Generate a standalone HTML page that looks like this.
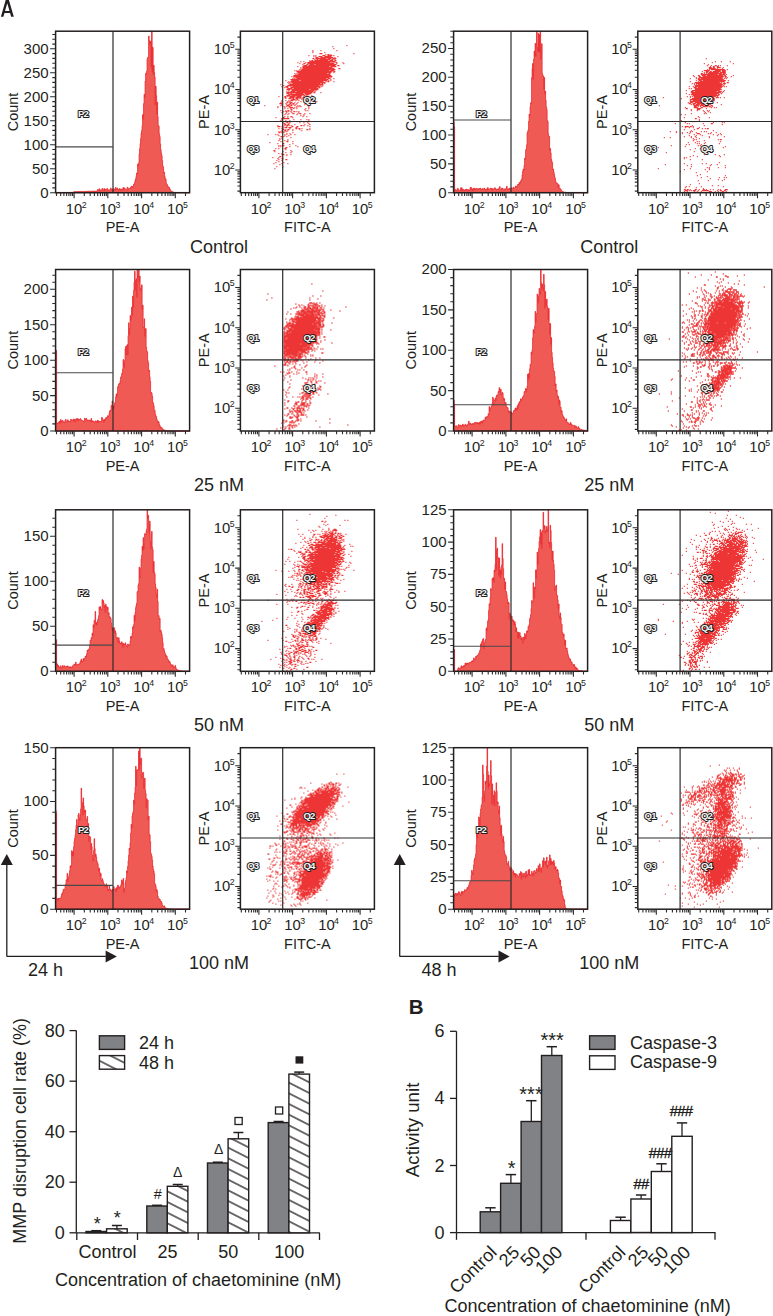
<!DOCTYPE html>
<html><head><meta charset="utf-8"><style>
html,body{margin:0;padding:0;background:#fff;}
body{width:773px;height:1316px;overflow:hidden;}
svg{display:block;font-family:"Liberation Sans", sans-serif;}
</style></head><body>
<svg width="773" height="1316" viewBox="0 0 773 1316">
<rect width="773" height="1316" fill="#fff"/>
<path d="M55.6 192.7L55.6 192.7L56.1 192.7L56.1 192.7L56.6 192.7L56.6 192.7L57.1 192.7L57.1 192.7L57.6 192.7L57.6 192.7L58.1 192.7L58.1 192.7L58.6 192.7L58.6 192.7L59.1 192.7L59.1 192.7L59.6 192.7L59.6 192.7L60.1 192.7L60.1 192.7L60.6 192.7L60.6 192.7L61.1 192.7L61.1 192.7L61.6 192.7L61.6 192.7L62.1 192.7L62.1 192.7L62.6 192.7L62.6 192.7L63.1 192.7L63.1 192.7L63.6 192.7L63.6 192.7L64.1 192.7L64.1 192.7L64.6 192.7L64.6 192.7L65.1 192.7L65.1 192.7L65.6 192.7L65.6 192.7L66.1 192.7L66.1 192.7L66.6 192.7L66.6 192.7L67.1 192.7L67.1 192.7L67.6 192.7L67.6 192.7L68.1 192.7L68.1 192.7L68.6 192.7L68.6 192.7L69.1 192.7L69.1 192.7L69.6 192.7L69.6 192.7L70.1 192.7L70.1 192.7L70.6 192.7L70.6 192.7L71.1 192.7L71.1 192.7L71.6 192.7L71.6 192.7L72.1 192.7L72.1 192.7L72.6 192.7L72.6 192.7L73.1 192.7L73.1 192.7L73.6 192.7L73.6 191.8L74.1 191.8L74.1 191.7L74.6 191.7L74.6 191.7L75.1 191.7L75.1 191.8L75.6 191.8L75.6 191.6L76.1 191.6L76.1 191.7L76.6 191.7L76.6 191.6L77.1 191.6L77.1 191.5L77.6 191.5L77.6 191.6L78.1 191.6L78.1 191.6L78.6 191.6L78.6 191.5L79.1 191.5L79.1 191.5L79.6 191.5L79.6 191.4L80.1 191.4L80.1 191.6L80.6 191.6L80.6 191.4L81.1 191.4L81.1 191.5L81.6 191.5L81.6 191.6L82.1 191.6L82.1 191.6L82.6 191.6L82.6 191.4L83.1 191.4L83.1 191.4L83.6 191.4L83.6 191.4L84.1 191.4L84.1 191.5L84.6 191.5L84.6 191.4L85.1 191.4L85.1 191.5L85.6 191.5L85.6 191.6L86.1 191.6L86.1 191.4L86.6 191.4L86.6 191.2L87.1 191.2L87.1 191.3L87.6 191.3L87.6 191.4L88.1 191.4L88.1 191.2L88.6 191.2L88.6 191.4L89.1 191.4L89.1 191.3L89.6 191.3L89.6 191.2L90.1 191.2L90.1 191.3L90.6 191.3L90.6 191.3L91.1 191.3L91.1 191.2L91.6 191.2L91.6 191.2L92.1 191.2L92.1 191.3L92.6 191.3L92.6 191.1L93.1 191.1L93.1 191.2L93.6 191.2L93.6 191.1L94.1 191.1L94.1 191.3L94.6 191.3L94.6 191.1L95.1 191.1L95.1 191.2L95.6 191.2L95.6 191.2L96.1 191.2L96.1 191.3L96.6 191.3L96.6 191L97.1 191L97.1 190.7L97.6 190.7L97.6 189.5L98.1 189.5L98.1 189.8L98.6 189.8L98.6 190.7L99.1 190.7L99.1 188.8L99.6 188.8L99.6 189.9L100.1 189.9L100.1 191L100.6 191L100.6 189.9L101.1 189.9L101.1 189.8L101.6 189.8L101.6 189.8L102.1 189.8L102.1 188.4L102.6 188.4L102.6 188.8L103.1 188.8L103.1 190L103.6 190L103.6 190.4L104.1 190.4L104.1 188.6L104.6 188.6L104.6 190.5L105.1 190.5L105.1 189.3L105.6 189.3L105.6 189.9L106.1 189.9L106.1 189.4L106.6 189.4L106.6 189.1L107.1 189.1L107.1 188.4L107.6 188.4L107.6 190.5L108.1 190.5L108.1 190.5L108.6 190.5L108.6 189.8L109.1 189.8L109.1 189.9L109.6 189.9L109.6 189.9L110.1 189.9L110.1 189.4L110.6 189.4L110.6 188L111.1 188L111.1 189.6L111.6 189.6L111.6 190.3L112.1 190.3L112.1 189.6L112.6 189.6L112.6 190.6L113.1 190.6L113.1 188.7L113.6 188.7L113.6 189.5L114.1 189.5L114.1 188.9L114.6 188.9L114.6 189.5L115.1 189.5L115.1 189.9L115.6 189.9L115.6 187.3L116.1 187.3L116.1 189.4L116.6 189.4L116.6 189.5L117.1 189.5L117.1 188L117.6 188L117.6 189.3L118.1 189.3L118.1 190L118.6 190L118.6 189.7L119.1 189.7L119.1 188.6L119.6 188.6L119.6 189.8L120.1 189.8L120.1 189L120.6 189L120.6 190.1L121.1 190.1L121.1 189.8L121.6 189.8L121.6 189L122.1 189L122.1 188.9L122.6 188.9L122.6 190L123.1 190L123.1 187.5L123.6 187.5L123.6 187.6L124.1 187.6L124.1 189.4L124.6 189.4L124.6 188.3L125.1 188.3L125.1 189.2L125.6 189.2L125.6 189.8L126.1 189.8L126.1 189.8L126.6 189.8L126.6 190.1L127.1 190.1L127.1 187.2L127.6 187.2L127.6 187.6L128.1 187.6L128.1 188.8L128.6 188.8L128.6 189L129.1 189L129.1 188.6L129.6 188.6L129.6 188.6L130.1 188.6L130.1 188.4L130.6 188.4L130.6 187L131.1 187L131.1 187.3L131.6 187.3L131.6 186.1L132.1 186.1L132.1 186.5L132.6 186.5L132.6 187.5L133.1 187.5L133.1 186.2L133.6 186.2L133.6 184.1L134.1 184.1L134.1 184.4L134.6 184.4L134.6 182.3L135.1 182.3L135.1 180.1L135.6 180.1L135.6 178.8L136.1 178.8L136.1 175.7L136.6 175.7L136.6 173L137.1 173L137.1 174L137.6 174L137.6 164.2L138.1 164.2L138.1 166.4L138.6 166.4L138.6 162.9L139.1 162.9L139.1 154.1L139.6 154.1L139.6 148.7L140.1 148.7L140.1 143.6L140.6 143.6L140.6 138.4L141.1 138.4L141.1 133L141.6 133L141.6 130.6L142.1 130.6L142.1 125.7L142.6 125.7L142.6 114.6L143.1 114.6L143.1 119.3L143.6 119.3L143.6 103.6L144.1 103.6L144.1 94.3L144.6 94.3L144.6 97.7L145.1 97.7L145.1 81.1L145.6 81.1L145.6 73.3L146.1 73.3L146.1 73.8L146.6 73.8L146.6 71.2L147.1 71.2L147.1 58.7L147.6 58.7L147.6 57.3L148.1 57.3L148.1 57.4L148.6 57.4L148.6 36L149.1 36L149.1 40.4L149.6 40.4L149.6 44.1L150.1 44.1L150.1 41.1L150.6 41.1L150.6 42.6L151.1 42.6L151.1 66.9L151.6 66.9L151.6 31.2L152.1 31.2L152.1 71.6L152.6 71.6L152.6 47.3L153.1 47.3L153.1 74.7L153.6 74.7L153.6 65.3L154.1 65.3L154.1 72.2L154.6 72.2L154.6 76.9L155.1 76.9L155.1 104.9L155.6 104.9L155.6 86.2L156.1 86.2L156.1 95.5L156.6 95.5L156.6 114.5L157.1 114.5L157.1 102.1L157.6 102.1L157.6 116.5L158.1 116.5L158.1 125.4L158.6 125.4L158.6 126L159.1 126L159.1 133.9L159.6 133.9L159.6 136.6L160.1 136.6L160.1 144.1L160.6 144.1L160.6 149.7L161.1 149.7L161.1 153.1L161.6 153.1L161.6 155.6L162.1 155.6L162.1 160.6L162.6 160.6L162.6 165.7L163.1 165.7L163.1 167.2L163.6 167.2L163.6 172.8L164.1 172.8L164.1 172.2L164.6 172.2L164.6 176.5L165.1 176.5L165.1 178.7L165.6 178.7L165.6 179.2L166.1 179.2L166.1 183.2L166.6 183.2L166.6 184.3L167.1 184.3L167.1 184.8L167.6 184.8L167.6 186.7L168.1 186.7L168.1 186.8L168.6 186.8L168.6 187.9L169.1 187.9L169.1 187.5L169.6 187.5L169.6 189.1L170.1 189.1L170.1 189.8L170.6 189.8L170.6 190.8L171.1 190.8L171.1 191.3L171.6 191.3L171.6 191.6L172.1 191.6L172.1 191.7L172.6 191.7L172.6 191.9L173.1 191.9L173.1 192.2L173.6 192.2L173.6 192.3L174.1 192.3L174.1 192.4L174.6 192.4L174.6 192.4L175.1 192.4L175.1 192.5L175.6 192.5L175.6 192.5L176.1 192.5L176.1 192.6L176.6 192.6L176.6 192.6L177.1 192.6L177.1 192.6L177.6 192.6L177.6 192.6L178.1 192.6L178.1 192.7L178.6 192.7L178.6 192.7L179.1 192.7L179.1 192.7L179.6 192.7L179.6 192.7L180.1 192.7L180.1 192.7L180.6 192.7L180.6 192.7L181.1 192.7L181.1 192.7L181.6 192.7L181.6 192.7L182.1 192.7L182.1 192.7L182.6 192.7L182.6 192.7L183.1 192.7L183.1 192.7L183.6 192.7L183.6 192.7L184.1 192.7L184.1 192.7L184.6 192.7L184.6 192.7L185.1 192.7L185.1 192.7L185.6 192.7L185.6 192.7L186.1 192.7L186.1 192.7L186.6 192.7L186.6 192.7L187.1 192.7L187.1 192.7L187.6 192.7L187.6 192.7L188.1 192.7L188.1 192.7L188.6 192.7L188.6 192.7L189.1 192.7L189.1 192.7L189.6 192.7L189.6 192.7Z" fill="#f05a55" stroke="#e8262b" stroke-width="0.8"/>
<line x1="113" y1="31.2" x2="113" y2="192.7" stroke="#2b2b2b" stroke-width="1.2"/>
<line x1="55.6" y1="146.9" x2="113" y2="146.9" stroke="#4a4a4a" stroke-width="1.1"/>
<rect x="55.6" y="31.2" width="134" height="161.5" fill="none" stroke="#231f20" stroke-width="1.5"/>
<text x="48.6" y="197.6" font-size="15" text-anchor="end" font-weight="normal" fill="#231f20">0</text>
<text x="48.6" y="173.6" font-size="15" text-anchor="end" font-weight="normal" fill="#231f20">50</text>
<text x="48.6" y="149.6" font-size="15" text-anchor="end" font-weight="normal" fill="#231f20">100</text>
<text x="48.6" y="125.7" font-size="15" text-anchor="end" font-weight="normal" fill="#231f20">150</text>
<text x="48.6" y="101.7" font-size="15" text-anchor="end" font-weight="normal" fill="#231f20">200</text>
<text x="48.6" y="77.7" font-size="15" text-anchor="end" font-weight="normal" fill="#231f20">250</text>
<text x="48.6" y="53.7" font-size="15" text-anchor="end" font-weight="normal" fill="#231f20">300</text>
<path d="M50.1 192.7h5.5M52.3 187.9h3.3M52.3 183.1h3.3M52.3 178.3h3.3M52.3 173.5h3.3M50.1 168.7h5.5M52.3 163.9h3.3M52.3 159.1h3.3M52.3 154.3h3.3M52.3 149.5h3.3M50.1 144.7h5.5M52.3 140h3.3M52.3 135.2h3.3M52.3 130.4h3.3M52.3 125.6h3.3M50.1 120.8h5.5M52.3 116h3.3M52.3 111.2h3.3M52.3 106.4h3.3M52.3 101.6h3.3M50.1 96.8h5.5M52.3 92h3.3M52.3 87.2h3.3M52.3 82.4h3.3M52.3 77.6h3.3M50.1 72.8h5.5M52.3 68h3.3M52.3 63.2h3.3M52.3 58.4h3.3M52.3 53.6h3.3M50.1 48.8h5.5M52.3 44.1h3.3M52.3 39.3h3.3M52.3 34.5h3.3" stroke="#2b2b2b" stroke-width="1.1" fill="none"/>
<path d="M56.5 192.7v3.2M60.7 192.7v3.2M63.9 192.7v3.2M66.6 192.7v3.2M68.9 192.7v3.2M70.8 192.7v3.2M72.6 192.7v3.2M74.1 192.7v5.5M84.3 192.7v3.2M90.2 192.7v3.2M94.4 192.7v3.2M97.7 192.7v3.2M100.4 192.7v3.2M102.6 192.7v3.2M104.6 192.7v3.2M106.3 192.7v3.2M107.8 192.7v5.5M118 192.7v3.2M124 192.7v3.2M128.2 192.7v3.2M131.4 192.7v3.2M134.1 192.7v3.2M136.4 192.7v3.2M138.3 192.7v3.2M140.1 192.7v3.2M141.6 192.7v5.5M151.8 192.7v3.2M157.7 192.7v3.2M161.9 192.7v3.2M165.2 192.7v3.2M167.9 192.7v3.2M170.1 192.7v3.2M172.1 192.7v3.2M173.8 192.7v3.2M175.3 192.7v5.5M185.5 192.7v3.2" stroke="#2b2b2b" stroke-width="1.1" fill="none"/>
<text x="74.1" y="213.5" font-size="14.8" text-anchor="middle" fill="#231f20">10</text>
<text x="81.7" y="207.5" font-size="8.8" fill="#231f20">2</text>
<text x="107.8" y="213.5" font-size="14.8" text-anchor="middle" fill="#231f20">10</text>
<text x="115.5" y="207.5" font-size="8.8" fill="#231f20">3</text>
<text x="141.6" y="213.5" font-size="14.8" text-anchor="middle" fill="#231f20">10</text>
<text x="149.2" y="207.5" font-size="8.8" fill="#231f20">4</text>
<text x="175.3" y="213.5" font-size="14.8" text-anchor="middle" fill="#231f20">10</text>
<text x="183" y="207.5" font-size="8.8" fill="#231f20">5</text>
<text x="18.4" y="112" font-size="14.5" text-anchor="middle" font-weight="normal" fill="#231f20" transform="rotate(-90 18.4 112)">Count</text>
<text x="122.6" y="232.2" font-size="14.5" text-anchor="middle" font-weight="normal" fill="#231f20">PE-A</text>
<text x="82.9" y="116.9" font-size="9.6" font-weight="bold" text-anchor="middle" fill="#f4f4f4" stroke="#231f20" stroke-width="2.0" stroke-linejoin="round" paint-order="stroke" letter-spacing="-0.9">P2</text>
<path transform="translate(240.4 31.2)" d="M106 14.5h1M92 15.5h1M93 17.5h1M72 19.5h1M80 19.5h1M96 19.5h1M72 20.5h1M72 21.5h1M84 21.5h1M79 22.5h3M113 22.5h1M85 23.5h1M87 23.5h2M90 23.5h1M68 24.5h1M73 24.5h1M75 24.5h1M82 24.5h3M87 24.5h5M93 24.5h1M73 25.5h1M75 25.5h1M78 25.5h4M84 25.5h7M97 25.5h1M75 26.5h3M80 26.5h13M94 26.5h1M72 27.5h2M75 27.5h11M87 27.5h4M92 27.5h4M74 28.5h1M76 28.5h2M79 28.5h11M91 28.5h2M94 28.5h1M69 29.5h1M71 29.5h2M74 29.5h14M89 29.5h4M94 29.5h2M60 30.5h1M63 30.5h1M69 30.5h26M57 31.5h1M65 31.5h1M67 31.5h23M91 31.5h1M93 31.5h1M95 31.5h2M102 31.5h1M59 32.5h1M63 32.5h2M67 32.5h27M96 32.5h1M103 32.5h1M62 33.5h1M66 33.5h2M69 33.5h5M75 33.5h21M63 34.5h4M68 34.5h27M97 34.5h2M57 35.5h1M62 35.5h27M90 35.5h6M60 36.5h1M62 36.5h30M60 37.5h1M62 37.5h32M98 37.5h2M59 38.5h1M61 38.5h34M54 39.5h1M56 39.5h1M58 39.5h1M60 39.5h29M90 39.5h4M56 40.5h36M93 40.5h2M57 41.5h34M93 41.5h1M54 42.5h1M56 42.5h1M58 42.5h29M88 42.5h2M55 43.5h1M57 43.5h33M53 44.5h38M51 45.5h1M53 45.5h39M53 46.5h1M55 46.5h34M90 46.5h1M52 47.5h1M54 47.5h1M56 47.5h30M87 47.5h3M93 47.5h1M50 48.5h38M90 48.5h1M45 49.5h1M51 49.5h8M60 49.5h27M88 49.5h1M90 49.5h1M48 50.5h1M50 50.5h33M85 50.5h1M87 50.5h2M93 50.5h1M47 51.5h1M49 51.5h1M51 51.5h34M48 52.5h1M50 52.5h1M52 52.5h28M81 52.5h2M84 52.5h1M40 53.5h1M49 53.5h34M43 54.5h1M47 54.5h32M80 54.5h1M82 54.5h1M41 55.5h1M45 55.5h3M50 55.5h1M52 55.5h28M81 55.5h1M44 56.5h1M46 56.5h2M50 56.5h27M78 56.5h2M47 57.5h5M53 57.5h25M46 58.5h4M51 58.5h18M70 58.5h8M48 59.5h1M51 59.5h23M75 59.5h1M46 60.5h1M48 60.5h1M50 60.5h5M56 60.5h17M74 60.5h1M46 61.5h26M73 61.5h2M80 61.5h1M46 62.5h3M50 62.5h2M53 62.5h1M55 62.5h8M64 62.5h7M48 63.5h16M65 63.5h4M46 64.5h4M51 64.5h11M63 64.5h2M66 64.5h1M71 64.5h1M38 65.5h1M44 65.5h2M47 65.5h1M49 65.5h6M56 65.5h5M63 65.5h1M67 65.5h1M44 66.5h2M49 66.5h5M55 66.5h6M62 66.5h2M65 66.5h1M45 67.5h1M48 67.5h3M52 67.5h2M55 67.5h3M59 67.5h1M61 67.5h1M65 67.5h1M51 68.5h4M56 68.5h2M61 68.5h1M67 68.5h1M41 69.5h1M45 69.5h1M48 69.5h1M50 69.5h3M55 69.5h1M58 69.5h1M64 69.5h1M66 69.5h1M68 69.5h1M74 69.5h1M41 70.5h1M47 70.5h1M49 70.5h1M60 70.5h1M65 70.5h1M69 70.5h1M76 70.5h1M40 71.5h1M46 71.5h2M49 71.5h3M54 71.5h1M57 71.5h1M39 72.5h3M45 72.5h1M49 72.5h2M52 72.5h2M56 72.5h1M41 73.5h1M46 73.5h1M48 73.5h2M51 73.5h1M53 73.5h1M55 73.5h1M64 73.5h1M68 73.5h1M24 74.5h1M40 74.5h1M46 74.5h3M50 74.5h2M54 74.5h1M57 74.5h1M59 74.5h1M67 74.5h1M37 75.5h1M42 75.5h1M44 75.5h1M46 75.5h1M48 75.5h2M56 75.5h1M58 75.5h1M60 75.5h1M68 75.5h1M37 76.5h1M44 76.5h1M49 76.5h4M54 76.5h1M56 76.5h1M68 76.5h1M44 77.5h1M47 77.5h1M50 77.5h1M53 77.5h1M56 77.5h1M65 77.5h1M68 77.5h1M50 78.5h2M64 78.5h1M40 79.5h1M45 79.5h1M47 79.5h2M51 79.5h1M65 79.5h1M67 79.5h1M43 80.5h1M45 80.5h2M48 80.5h1M50 80.5h1M53 80.5h2M56 80.5h1M58 80.5h1M41 81.5h1M46 81.5h1M51 81.5h1M58 81.5h1M45 82.5h1M48 82.5h1M52 82.5h2M57 82.5h1M59 82.5h2M64 82.5h1M69 82.5h1M44 83.5h1M47 83.5h1M56 83.5h1M63 83.5h1M60 84.5h1M63 84.5h1M44 85.5h1M47 85.5h1M50 85.5h2M62 85.5h1M66 85.5h1M35 86.5h1M42 86.5h2M47 86.5h1M52 86.5h1M41 87.5h8M41 88.5h1M53 88.5h1M60 88.5h1M66 88.5h1M68 88.5h1M40 89.5h1M45 89.5h1M49 89.5h1M68 89.5h1M42 90.5h1M44 90.5h2M50 90.5h1M56 90.5h1M64 90.5h1M66 90.5h2M42 91.5h1M46 91.5h2M49 91.5h1M59 91.5h1M63 91.5h1M67 91.5h1M43 92.5h2M48 92.5h1M68 92.5h1M44 93.5h2M47 93.5h2M54 93.5h1M64 93.5h1M69 93.5h1M37 94.5h1M42 94.5h1M44 94.5h1M46 94.5h2M49 94.5h1M51 94.5h1M60 94.5h2M63 94.5h1M67 94.5h1M37 95.5h3M41 95.5h2M46 95.5h1M51 95.5h2M56 95.5h2M69 95.5h1M42 96.5h1M44 96.5h3M48 96.5h3M55 96.5h2M38 97.5h1M41 97.5h2M49 97.5h1M55 97.5h2M58 97.5h2M61 97.5h1M69 97.5h1M42 98.5h2M45 98.5h1M47 98.5h2M52 98.5h1M59 98.5h1M66 98.5h2M69 98.5h1M41 99.5h1M44 99.5h2M47 99.5h1M52 99.5h1M61 99.5h1M38 100.5h1M40 100.5h1M42 100.5h1M44 100.5h1M46 100.5h1M38 101.5h2M41 101.5h1M43 101.5h1M52 101.5h1M46 102.5h1M49 102.5h1M27 103.5h1M35 103.5h1M37 103.5h1M44 103.5h1M46 103.5h1M50 103.5h1M54 103.5h1M38 104.5h1M44 104.5h1M48 104.5h1M40 105.5h2M43 105.5h1M46 105.5h1M50 106.5h1M39 107.5h1M41 107.5h1M39 108.5h1M47 108.5h1M38 109.5h1M44 109.5h1M47 109.5h1M40 110.5h1M46 110.5h2M52 110.5h1M29 111.5h1M37 112.5h1M42 112.5h2M52 112.5h1M49 113.5h1M38 114.5h1M40 114.5h1M42 114.5h2M55 114.5h1M38 115.5h1M40 115.5h1M49 115.5h1M57 115.5h1M45 116.5h2M35 117.5h1M38 117.5h1M44 117.5h2M45 118.5h1M33 119.5h2M50 119.5h1M34 120.5h1M42 120.5h1M51 120.5h1M45 121.5h1M50 121.5h1M38 122.5h1M41 122.5h1M41 123.5h3M46 123.5h1M50 123.5h1M46 124.5h1M39 125.5h2M32 126.5h1M38 126.5h1M37 127.5h1M41 127.5h2M38 128.5h1M45 128.5h2M36 129.5h1M41 129.5h1M38 130.5h1M35 131.5h1M43 131.5h1M33 132.5h1M41 132.5h1M47 132.5h1M39 133.5h1M36 135.5h1M42 135.5h1M34 137.5h1" stroke="#ee3535" stroke-width="1.3" fill="none"/>
<line x1="282.7" y1="31.2" x2="282.7" y2="192.7" stroke="#2b2b2b" stroke-width="1.2"/>
<line x1="240.4" y1="121.5" x2="374.4" y2="121.5" stroke="#2b2b2b" stroke-width="1.2"/>
<rect x="240.4" y="31.2" width="134" height="161.5" fill="none" stroke="#231f20" stroke-width="1.5"/>
<path d="M237.4 191.1h3M237.4 186h3M237.4 182.1h3M237.4 178.9h3M237.4 176.2h3M237.4 173.9h3M237.4 171.9h3M235.2 170h5.2M237.4 157.9h3M237.4 150.8h3M237.4 145.8h3M237.4 141.9h3M237.4 138.7h3M237.4 136h3M237.4 133.6h3M237.4 131.6h3M235.2 129.7h5.2M237.4 117.6h3M237.4 110.5h3M237.4 105.5h3M237.4 101.6h3M237.4 98.4h3M237.4 95.7h3M237.4 93.4h3M237.4 91.3h3M235.2 89.5h5.2M237.4 77.3h3M237.4 70.3h3M237.4 65.2h3M237.4 61.3h3M237.4 58.1h3M237.4 55.4h3M237.4 53.1h3M237.4 51h3M235.2 49.2h5.2M237.4 37.1h3" stroke="#2b2b2b" stroke-width="1.1" fill="none"/>
<text x="230.3" y="174.8" font-size="14.8" text-anchor="end" fill="#231f20">10</text>
<text x="229.7" y="168.8" font-size="8.8" fill="#231f20">2</text>
<text x="230.3" y="134.5" font-size="14.8" text-anchor="end" fill="#231f20">10</text>
<text x="229.7" y="128.5" font-size="8.8" fill="#231f20">3</text>
<text x="230.3" y="94.3" font-size="14.8" text-anchor="end" fill="#231f20">10</text>
<text x="229.7" y="88.3" font-size="8.8" fill="#231f20">4</text>
<text x="230.3" y="54" font-size="14.8" text-anchor="end" fill="#231f20">10</text>
<text x="229.7" y="48" font-size="8.8" fill="#231f20">5</text>
<path d="M241.3 192.7v3.2M245.5 192.7v3.2M248.7 192.7v3.2M251.4 192.7v3.2M253.7 192.7v3.2M255.6 192.7v3.2M257.4 192.7v3.2M258.9 192.7v5.5M269.1 192.7v3.2M275 192.7v3.2M279.2 192.7v3.2M282.5 192.7v3.2M285.2 192.7v3.2M287.4 192.7v3.2M289.4 192.7v3.2M291.1 192.7v3.2M292.6 192.7v5.5M302.8 192.7v3.2M308.8 192.7v3.2M313 192.7v3.2M316.2 192.7v3.2M318.9 192.7v3.2M321.2 192.7v3.2M323.1 192.7v3.2M324.9 192.7v3.2M326.4 192.7v5.5M336.6 192.7v3.2M342.5 192.7v3.2M346.7 192.7v3.2M350 192.7v3.2M352.7 192.7v3.2M354.9 192.7v3.2M356.9 192.7v3.2M358.6 192.7v3.2M360.1 192.7v5.5M370.3 192.7v3.2" stroke="#2b2b2b" stroke-width="1.1" fill="none"/>
<text x="258.9" y="213.5" font-size="14.8" text-anchor="middle" fill="#231f20">10</text>
<text x="266.5" y="207.5" font-size="8.8" fill="#231f20">2</text>
<text x="292.6" y="213.5" font-size="14.8" text-anchor="middle" fill="#231f20">10</text>
<text x="300.3" y="207.5" font-size="8.8" fill="#231f20">3</text>
<text x="326.4" y="213.5" font-size="14.8" text-anchor="middle" fill="#231f20">10</text>
<text x="334" y="207.5" font-size="8.8" fill="#231f20">4</text>
<text x="360.1" y="213.5" font-size="14.8" text-anchor="middle" fill="#231f20">10</text>
<text x="367.8" y="207.5" font-size="8.8" fill="#231f20">5</text>
<text x="209.2" y="112" font-size="14.5" text-anchor="middle" font-weight="normal" fill="#231f20" transform="rotate(-90 209.2 112)">PE-A</text>
<text x="307.4" y="232.2" font-size="14.5" text-anchor="middle" font-weight="normal" fill="#231f20">FITC-A</text>
<text x="252.7" y="102.6" font-size="9.6" font-weight="bold" text-anchor="middle" fill="#f4f4f4" stroke="#231f20" stroke-width="2.0" stroke-linejoin="round" paint-order="stroke" letter-spacing="-0.9">Q1</text>
<text x="309" y="102.6" font-size="9.6" font-weight="bold" text-anchor="middle" fill="#f4f4f4" stroke="#231f20" stroke-width="2.0" stroke-linejoin="round" paint-order="stroke" letter-spacing="-0.9">Q2</text>
<text x="252.7" y="152.3" font-size="9.6" font-weight="bold" text-anchor="middle" fill="#f4f4f4" stroke="#231f20" stroke-width="2.0" stroke-linejoin="round" paint-order="stroke" letter-spacing="-0.9">Q3</text>
<text x="309" y="152.3" font-size="9.6" font-weight="bold" text-anchor="middle" fill="#f4f4f4" stroke="#231f20" stroke-width="2.0" stroke-linejoin="round" paint-order="stroke" letter-spacing="-0.9">Q4</text>
<path d="M453.6 192.7L453.6 122.1L454.1 122.1L454.1 127L454.6 127L454.6 190L455.1 190L455.1 190.6L455.6 190.6L455.6 189.4L456.1 189.4L456.1 190.5L456.6 190.5L456.6 190.2L457.1 190.2L457.1 190.2L457.6 190.2L457.6 188.3L458.1 188.3L458.1 189.4L458.6 189.4L458.6 190.5L459.1 190.5L459.1 190.4L459.6 190.4L459.6 190.4L460.1 190.4L460.1 189.9L460.6 189.9L460.6 187.8L461.1 187.8L461.1 190.6L461.6 190.6L461.6 187.8L462.1 187.8L462.1 189.1L462.6 189.1L462.6 190.3L463.1 190.3L463.1 189.5L463.6 189.5L463.6 190.6L464.1 190.6L464.1 190L464.6 190L464.6 190.4L465.1 190.4L465.1 189.5L465.6 189.5L465.6 189.5L466.1 189.5L466.1 189.1L466.6 189.1L466.6 190.3L467.1 190.3L467.1 189.6L467.6 189.6L467.6 189.9L468.1 189.9L468.1 189.9L468.6 189.9L468.6 189.7L469.1 189.7L469.1 190.6L469.6 190.6L469.6 189.9L470.1 189.9L470.1 187.3L470.6 187.3L470.6 188.4L471.1 188.4L471.1 187.7L471.6 187.7L471.6 190.3L472.1 190.3L472.1 189.1L472.6 189.1L472.6 190.1L473.1 190.1L473.1 188.3L473.6 188.3L473.6 190.4L474.1 190.4L474.1 188.3L474.6 188.3L474.6 188.7L475.1 188.7L475.1 188.7L475.6 188.7L475.6 190L476.1 190L476.1 189.4L476.6 189.4L476.6 188.2L477.1 188.2L477.1 189.2L477.6 189.2L477.6 189.1L478.1 189.1L478.1 188.7L478.6 188.7L478.6 189.6L479.1 189.6L479.1 188.6L479.6 188.6L479.6 188.8L480.1 188.8L480.1 188L480.6 188L480.6 189.4L481.1 189.4L481.1 189L481.6 189L481.6 189.6L482.1 189.6L482.1 189.1L482.6 189.1L482.6 188.6L483.1 188.6L483.1 189.2L483.6 189.2L483.6 189.7L484.1 189.7L484.1 188L484.6 188L484.6 189.6L485.1 189.6L485.1 189.7L485.6 189.7L485.6 190L486.1 190L486.1 188.9L486.6 188.9L486.6 189.2L487.1 189.2L487.1 190L487.6 190L487.6 187.6L488.1 187.6L488.1 189.2L488.6 189.2L488.6 189.1L489.1 189.1L489.1 189.2L489.6 189.2L489.6 189.1L490.1 189.1L490.1 188.3L490.6 188.3L490.6 188.2L491.1 188.2L491.1 188.9L491.6 188.9L491.6 188.5L492.1 188.5L492.1 190.2L492.6 190.2L492.6 188.7L493.1 188.7L493.1 189.7L493.6 189.7L493.6 189.3L494.1 189.3L494.1 188.4L494.6 188.4L494.6 187.8L495.1 187.8L495.1 188L495.6 188L495.6 188.8L496.1 188.8L496.1 189.6L496.6 189.6L496.6 189.7L497.1 189.7L497.1 189.1L497.6 189.1L497.6 189.2L498.1 189.2L498.1 189.7L498.6 189.7L498.6 188.6L499.1 188.6L499.1 187.8L499.6 187.8L499.6 186.6L500.1 186.6L500.1 189.9L500.6 189.9L500.6 189.8L501.1 189.8L501.1 189.2L501.6 189.2L501.6 188.1L502.1 188.1L502.1 188.7L502.6 188.7L502.6 188.3L503.1 188.3L503.1 189.9L503.6 189.9L503.6 189.9L504.1 189.9L504.1 188.9L504.6 188.9L504.6 189L505.1 189L505.1 189.3L505.6 189.3L505.6 189.1L506.1 189.1L506.1 188L506.6 188L506.6 186.2L507.1 186.2L507.1 189.7L507.6 189.7L507.6 189.2L508.1 189.2L508.1 188.9L508.6 188.9L508.6 189.7L509.1 189.7L509.1 188.2L509.6 188.2L509.6 188.8L510.1 188.8L510.1 188.7L510.6 188.7L510.6 188.5L511.1 188.5L511.1 187.8L511.6 187.8L511.6 188.4L512.1 188.4L512.1 188.7L512.6 188.7L512.6 188.7L513.1 188.7L513.1 187.1L513.6 187.1L513.6 188.5L514.1 188.5L514.1 188.3L514.6 188.3L514.6 188.4L515.1 188.4L515.1 186.8L515.6 186.8L515.6 185.9L516.1 185.9L516.1 187.3L516.6 187.3L516.6 186.5L517.1 186.5L517.1 186.5L517.6 186.5L517.6 184.5L518.1 184.5L518.1 184.1L518.6 184.1L518.6 184.8L519.1 184.8L519.1 182.5L519.6 182.5L519.6 183.6L520.1 183.6L520.1 182.6L520.6 182.6L520.6 180.8L521.1 180.8L521.1 180.1L521.6 180.1L521.6 179.1L522.1 179.1L522.1 174.8L522.6 174.8L522.6 171.2L523.1 171.2L523.1 169L523.6 169L523.6 170.2L524.1 170.2L524.1 165.2L524.6 165.2L524.6 158.2L525.1 158.2L525.1 159.4L525.6 159.4L525.6 150.1L526.1 150.1L526.1 148.6L526.6 148.6L526.6 144.8L527.1 144.8L527.1 132.8L527.6 132.8L527.6 131.4L528.1 131.4L528.1 129.7L528.6 129.7L528.6 121.3L529.1 121.3L529.1 114.1L529.6 114.1L529.6 116.1L530.1 116.1L530.1 106.8L530.6 106.8L530.6 102.8L531.1 102.8L531.1 103.6L531.6 103.6L531.6 77.7L532.1 77.7L532.1 68.6L532.6 68.6L532.6 63.5L533.1 63.5L533.1 79.5L533.6 79.5L533.6 59.1L534.1 59.1L534.1 51.1L534.6 51.1L534.6 56L535.1 56L535.1 43.3L535.6 43.3L535.6 56.5L536.1 56.5L536.1 54.2L536.6 54.2L536.6 31.2L537.1 31.2L537.1 47.5L537.6 47.5L537.6 50.6L538.1 50.6L538.1 33.4L538.6 33.4L538.6 52L539.1 52L539.1 34.4L539.6 34.4L539.6 51.9L540.1 51.9L540.1 31.2L540.6 31.2L540.6 59.2L541.1 59.2L541.1 51.9L541.6 51.9L541.6 43.7L542.1 43.7L542.1 73.3L542.6 73.3L542.6 75.9L543.1 75.9L543.1 75.8L543.6 75.8L543.6 89.4L544.1 89.4L544.1 77.5L544.6 77.5L544.6 93.7L545.1 93.7L545.1 91.1L545.6 91.1L545.6 100.3L546.1 100.3L546.1 107L546.6 107L546.6 109.4L547.1 109.4L547.1 120.3L547.6 120.3L547.6 121.6L548.1 121.6L548.1 133.8L548.6 133.8L548.6 136.3L549.1 136.3L549.1 136.5L549.6 136.5L549.6 150.3L550.1 150.3L550.1 148.6L550.6 148.6L550.6 152.9L551.1 152.9L551.1 159.1L551.6 159.1L551.6 161.3L552.1 161.3L552.1 162.7L552.6 162.7L552.6 169.3L553.1 169.3L553.1 169L553.6 169L553.6 172.1L554.1 172.1L554.1 174.6L554.6 174.6L554.6 177.2L555.1 177.2L555.1 178.9L555.6 178.9L555.6 181.7L556.1 181.7L556.1 182.9L556.6 182.9L556.6 183.6L557.1 183.6L557.1 183.3L557.6 183.3L557.6 184.3L558.1 184.3L558.1 187.4L558.6 187.4L558.6 184.8L559.1 184.8L559.1 188.3L559.6 188.3L559.6 188L560.1 188L560.1 189.2L560.6 189.2L560.6 189.2L561.1 189.2L561.1 190.3L561.6 190.3L561.6 191.4L562.1 191.4L562.1 191.5L562.6 191.5L562.6 191.8L563.1 191.8L563.1 191.9L563.6 191.9L563.6 192L564.1 192L564.1 192.2L564.6 192.2L564.6 192.3L565.1 192.3L565.1 192.3L565.6 192.3L565.6 192.4L566.1 192.4L566.1 192.5L566.6 192.5L566.6 192.5L567.1 192.5L567.1 192.6L567.6 192.6L567.6 192.6L568.1 192.6L568.1 192.6L568.6 192.6L568.6 192.6L569.1 192.6L569.1 192.6L569.6 192.6L569.6 192.7L570.1 192.7L570.1 192.7L570.6 192.7L570.6 192.7L571.1 192.7L571.1 192.7L571.6 192.7L571.6 192.7L572.1 192.7L572.1 192.7L572.6 192.7L572.6 192.7L573.1 192.7L573.1 192.7L573.6 192.7L573.6 192.7L574.1 192.7L574.1 192.7L574.6 192.7L574.6 192.7L575.1 192.7L575.1 192.7L575.6 192.7L575.6 192.7L576.1 192.7L576.1 192.7L576.6 192.7L576.6 192.7L577.1 192.7L577.1 192.7L577.6 192.7L577.6 192.7L578.1 192.7L578.1 192.7L578.6 192.7L578.6 192.7L579.1 192.7L579.1 192.7L579.6 192.7L579.6 192.7L580.1 192.7L580.1 192.7L580.6 192.7L580.6 192.7L581.1 192.7L581.1 192.7L581.6 192.7L581.6 192.7L582.1 192.7L582.1 192.7L582.6 192.7L582.6 192.7L583.1 192.7L583.1 192.7L583.6 192.7L583.6 192.7L584.1 192.7L584.1 192.7L584.6 192.7L584.6 192.7L585.1 192.7L585.1 192.7L585.6 192.7L585.6 192.7L586.1 192.7L586.1 192.7L586.6 192.7L586.6 192.7L587.1 192.7L587.1 192.7L587.6 192.7L587.6 192.7Z" fill="#f05a55" stroke="#e8262b" stroke-width="0.8"/>
<line x1="511" y1="31.2" x2="511" y2="192.7" stroke="#2b2b2b" stroke-width="1.2"/>
<line x1="453.6" y1="120" x2="511" y2="120" stroke="#4a4a4a" stroke-width="1.1"/>
<rect x="453.6" y="31.2" width="134" height="161.5" fill="none" stroke="#231f20" stroke-width="1.5"/>
<text x="446.6" y="197.6" font-size="15" text-anchor="end" font-weight="normal" fill="#231f20">0</text>
<text x="446.6" y="168.8" font-size="15" text-anchor="end" font-weight="normal" fill="#231f20">50</text>
<text x="446.6" y="139.9" font-size="15" text-anchor="end" font-weight="normal" fill="#231f20">100</text>
<text x="446.6" y="111.1" font-size="15" text-anchor="end" font-weight="normal" fill="#231f20">150</text>
<text x="446.6" y="82.2" font-size="15" text-anchor="end" font-weight="normal" fill="#231f20">200</text>
<text x="446.6" y="53.4" font-size="15" text-anchor="end" font-weight="normal" fill="#231f20">250</text>
<path d="M448.1 192.7h5.5M450.3 186.9h3.3M450.3 181.2h3.3M450.3 175.4h3.3M450.3 169.6h3.3M448.1 163.9h5.5M450.3 158.1h3.3M450.3 152.3h3.3M450.3 146.6h3.3M450.3 140.8h3.3M448.1 135h5.5M450.3 129.3h3.3M450.3 123.5h3.3M450.3 117.7h3.3M450.3 111.9h3.3M448.1 106.2h5.5M450.3 100.4h3.3M450.3 94.6h3.3M450.3 88.9h3.3M450.3 83.1h3.3M448.1 77.3h5.5M450.3 71.6h3.3M450.3 65.8h3.3M450.3 60h3.3M450.3 54.3h3.3M448.1 48.5h5.5M450.3 42.7h3.3M450.3 37h3.3M450.3 31.2h3.3" stroke="#2b2b2b" stroke-width="1.1" fill="none"/>
<path d="M454.5 192.7v3.2M458.7 192.7v3.2M461.9 192.7v3.2M464.6 192.7v3.2M466.9 192.7v3.2M468.8 192.7v3.2M470.6 192.7v3.2M472.1 192.7v5.5M482.3 192.7v3.2M488.2 192.7v3.2M492.4 192.7v3.2M495.7 192.7v3.2M498.4 192.7v3.2M500.6 192.7v3.2M502.6 192.7v3.2M504.3 192.7v3.2M505.9 192.7v5.5M516 192.7v3.2M522 192.7v3.2M526.2 192.7v3.2M529.4 192.7v3.2M532.1 192.7v3.2M534.4 192.7v3.2M536.3 192.7v3.2M538.1 192.7v3.2M539.6 192.7v5.5M549.8 192.7v3.2M555.7 192.7v3.2M559.9 192.7v3.2M563.2 192.7v3.2M565.9 192.7v3.2M568.1 192.7v3.2M570.1 192.7v3.2M571.8 192.7v3.2M573.4 192.7v5.5M583.5 192.7v3.2" stroke="#2b2b2b" stroke-width="1.1" fill="none"/>
<text x="472.1" y="213.5" font-size="14.8" text-anchor="middle" fill="#231f20">10</text>
<text x="479.7" y="207.5" font-size="8.8" fill="#231f20">2</text>
<text x="505.9" y="213.5" font-size="14.8" text-anchor="middle" fill="#231f20">10</text>
<text x="513.5" y="207.5" font-size="8.8" fill="#231f20">3</text>
<text x="539.6" y="213.5" font-size="14.8" text-anchor="middle" fill="#231f20">10</text>
<text x="547.2" y="207.5" font-size="8.8" fill="#231f20">4</text>
<text x="573.4" y="213.5" font-size="14.8" text-anchor="middle" fill="#231f20">10</text>
<text x="581" y="207.5" font-size="8.8" fill="#231f20">5</text>
<text x="416.4" y="112" font-size="14.5" text-anchor="middle" font-weight="normal" fill="#231f20" transform="rotate(-90 416.4 112)">Count</text>
<text x="520.6" y="232.2" font-size="14.5" text-anchor="middle" font-weight="normal" fill="#231f20">PE-A</text>
<text x="480.9" y="116.9" font-size="9.6" font-weight="bold" text-anchor="middle" fill="#f4f4f4" stroke="#231f20" stroke-width="2.0" stroke-linejoin="round" paint-order="stroke" letter-spacing="-0.9">P2</text>
<path transform="translate(637.8 31.2)" d="M68 27.5h1M77 30.5h1M83 30.5h1M92 30.5h1M74 31.5h1M66 32.5h1M95 32.5h1M70 33.5h1M69 34.5h1M73 34.5h1M77 34.5h2M80 34.5h1M82 34.5h1M89 34.5h1M72 35.5h1M75 35.5h2M79 35.5h2M71 36.5h3M75 36.5h2M79 36.5h4M85 36.5h1M71 37.5h7M79 37.5h1M84 37.5h1M69 38.5h1M71 38.5h1M73 38.5h14M89 38.5h1M66 39.5h6M77 39.5h6M84 39.5h4M64 40.5h1M68 40.5h3M72 40.5h2M75 40.5h8M84 40.5h4M66 41.5h1M68 41.5h2M71 41.5h10M82 41.5h6M63 42.5h2M66 42.5h1M68 42.5h1M70 42.5h14M85 42.5h3M63 43.5h17M81 43.5h6M88 43.5h1M55 44.5h1M60 44.5h2M64 44.5h4M69 44.5h16M86 44.5h2M95 44.5h1M56 45.5h1M61 45.5h2M65 45.5h21M87 45.5h2M93 45.5h1M58 46.5h1M61 46.5h24M87 46.5h1M89 46.5h1M52 47.5h1M58 47.5h1M60 47.5h2M63 47.5h22M86 47.5h1M88 47.5h1M60 48.5h26M58 49.5h1M61 49.5h3M65 49.5h23M90 49.5h1M52 50.5h1M60 50.5h1M62 50.5h25M57 51.5h25M83 51.5h1M86 51.5h1M89 51.5h2M54 52.5h1M56 52.5h1M58 52.5h26M85 52.5h3M56 53.5h1M58 53.5h1M60 53.5h25M86 53.5h1M57 54.5h27M85 54.5h1M51 55.5h1M55 55.5h1M57 55.5h28M86 55.5h1M88 55.5h1M56 56.5h3M60 56.5h24M51 57.5h1M53 57.5h1M57 57.5h26M57 58.5h27M48 59.5h1M54 59.5h28M86 59.5h1M53 60.5h3M57 60.5h22M80 60.5h4M85 60.5h1M53 61.5h30M84 61.5h1M48 62.5h1M54 62.5h27M83 62.5h1M51 63.5h1M53 63.5h26M80 63.5h2M55 64.5h26M49 65.5h1M52 65.5h1M54 65.5h1M56 65.5h22M79 65.5h1M25 66.5h1M52 66.5h1M56 66.5h20M78 66.5h3M82 66.5h1M86 66.5h1M43 67.5h1M54 67.5h23M52 68.5h22M75 68.5h2M52 69.5h1M55 69.5h15M71 69.5h1M73 69.5h1M75 69.5h2M52 70.5h21M50 71.5h1M52 71.5h3M57 71.5h13M71 71.5h1M73 71.5h2M79 71.5h1M51 72.5h2M55 72.5h3M59 72.5h7M68 72.5h1M70 72.5h1M73 72.5h1M53 73.5h1M55 73.5h2M58 73.5h4M63 73.5h6M70 73.5h3M83 73.5h1M21 74.5h1M56 74.5h5M62 74.5h4M67 74.5h4M73 74.5h2M56 75.5h3M60 75.5h1M62 75.5h1M65 75.5h5M71 75.5h2M74 75.5h1M47 76.5h1M56 76.5h4M63 76.5h2M73 76.5h1M76 76.5h1M78 76.5h1M48 77.5h2M59 77.5h4M68 77.5h1M53 78.5h1M59 78.5h3M53 79.5h1M59 79.5h1M65 79.5h1M69 79.5h1M71 79.5h1M66 80.5h1M70 80.5h1M67 81.5h1M72 81.5h1M53 82.5h1M66 82.5h1M68 82.5h1M43 83.5h1M47 83.5h1M60 85.5h1M46 86.5h1M61 86.5h1M71 86.5h1M57 87.5h2M61 88.5h1M43 89.5h1M61 89.5h1M54 90.5h1M56 90.5h1M47 91.5h1M75 91.5h1M84 91.5h1M86 91.5h1M37 92.5h1M49 92.5h1M51 92.5h1M65 92.5h1M73 92.5h2M84 93.5h1M54 94.5h1M66 94.5h1M44 95.5h1M47 95.5h4M52 95.5h2M55 95.5h1M47 96.5h1M51 96.5h1M55 96.5h1M61 96.5h1M59 97.5h2M64 97.5h1M67 97.5h1M69 97.5h2M46 98.5h1M56 98.5h1M53 99.5h1M75 99.5h1M32 100.5h1M38 100.5h1M52 100.5h1M54 100.5h1M63 100.5h1M66 100.5h1M68 100.5h1M38 101.5h1M44 101.5h1M49 101.5h1M52 101.5h1M58 101.5h1M73 101.5h1M78 101.5h1M44 102.5h1M51 102.5h1M59 102.5h3M70 102.5h1M72 102.5h1M82 102.5h1M56 103.5h1M62 103.5h1M75 103.5h1M80 103.5h1M83 103.5h1M51 104.5h1M58 104.5h1M64 104.5h1M79 104.5h1M46 105.5h1M53 105.5h1M57 105.5h1M71 105.5h1M86 105.5h1M26 106.5h1M32 106.5h1M53 106.5h1M58 106.5h1M71 106.5h1M55 107.5h1M61 107.5h1M56 108.5h1M58 108.5h1M80 108.5h1M82 108.5h2M55 109.5h1M66 109.5h1M59 110.5h1M61 110.5h1M82 110.5h1M50 111.5h1M57 111.5h1M67 111.5h1M59 112.5h1M61 112.5h1M66 112.5h1M81 112.5h1M48 113.5h1M51 113.5h1M63 113.5h1M33 114.5h1M60 114.5h1M62 114.5h1M47 115.5h1M87 115.5h1M20 116.5h1M85 116.5h1M57 117.5h1M62 117.5h2M73 117.5h2M52 118.5h1M66 119.5h1M56 120.5h1M28 121.5h1M66 123.5h1M77 123.5h1M86 123.5h1M55 124.5h1M81 124.5h1M52 125.5h1M59 125.5h1M82 125.5h1M46 126.5h1M48 126.5h1M46 127.5h1M52 128.5h1M64 128.5h1M81 131.5h1M46 132.5h1M64 132.5h1M68 132.5h1M27 133.5h1M53 133.5h1M73 133.5h1M79 133.5h1M49 134.5h1M72 134.5h1M87 134.5h1M53 135.5h1M69 136.5h1M71 136.5h1M80 136.5h1M87 136.5h1M20 137.5h1M52 137.5h1M71 137.5h1M46 138.5h1M67 138.5h1M71 138.5h1M42 140.5h1M69 140.5h1M58 141.5h1M62 143.5h1M59 144.5h1M87 144.5h1M69 145.5h1M63 146.5h1M81 146.5h1M86 146.5h1M88 146.5h1M72 147.5h1M80 148.5h1M86 148.5h1M60 149.5h1M70 149.5h1M84 149.5h1M61 152.5h1M52 153.5h1M74 154.5h1M80 154.5h1M48 155.5h1M51 155.5h1M63 155.5h1M85 155.5h1M47 156.5h1M58 156.5h1M65 157.5h1M46 158.5h2M49 158.5h2M52 158.5h1M57 158.5h2M61 158.5h1M65 158.5h2M68 158.5h1M72 158.5h1M75 158.5h1M80 158.5h1M82 158.5h1M87 158.5h3M47 159.5h3M51 159.5h1M53 159.5h1M55 159.5h3M60 159.5h1M64 159.5h7M79 159.5h1M82 159.5h2M86 159.5h2M46 160.5h1M49 160.5h1M56 160.5h1M59 160.5h1M63 160.5h1M71 160.5h3M77 160.5h1M80 160.5h1M84 160.5h2M88 160.5h1" stroke="#ee3535" stroke-width="1.3" fill="none"/>
<line x1="680.1" y1="31.2" x2="680.1" y2="192.7" stroke="#2b2b2b" stroke-width="1.2"/>
<line x1="637.8" y1="121.5" x2="771.8" y2="121.5" stroke="#2b2b2b" stroke-width="1.2"/>
<rect x="637.8" y="31.2" width="134" height="161.5" fill="none" stroke="#231f20" stroke-width="1.5"/>
<path d="M634.8 191.1h3M634.8 186h3M634.8 182.1h3M634.8 178.9h3M634.8 176.2h3M634.8 173.9h3M634.8 171.9h3M632.6 170h5.2M634.8 157.9h3M634.8 150.8h3M634.8 145.8h3M634.8 141.9h3M634.8 138.7h3M634.8 136h3M634.8 133.6h3M634.8 131.6h3M632.6 129.7h5.2M634.8 117.6h3M634.8 110.5h3M634.8 105.5h3M634.8 101.6h3M634.8 98.4h3M634.8 95.7h3M634.8 93.4h3M634.8 91.3h3M632.6 89.5h5.2M634.8 77.3h3M634.8 70.3h3M634.8 65.2h3M634.8 61.3h3M634.8 58.1h3M634.8 55.4h3M634.8 53.1h3M634.8 51h3M632.6 49.2h5.2M634.8 37.1h3" stroke="#2b2b2b" stroke-width="1.1" fill="none"/>
<text x="627.7" y="174.8" font-size="14.8" text-anchor="end" fill="#231f20">10</text>
<text x="627.1" y="168.8" font-size="8.8" fill="#231f20">2</text>
<text x="627.7" y="134.5" font-size="14.8" text-anchor="end" fill="#231f20">10</text>
<text x="627.1" y="128.5" font-size="8.8" fill="#231f20">3</text>
<text x="627.7" y="94.3" font-size="14.8" text-anchor="end" fill="#231f20">10</text>
<text x="627.1" y="88.3" font-size="8.8" fill="#231f20">4</text>
<text x="627.7" y="54" font-size="14.8" text-anchor="end" fill="#231f20">10</text>
<text x="627.1" y="48" font-size="8.8" fill="#231f20">5</text>
<path d="M638.7 192.7v3.2M642.9 192.7v3.2M646.1 192.7v3.2M648.8 192.7v3.2M651.1 192.7v3.2M653 192.7v3.2M654.8 192.7v3.2M656.3 192.7v5.5M666.5 192.7v3.2M672.4 192.7v3.2M676.6 192.7v3.2M679.9 192.7v3.2M682.6 192.7v3.2M684.8 192.7v3.2M686.8 192.7v3.2M688.5 192.7v3.2M690 192.7v5.5M700.2 192.7v3.2M706.2 192.7v3.2M710.4 192.7v3.2M713.6 192.7v3.2M716.3 192.7v3.2M718.6 192.7v3.2M720.5 192.7v3.2M722.3 192.7v3.2M723.8 192.7v5.5M734 192.7v3.2M739.9 192.7v3.2M744.1 192.7v3.2M747.4 192.7v3.2M750.1 192.7v3.2M752.3 192.7v3.2M754.3 192.7v3.2M756 192.7v3.2M757.5 192.7v5.5M767.7 192.7v3.2" stroke="#2b2b2b" stroke-width="1.1" fill="none"/>
<text x="656.3" y="213.5" font-size="14.8" text-anchor="middle" fill="#231f20">10</text>
<text x="663.9" y="207.5" font-size="8.8" fill="#231f20">2</text>
<text x="690" y="213.5" font-size="14.8" text-anchor="middle" fill="#231f20">10</text>
<text x="697.7" y="207.5" font-size="8.8" fill="#231f20">3</text>
<text x="723.8" y="213.5" font-size="14.8" text-anchor="middle" fill="#231f20">10</text>
<text x="731.4" y="207.5" font-size="8.8" fill="#231f20">4</text>
<text x="757.5" y="213.5" font-size="14.8" text-anchor="middle" fill="#231f20">10</text>
<text x="765.2" y="207.5" font-size="8.8" fill="#231f20">5</text>
<text x="606.6" y="112" font-size="14.5" text-anchor="middle" font-weight="normal" fill="#231f20" transform="rotate(-90 606.6 112)">PE-A</text>
<text x="704.8" y="232.2" font-size="14.5" text-anchor="middle" font-weight="normal" fill="#231f20">FITC-A</text>
<text x="650.1" y="102.6" font-size="9.6" font-weight="bold" text-anchor="middle" fill="#f4f4f4" stroke="#231f20" stroke-width="2.0" stroke-linejoin="round" paint-order="stroke" letter-spacing="-0.9">Q1</text>
<text x="706.4" y="102.6" font-size="9.6" font-weight="bold" text-anchor="middle" fill="#f4f4f4" stroke="#231f20" stroke-width="2.0" stroke-linejoin="round" paint-order="stroke" letter-spacing="-0.9">Q2</text>
<text x="650.1" y="152.3" font-size="9.6" font-weight="bold" text-anchor="middle" fill="#f4f4f4" stroke="#231f20" stroke-width="2.0" stroke-linejoin="round" paint-order="stroke" letter-spacing="-0.9">Q3</text>
<text x="706.4" y="152.3" font-size="9.6" font-weight="bold" text-anchor="middle" fill="#f4f4f4" stroke="#231f20" stroke-width="2.0" stroke-linejoin="round" paint-order="stroke" letter-spacing="-0.9">Q4</text>
<path d="M55.6 431L55.6 357.7L56.1 357.7L56.1 350.4L56.6 350.4L56.6 422.6L57.1 422.6L57.1 423.9L57.6 423.9L57.6 423.2L58.1 423.2L58.1 423.1L58.6 423.1L58.6 422.4L59.1 422.4L59.1 421.2L59.6 421.2L59.6 423.5L60.1 423.5L60.1 421.3L60.6 421.3L60.6 419.6L61.1 419.6L61.1 422.4L61.6 422.4L61.6 421.2L62.1 421.2L62.1 420.5L62.6 420.5L62.6 420.8L63.1 420.8L63.1 421.4L63.6 421.4L63.6 422.4L64.1 422.4L64.1 422.9L64.6 422.9L64.6 421.8L65.1 421.8L65.1 419.7L65.6 419.7L65.6 419.6L66.1 419.6L66.1 421.8L66.6 421.8L66.6 422.4L67.1 422.4L67.1 420.9L67.6 420.9L67.6 419.8L68.1 419.8L68.1 420.7L68.6 420.7L68.6 421.5L69.1 421.5L69.1 422L69.6 422L69.6 421.4L70.1 421.4L70.1 421.9L70.6 421.9L70.6 419.3L71.1 419.3L71.1 419.6L71.6 419.6L71.6 419.8L72.1 419.8L72.1 420.2L72.6 420.2L72.6 420L73.1 420L73.1 420.9L73.6 420.9L73.6 418.9L74.1 418.9L74.1 419.8L74.6 419.8L74.6 419.8L75.1 419.8L75.1 422.1L75.6 422.1L75.6 419.2L76.1 419.2L76.1 419.4L76.6 419.4L76.6 418.6L77.1 418.6L77.1 420.2L77.6 420.2L77.6 418.6L78.1 418.6L78.1 420.6L78.6 420.6L78.6 419.3L79.1 419.3L79.1 419.5L79.6 419.5L79.6 419.6L80.1 419.6L80.1 418.6L80.6 418.6L80.6 419.3L81.1 419.3L81.1 420L81.6 420L81.6 420.5L82.1 420.5L82.1 420.5L82.6 420.5L82.6 420.9L83.1 420.9L83.1 421L83.6 421L83.6 421.6L84.1 421.6L84.1 421.8L84.6 421.8L84.6 418.1L85.1 418.1L85.1 420.1L85.6 420.1L85.6 419.7L86.1 419.7L86.1 418.4L86.6 418.4L86.6 419.3L87.1 419.3L87.1 420.9L87.6 420.9L87.6 420.5L88.1 420.5L88.1 420.2L88.6 420.2L88.6 420.5L89.1 420.5L89.1 419.9L89.6 419.9L89.6 420.8L90.1 420.8L90.1 420.6L90.6 420.6L90.6 422L91.1 422L91.1 418.4L91.6 418.4L91.6 421.7L92.1 421.7L92.1 420.8L92.6 420.8L92.6 420.9L93.1 420.9L93.1 421.8L93.6 421.8L93.6 421.4L94.1 421.4L94.1 422L94.6 422L94.6 422.4L95.1 422.4L95.1 421.4L95.6 421.4L95.6 420.8L96.1 420.8L96.1 421.6L96.6 421.6L96.6 422.6L97.1 422.6L97.1 421.2L97.6 421.2L97.6 420.1L98.1 420.1L98.1 422.5L98.6 422.5L98.6 421.2L99.1 421.2L99.1 422.2L99.6 422.2L99.6 421.3L100.1 421.3L100.1 421.4L100.6 421.4L100.6 421.7L101.1 421.7L101.1 421.6L101.6 421.6L101.6 417.5L102.1 417.5L102.1 418.1L102.6 418.1L102.6 419.9L103.1 419.9L103.1 419.9L103.6 419.9L103.6 422.4L104.1 422.4L104.1 419.4L104.6 419.4L104.6 420.9L105.1 420.9L105.1 419.5L105.6 419.5L105.6 418L106.1 418L106.1 417.3L106.6 417.3L106.6 418.5L107.1 418.5L107.1 417.7L107.6 417.7L107.6 415.7L108.1 415.7L108.1 416.6L108.6 416.6L108.6 415.8L109.1 415.8L109.1 413.2L109.6 413.2L109.6 410.8L110.1 410.8L110.1 411L110.6 411L110.6 410.1L111.1 410.1L111.1 405.6L111.6 405.6L111.6 406.7L112.1 406.7L112.1 401L112.6 401L112.6 409.1L113.1 409.1L113.1 405.9L113.6 405.9L113.6 408.7L114.1 408.7L114.1 406L114.6 406L114.6 403L115.1 403L115.1 401.7L115.6 401.7L115.6 396.9L116.1 396.9L116.1 394L116.6 394L116.6 396.6L117.1 396.6L117.1 392.9L117.6 392.9L117.6 386.6L118.1 386.6L118.1 386.7L118.6 386.7L118.6 384.1L119.1 384.1L119.1 383.3L119.6 383.3L119.6 383.8L120.1 383.8L120.1 380.7L120.6 380.7L120.6 376.9L121.1 376.9L121.1 376.9L121.6 376.9L121.6 373.8L122.1 373.8L122.1 372.7L122.6 372.7L122.6 368.9L123.1 368.9L123.1 359.5L123.6 359.5L123.6 362.8L124.1 362.8L124.1 367.4L124.6 367.4L124.6 360.4L125.1 360.4L125.1 348.8L125.6 348.8L125.6 346.5L126.1 346.5L126.1 355.2L126.6 355.2L126.6 345.8L127.1 345.8L127.1 344.6L127.6 344.6L127.6 354.8L128.1 354.8L128.1 335.7L128.6 335.7L128.6 322.8L129.1 322.8L129.1 335L129.6 335L129.6 328.5L130.1 328.5L130.1 315.4L130.6 315.4L130.6 320.2L131.1 320.2L131.1 316.9L131.6 316.9L131.6 307.1L132.1 307.1L132.1 315.5L132.6 315.5L132.6 296.2L133.1 296.2L133.1 307.3L133.6 307.3L133.6 290.4L134.1 290.4L134.1 282.1L134.6 282.1L134.6 271.2L135.1 271.2L135.1 290.4L135.6 290.4L135.6 280.5L136.1 280.5L136.1 278.7L136.6 278.7L136.6 297.2L137.1 297.2L137.1 269.5L137.6 269.5L137.6 277.6L138.1 277.6L138.1 275.2L138.6 275.2L138.6 269.5L139.1 269.5L139.1 281.8L139.6 281.8L139.6 276L140.1 276L140.1 288.4L140.6 288.4L140.6 290.8L141.1 290.8L141.1 287.5L141.6 287.5L141.6 284.8L142.1 284.8L142.1 309.5L142.6 309.5L142.6 305.2L143.1 305.2L143.1 327.6L143.6 327.6L143.6 327.2L144.1 327.2L144.1 318.8L144.6 318.8L144.6 336.4L145.1 336.4L145.1 328.8L145.6 328.8L145.6 328.6L146.1 328.6L146.1 347.2L146.6 347.2L146.6 350.9L147.1 350.9L147.1 352.1L147.6 352.1L147.6 360.5L148.1 360.5L148.1 362.8L148.6 362.8L148.6 371.4L149.1 371.4L149.1 370.3L149.6 370.3L149.6 377.2L150.1 377.2L150.1 381.4L150.6 381.4L150.6 392.9L151.1 392.9L151.1 392.4L151.6 392.4L151.6 393.3L152.1 393.3L152.1 396.3L152.6 396.3L152.6 402.3L153.1 402.3L153.1 403L153.6 403L153.6 405.8L154.1 405.8L154.1 410.2L154.6 410.2L154.6 410.4L155.1 410.4L155.1 414.2L155.6 414.2L155.6 415.7L156.1 415.7L156.1 416.7L156.6 416.7L156.6 419.1L157.1 419.1L157.1 421.1L157.6 421.1L157.6 422.3L158.1 422.3L158.1 421.6L158.6 421.6L158.6 422.1L159.1 422.1L159.1 424.5L159.6 424.5L159.6 425.5L160.1 425.5L160.1 427.6L160.6 427.6L160.6 426.9L161.1 426.9L161.1 427.6L161.6 427.6L161.6 427.8L162.1 427.8L162.1 428.8L162.6 428.8L162.6 429.1L163.1 429.1L163.1 429.8L163.6 429.8L163.6 429.9L164.1 429.9L164.1 430L164.6 430L164.6 430.2L165.1 430.2L165.1 430.3L165.6 430.3L165.6 430.5L166.1 430.5L166.1 430.6L166.6 430.6L166.6 430.7L167.1 430.7L167.1 430.7L167.6 430.7L167.6 430.8L168.1 430.8L168.1 430.8L168.6 430.8L168.6 430.8L169.1 430.8L169.1 430.9L169.6 430.9L169.6 430.9L170.1 430.9L170.1 430.9L170.6 430.9L170.6 430.9L171.1 430.9L171.1 431L171.6 431L171.6 431L172.1 431L172.1 431L172.6 431L172.6 431L173.1 431L173.1 431L173.6 431L173.6 431L174.1 431L174.1 431L174.6 431L174.6 431L175.1 431L175.1 431L175.6 431L175.6 431L176.1 431L176.1 431L176.6 431L176.6 431L177.1 431L177.1 431L177.6 431L177.6 431L178.1 431L178.1 431L178.6 431L178.6 431L179.1 431L179.1 431L179.6 431L179.6 431L180.1 431L180.1 431L180.6 431L180.6 431L181.1 431L181.1 431L181.6 431L181.6 431L182.1 431L182.1 431L182.6 431L182.6 431L183.1 431L183.1 431L183.6 431L183.6 431L184.1 431L184.1 431L184.6 431L184.6 431L185.1 431L185.1 431L185.6 431L185.6 431L186.1 431L186.1 431L186.6 431L186.6 431L187.1 431L187.1 431L187.6 431L187.6 431L188.1 431L188.1 431L188.6 431L188.6 431L189.1 431L189.1 431L189.6 431L189.6 431Z" fill="#f05a55" stroke="#e8262b" stroke-width="0.8"/>
<line x1="113" y1="269.5" x2="113" y2="431" stroke="#2b2b2b" stroke-width="1.2"/>
<line x1="55.6" y1="372.7" x2="113" y2="372.7" stroke="#4a4a4a" stroke-width="1.1"/>
<rect x="55.6" y="269.5" width="134" height="161.5" fill="none" stroke="#231f20" stroke-width="1.5"/>
<text x="48.6" y="435.9" font-size="15" text-anchor="end" font-weight="normal" fill="#231f20">0</text>
<text x="48.6" y="400.5" font-size="15" text-anchor="end" font-weight="normal" fill="#231f20">50</text>
<text x="48.6" y="365.1" font-size="15" text-anchor="end" font-weight="normal" fill="#231f20">100</text>
<text x="48.6" y="329.6" font-size="15" text-anchor="end" font-weight="normal" fill="#231f20">150</text>
<text x="48.6" y="294.2" font-size="15" text-anchor="end" font-weight="normal" fill="#231f20">200</text>
<path d="M50.1 431h5.5M52.3 423.9h3.3M52.3 416.8h3.3M52.3 409.8h3.3M52.3 402.7h3.3M50.1 395.6h5.5M52.3 388.5h3.3M52.3 381.4h3.3M52.3 374.3h3.3M52.3 367.2h3.3M50.1 360.2h5.5M52.3 353.1h3.3M52.3 346h3.3M52.3 338.9h3.3M52.3 331.8h3.3M50.1 324.8h5.5M52.3 317.7h3.3M52.3 310.6h3.3M52.3 303.5h3.3M52.3 296.4h3.3M50.1 289.3h5.5M52.3 282.2h3.3M52.3 275.2h3.3" stroke="#2b2b2b" stroke-width="1.1" fill="none"/>
<path d="M56.5 431v3.2M60.7 431v3.2M63.9 431v3.2M66.6 431v3.2M68.9 431v3.2M70.8 431v3.2M72.6 431v3.2M74.1 431v5.5M84.3 431v3.2M90.2 431v3.2M94.4 431v3.2M97.7 431v3.2M100.4 431v3.2M102.6 431v3.2M104.6 431v3.2M106.3 431v3.2M107.8 431v5.5M118 431v3.2M124 431v3.2M128.2 431v3.2M131.4 431v3.2M134.1 431v3.2M136.4 431v3.2M138.3 431v3.2M140.1 431v3.2M141.6 431v5.5M151.8 431v3.2M157.7 431v3.2M161.9 431v3.2M165.2 431v3.2M167.9 431v3.2M170.1 431v3.2M172.1 431v3.2M173.8 431v3.2M175.3 431v5.5M185.5 431v3.2" stroke="#2b2b2b" stroke-width="1.1" fill="none"/>
<text x="74.1" y="451.8" font-size="14.8" text-anchor="middle" fill="#231f20">10</text>
<text x="81.7" y="445.8" font-size="8.8" fill="#231f20">2</text>
<text x="107.8" y="451.8" font-size="14.8" text-anchor="middle" fill="#231f20">10</text>
<text x="115.5" y="445.8" font-size="8.8" fill="#231f20">3</text>
<text x="141.6" y="451.8" font-size="14.8" text-anchor="middle" fill="#231f20">10</text>
<text x="149.2" y="445.8" font-size="8.8" fill="#231f20">4</text>
<text x="175.3" y="451.8" font-size="14.8" text-anchor="middle" fill="#231f20">10</text>
<text x="183" y="445.8" font-size="8.8" fill="#231f20">5</text>
<text x="18.4" y="350.2" font-size="14.5" text-anchor="middle" font-weight="normal" fill="#231f20" transform="rotate(-90 18.4 350.2)">Count</text>
<text x="122.6" y="470.5" font-size="14.5" text-anchor="middle" font-weight="normal" fill="#231f20">PE-A</text>
<text x="82.9" y="355.2" font-size="9.6" font-weight="bold" text-anchor="middle" fill="#f4f4f4" stroke="#231f20" stroke-width="2.0" stroke-linejoin="round" paint-order="stroke" letter-spacing="-0.9">P2</text>
<path transform="translate(240.4 269.5)" d="M71 14.5h1M82 21.5h1M27 24.5h1M72 26.5h1M80 26.5h1M31 28.5h1M69 28.5h1M77 29.5h1M26 30.5h1M69 30.5h1M69 33.5h3M73 33.5h1M76 33.5h1M79 33.5h1M55 34.5h1M68 34.5h1M72 34.5h1M74 34.5h2M58 35.5h1M61 35.5h1M67 35.5h2M70 35.5h1M73 35.5h5M81 35.5h1M59 36.5h1M63 36.5h1M68 36.5h2M71 36.5h2M75 36.5h1M78 36.5h2M81 36.5h1M84 36.5h1M56 37.5h1M59 37.5h1M64 37.5h2M67 37.5h2M72 37.5h3M76 37.5h2M81 37.5h1M105 37.5h1M53 38.5h1M55 38.5h1M61 38.5h1M63 38.5h2M67 38.5h4M72 38.5h6M79 38.5h2M83 38.5h1M50 39.5h1M64 39.5h4M69 39.5h4M74 39.5h1M76 39.5h2M81 39.5h1M61 40.5h3M65 40.5h1M67 40.5h2M71 40.5h3M75 40.5h6M82 40.5h2M90 40.5h1M58 41.5h1M60 41.5h5M66 41.5h11M78 41.5h2M82 41.5h1M99 41.5h1M47 42.5h1M56 42.5h3M60 42.5h20M81 42.5h1M83 42.5h2M58 43.5h2M61 43.5h1M63 43.5h4M68 43.5h5M74 43.5h1M77 43.5h2M80 43.5h2M83 43.5h2M46 44.5h1M50 44.5h1M55 44.5h14M70 44.5h4M75 44.5h5M81 44.5h2M58 45.5h6M65 45.5h11M77 45.5h3M81 45.5h1M84 45.5h1M55 46.5h1M57 46.5h1M60 46.5h14M75 46.5h2M79 46.5h2M82 46.5h3M54 47.5h1M56 47.5h3M60 47.5h1M62 47.5h16M79 47.5h2M84 47.5h1M51 48.5h1M55 48.5h25M81 48.5h1M83 48.5h1M93 48.5h1M45 49.5h1M50 49.5h26M77 49.5h4M82 49.5h1M49 50.5h1M52 50.5h1M54 50.5h22M77 50.5h4M82 50.5h2M49 51.5h1M51 51.5h3M56 51.5h21M78 51.5h2M81 51.5h2M46 52.5h1M52 52.5h23M76 52.5h5M82 52.5h1M46 53.5h1M48 53.5h3M52 53.5h1M55 53.5h25M82 53.5h1M91 53.5h1M47 54.5h3M51 54.5h3M55 54.5h17M73 54.5h8M82 54.5h1M46 55.5h2M49 55.5h27M78 55.5h3M82 55.5h2M45 56.5h36M82 56.5h2M44 57.5h1M46 57.5h1M48 57.5h1M50 57.5h27M78 57.5h1M80 57.5h3M43 58.5h1M45 58.5h1M47 58.5h2M50 58.5h30M43 59.5h2M48 59.5h4M53 59.5h27M81 59.5h1M44 60.5h1M46 60.5h1M48 60.5h26M75 60.5h5M81 60.5h1M90 60.5h1M46 61.5h30M77 61.5h2M43 62.5h2M46 62.5h4M51 62.5h29M81 62.5h1M44 63.5h4M49 63.5h31M43 64.5h2M46 64.5h31M78 64.5h2M81 64.5h1M43 65.5h1M45 65.5h34M43 66.5h34M79 66.5h1M43 67.5h30M74 67.5h1M76 67.5h1M83 67.5h2M43 68.5h3M47 68.5h29M79 68.5h1M43 69.5h2M46 69.5h28M75 69.5h2M43 70.5h30M74 70.5h3M84 70.5h1M43 71.5h33M80 71.5h1M43 72.5h34M80 72.5h1M43 73.5h31M75 73.5h1M77 73.5h1M91 73.5h1M43 74.5h1M45 74.5h15M61 74.5h10M76 74.5h1M78 74.5h1M43 75.5h30M43 76.5h24M68 76.5h1M72 76.5h1M43 77.5h27M71 77.5h1M77 77.5h1M43 78.5h4M48 78.5h15M64 78.5h1M66 78.5h3M70 78.5h1M73 78.5h1M43 79.5h29M74 79.5h1M76 79.5h1M80 79.5h1M82 79.5h1M43 80.5h1M45 80.5h22M68 80.5h1M72 80.5h1M43 81.5h22M67 81.5h1M71 81.5h1M74 81.5h1M43 82.5h15M60 82.5h6M67 82.5h2M43 83.5h2M46 83.5h14M61 83.5h2M64 83.5h3M81 83.5h2M43 84.5h14M58 84.5h4M67 84.5h1M44 85.5h6M51 85.5h10M62 85.5h1M64 85.5h1M70 85.5h1M72 85.5h1M43 86.5h1M45 86.5h2M49 86.5h2M53 86.5h4M58 86.5h3M62 86.5h1M64 86.5h1M70 86.5h1M72 86.5h1M43 87.5h2M47 87.5h7M55 87.5h1M57 87.5h5M65 87.5h1M43 88.5h1M45 88.5h1M47 88.5h1M50 88.5h6M57 88.5h4M65 88.5h1M75 88.5h1M79 88.5h1M43 89.5h3M47 89.5h2M50 89.5h1M52 89.5h1M55 89.5h2M58 89.5h1M70 89.5h1M43 90.5h3M47 90.5h2M54 90.5h4M60 90.5h1M68 90.5h1M75 90.5h1M44 91.5h1M46 91.5h2M49 91.5h2M52 91.5h2M55 91.5h3M62 91.5h1M82 91.5h1M44 92.5h1M46 92.5h2M49 92.5h2M52 92.5h1M54 92.5h1M66 92.5h1M74 92.5h1M45 93.5h1M48 93.5h1M55 93.5h1M63 93.5h1M79 93.5h1M44 94.5h2M49 94.5h1M52 94.5h1M55 94.5h1M43 95.5h3M47 95.5h1M59 95.5h1M66 95.5h1M34 96.5h1M47 96.5h1M54 96.5h1M65 96.5h1M53 97.5h2M64 97.5h1M51 98.5h1M54 98.5h1M61 98.5h1M49 99.5h1M55 99.5h1M47 100.5h1M49 100.5h1M57 100.5h1M59 100.5h1M63 100.5h1M40 102.5h1M43 102.5h1M48 102.5h1M51 102.5h1M56 102.5h1M65 102.5h2M46 103.5h1M48 103.5h2M58 103.5h1M47 104.5h1M53 104.5h1M56 104.5h1M66 104.5h1M74 104.5h1M82 104.5h1M45 105.5h1M76 105.5h1M43 106.5h1M49 106.5h1M74 106.5h1M76 106.5h1M49 107.5h1M74 107.5h1M82 107.5h1M44 108.5h1M62 108.5h1M68 108.5h1M70 108.5h1M72 108.5h1M76 108.5h1M65 109.5h1M73 109.5h1M43 110.5h1M50 110.5h1M67 110.5h2M70 110.5h1M72 110.5h1M75 110.5h1M70 111.5h1M78 111.5h1M80 111.5h1M47 112.5h1M67 112.5h1M70 112.5h2M75 112.5h2M64 113.5h3M76 113.5h1M84 113.5h1M49 114.5h1M71 114.5h1M74 114.5h1M72 115.5h1M62 116.5h1M67 116.5h2M73 116.5h2M79 116.5h1M49 117.5h1M66 117.5h1M71 117.5h2M74 117.5h1M79 117.5h2M48 118.5h1M66 118.5h1M69 118.5h2M72 118.5h1M77 118.5h1M61 119.5h1M63 119.5h2M68 119.5h1M71 119.5h1M73 119.5h2M78 119.5h2M43 120.5h1M47 120.5h1M66 120.5h3M71 120.5h3M77 120.5h1M80 120.5h1M67 121.5h3M75 121.5h1M45 122.5h1M63 122.5h1M65 122.5h1M67 122.5h1M70 122.5h4M75 122.5h1M46 123.5h1M48 123.5h1M61 123.5h2M65 123.5h5M72 123.5h2M76 123.5h1M59 124.5h1M64 124.5h3M69 124.5h1M72 124.5h2M87 124.5h1M45 125.5h1M63 125.5h1M66 125.5h5M78 125.5h1M62 126.5h1M64 126.5h2M68 126.5h2M46 127.5h1M52 127.5h1M57 127.5h1M59 127.5h1M61 127.5h3M66 127.5h3M72 127.5h1M61 128.5h2M65 128.5h1M67 128.5h1M69 128.5h2M60 129.5h1M62 129.5h2M65 129.5h3M70 129.5h1M44 130.5h1M62 130.5h1M65 130.5h1M47 131.5h2M61 131.5h1M65 131.5h1M69 131.5h1M47 132.5h1M55 132.5h1M57 132.5h2M61 132.5h1M65 132.5h1M44 133.5h1M55 133.5h2M61 133.5h4M69 133.5h2M54 134.5h3M60 134.5h5M66 134.5h2M44 135.5h1M56 135.5h1M60 135.5h4M67 135.5h1M69 135.5h1M53 136.5h2M58 136.5h2M63 136.5h4M68 136.5h1M57 137.5h1M61 137.5h1M66 137.5h1M46 138.5h2M51 138.5h1M54 138.5h1M56 138.5h4M61 138.5h1M63 138.5h1M68 138.5h1M44 139.5h1M52 139.5h2M56 139.5h2M59 139.5h2M62 139.5h2M49 140.5h1M53 140.5h1M57 140.5h1M59 140.5h1M62 140.5h2M67 140.5h1M49 141.5h1M51 141.5h1M54 141.5h7M62 141.5h1M64 141.5h1M49 142.5h2M52 142.5h1M55 142.5h1M58 142.5h3M52 143.5h1M56 143.5h2M60 143.5h2M63 143.5h1M47 144.5h2M51 144.5h1M57 144.5h1M61 144.5h1M44 145.5h1M47 145.5h1M53 145.5h1M56 145.5h1M58 145.5h1M60 145.5h4M65 145.5h1M46 146.5h1M54 146.5h1M57 146.5h2M49 147.5h2M52 147.5h1M55 147.5h3M66 147.5h1M49 148.5h3M56 148.5h2M57 149.5h1M60 149.5h1M89 149.5h1M43 150.5h1M56 150.5h3M42 151.5h2M45 151.5h2M51 151.5h2M55 151.5h1M57 151.5h1M60 151.5h1M75 151.5h1M45 152.5h1M49 152.5h2M52 152.5h1M54 152.5h1M41 153.5h1M43 153.5h1M49 153.5h1M51 153.5h1M53 153.5h1M89 153.5h1M58 154.5h1M42 155.5h1M48 155.5h3M53 155.5h1M55 155.5h1M107 155.5h1M47 156.5h1M49 156.5h1M51 156.5h2M54 156.5h1M56 156.5h1M43 157.5h1M45 157.5h1M49 157.5h1M51 157.5h1M54 157.5h1M79 157.5h1M40 158.5h1M45 158.5h1M48 158.5h1M52 158.5h1M36 159.5h1M44 159.5h1M48 159.5h2M43 160.5h1" stroke="#ee3535" stroke-width="1.3" fill="none"/>
<line x1="282.7" y1="269.5" x2="282.7" y2="431" stroke="#2b2b2b" stroke-width="1.2"/>
<line x1="240.4" y1="359.8" x2="374.4" y2="359.8" stroke="#2b2b2b" stroke-width="1.2"/>
<rect x="240.4" y="269.5" width="134" height="161.5" fill="none" stroke="#231f20" stroke-width="1.5"/>
<path d="M237.4 429.4h3M237.4 424.3h3M237.4 420.4h3M237.4 417.2h3M237.4 414.5h3M237.4 412.2h3M237.4 410.2h3M235.2 408.3h5.2M237.4 396.2h3M237.4 389.1h3M237.4 384.1h3M237.4 380.2h3M237.4 377h3M237.4 374.3h3M237.4 371.9h3M237.4 369.9h3M235.2 368h5.2M237.4 355.9h3M237.4 348.8h3M237.4 343.8h3M237.4 339.9h3M237.4 336.7h3M237.4 334h3M237.4 331.7h3M237.4 329.6h3M235.2 327.8h5.2M237.4 315.6h3M237.4 308.6h3M237.4 303.5h3M237.4 299.6h3M237.4 296.4h3M237.4 293.7h3M237.4 291.4h3M237.4 289.3h3M235.2 287.5h5.2M237.4 275.4h3" stroke="#2b2b2b" stroke-width="1.1" fill="none"/>
<text x="230.3" y="413.1" font-size="14.8" text-anchor="end" fill="#231f20">10</text>
<text x="229.7" y="407.1" font-size="8.8" fill="#231f20">2</text>
<text x="230.3" y="372.8" font-size="14.8" text-anchor="end" fill="#231f20">10</text>
<text x="229.7" y="366.8" font-size="8.8" fill="#231f20">3</text>
<text x="230.3" y="332.6" font-size="14.8" text-anchor="end" fill="#231f20">10</text>
<text x="229.7" y="326.6" font-size="8.8" fill="#231f20">4</text>
<text x="230.3" y="292.3" font-size="14.8" text-anchor="end" fill="#231f20">10</text>
<text x="229.7" y="286.3" font-size="8.8" fill="#231f20">5</text>
<path d="M241.3 431v3.2M245.5 431v3.2M248.7 431v3.2M251.4 431v3.2M253.7 431v3.2M255.6 431v3.2M257.4 431v3.2M258.9 431v5.5M269.1 431v3.2M275 431v3.2M279.2 431v3.2M282.5 431v3.2M285.2 431v3.2M287.4 431v3.2M289.4 431v3.2M291.1 431v3.2M292.6 431v5.5M302.8 431v3.2M308.8 431v3.2M313 431v3.2M316.2 431v3.2M318.9 431v3.2M321.2 431v3.2M323.1 431v3.2M324.9 431v3.2M326.4 431v5.5M336.6 431v3.2M342.5 431v3.2M346.7 431v3.2M350 431v3.2M352.7 431v3.2M354.9 431v3.2M356.9 431v3.2M358.6 431v3.2M360.1 431v5.5M370.3 431v3.2" stroke="#2b2b2b" stroke-width="1.1" fill="none"/>
<text x="258.9" y="451.8" font-size="14.8" text-anchor="middle" fill="#231f20">10</text>
<text x="266.5" y="445.8" font-size="8.8" fill="#231f20">2</text>
<text x="292.6" y="451.8" font-size="14.8" text-anchor="middle" fill="#231f20">10</text>
<text x="300.3" y="445.8" font-size="8.8" fill="#231f20">3</text>
<text x="326.4" y="451.8" font-size="14.8" text-anchor="middle" fill="#231f20">10</text>
<text x="334" y="445.8" font-size="8.8" fill="#231f20">4</text>
<text x="360.1" y="451.8" font-size="14.8" text-anchor="middle" fill="#231f20">10</text>
<text x="367.8" y="445.8" font-size="8.8" fill="#231f20">5</text>
<text x="209.2" y="350.2" font-size="14.5" text-anchor="middle" font-weight="normal" fill="#231f20" transform="rotate(-90 209.2 350.2)">PE-A</text>
<text x="307.4" y="470.5" font-size="14.5" text-anchor="middle" font-weight="normal" fill="#231f20">FITC-A</text>
<text x="252.7" y="340.9" font-size="9.6" font-weight="bold" text-anchor="middle" fill="#f4f4f4" stroke="#231f20" stroke-width="2.0" stroke-linejoin="round" paint-order="stroke" letter-spacing="-0.9">Q1</text>
<text x="309" y="340.9" font-size="9.6" font-weight="bold" text-anchor="middle" fill="#f4f4f4" stroke="#231f20" stroke-width="2.0" stroke-linejoin="round" paint-order="stroke" letter-spacing="-0.9">Q2</text>
<text x="252.7" y="390.6" font-size="9.6" font-weight="bold" text-anchor="middle" fill="#f4f4f4" stroke="#231f20" stroke-width="2.0" stroke-linejoin="round" paint-order="stroke" letter-spacing="-0.9">Q3</text>
<text x="309" y="390.6" font-size="9.6" font-weight="bold" text-anchor="middle" fill="#f4f4f4" stroke="#231f20" stroke-width="2.0" stroke-linejoin="round" paint-order="stroke" letter-spacing="-0.9">Q4</text>
<path d="M453.6 431L453.6 400.1L454.1 400.1L454.1 404.1L454.6 404.1L454.6 426.5L455.1 426.5L455.1 426.3L455.6 426.3L455.6 425.9L456.1 425.9L456.1 425.8L456.6 425.8L456.6 426.8L457.1 426.8L457.1 427L457.6 427L457.6 427.5L458.1 427.5L458.1 425L458.6 425L458.6 424.6L459.1 424.6L459.1 426.2L459.6 426.2L459.6 425.9L460.1 425.9L460.1 425L460.6 425L460.6 425.7L461.1 425.7L461.1 426.1L461.6 426.1L461.6 425.4L462.1 425.4L462.1 425.9L462.6 425.9L462.6 424.1L463.1 424.1L463.1 425.1L463.6 425.1L463.6 426.3L464.1 426.3L464.1 426.2L464.6 426.2L464.6 425.1L465.1 425.1L465.1 424.3L465.6 424.3L465.6 425.3L466.1 425.3L466.1 425.2L466.6 425.2L466.6 426.3L467.1 426.3L467.1 425L467.6 425L467.6 424.5L468.1 424.5L468.1 423.4L468.6 423.4L468.6 421.1L469.1 421.1L469.1 423.5L469.6 423.5L469.6 424.3L470.1 424.3L470.1 423.1L470.6 423.1L470.6 424.6L471.1 424.6L471.1 424.1L471.6 424.1L471.6 424.2L472.1 424.2L472.1 423.7L472.6 423.7L472.6 423.7L473.1 423.7L473.1 424.6L473.6 424.6L473.6 423.4L474.1 423.4L474.1 423.9L474.6 423.9L474.6 422.5L475.1 422.5L475.1 422.3L475.6 422.3L475.6 422.5L476.1 422.5L476.1 423.7L476.6 423.7L476.6 422.8L477.1 422.8L477.1 422.4L477.6 422.4L477.6 423.8L478.1 423.8L478.1 422.9L478.6 422.9L478.6 423L479.1 423L479.1 424.1L479.6 424.1L479.6 422L480.1 422L480.1 423.8L480.6 423.8L480.6 421.5L481.1 421.5L481.1 422L481.6 422L481.6 421.1L482.1 421.1L482.1 423.3L482.6 423.3L482.6 420.9L483.1 420.9L483.1 420L483.6 420L483.6 420L484.1 420L484.1 420.2L484.6 420.2L484.6 420.7L485.1 420.7L485.1 417.1L485.6 417.1L485.6 418.1L486.1 418.1L486.1 418.1L486.6 418.1L486.6 416.5L487.1 416.5L487.1 416.5L487.6 416.5L487.6 416.8L488.1 416.8L488.1 413.8L488.6 413.8L488.6 415L489.1 415L489.1 406.6L489.6 406.6L489.6 410.6L490.1 410.6L490.1 408.6L490.6 408.6L490.6 407.6L491.1 407.6L491.1 406.7L491.6 406.7L491.6 405.7L492.1 405.7L492.1 403.2L492.6 403.2L492.6 397.3L493.1 397.3L493.1 398.7L493.6 398.7L493.6 404.8L494.1 404.8L494.1 403.9L494.6 403.9L494.6 400.1L495.1 400.1L495.1 398.2L495.6 398.2L495.6 400.7L496.1 400.7L496.1 396.3L496.6 396.3L496.6 395.2L497.1 395.2L497.1 396L497.6 396L497.6 394.9L498.1 394.9L498.1 391.6L498.6 391.6L498.6 391.3L499.1 391.3L499.1 387.6L499.6 387.6L499.6 389.9L500.1 389.9L500.1 392.8L500.6 392.8L500.6 389.1L501.1 389.1L501.1 394.6L501.6 394.6L501.6 393.7L502.1 393.7L502.1 392.3L502.6 392.3L502.6 393.4L503.1 393.4L503.1 397.8L503.6 397.8L503.6 400.3L504.1 400.3L504.1 398.6L504.6 398.6L504.6 403.3L505.1 403.3L505.1 402.5L505.6 402.5L505.6 402.6L506.1 402.6L506.1 406.2L506.6 406.2L506.6 407.1L507.1 407.1L507.1 407.9L507.6 407.9L507.6 407.7L508.1 407.7L508.1 410.7L508.6 410.7L508.6 412.9L509.1 412.9L509.1 411.4L509.6 411.4L509.6 411L510.1 411L510.1 412.4L510.6 412.4L510.6 412.1L511.1 412.1L511.1 412.1L511.6 412.1L511.6 414.1L512.1 414.1L512.1 413.9L512.6 413.9L512.6 412.9L513.1 412.9L513.1 412.8L513.6 412.8L513.6 410.8L514.1 410.8L514.1 410L514.6 410L514.6 410.3L515.1 410.3L515.1 407.9L515.6 407.9L515.6 409.7L516.1 409.7L516.1 408.6L516.6 408.6L516.6 410.2L517.1 410.2L517.1 405.8L517.6 405.8L517.6 408.9L518.1 408.9L518.1 403.8L518.6 403.8L518.6 405.1L519.1 405.1L519.1 401.8L519.6 401.8L519.6 402.9L520.1 402.9L520.1 400.8L520.6 400.8L520.6 398.8L521.1 398.8L521.1 400.6L521.6 400.6L521.6 399.4L522.1 399.4L522.1 398.3L522.6 398.3L522.6 397.1L523.1 397.1L523.1 396.1L523.6 396.1L523.6 395.4L524.1 395.4L524.1 391.5L524.6 391.5L524.6 391.9L525.1 391.9L525.1 391.8L525.6 391.8L525.6 388.5L526.1 388.5L526.1 391.4L526.6 391.4L526.6 389.1L527.1 389.1L527.1 385.9L527.6 385.9L527.6 374.2L528.1 374.2L528.1 379.7L528.6 379.7L528.6 373.5L529.1 373.5L529.1 377.8L529.6 377.8L529.6 368.9L530.1 368.9L530.1 364.5L530.6 364.5L530.6 364L531.1 364L531.1 352.2L531.6 352.2L531.6 354.2L532.1 354.2L532.1 349.7L532.6 349.7L532.6 338L533.1 338L533.1 329.6L533.6 329.6L533.6 331.3L534.1 331.3L534.1 333L534.6 333L534.6 326.2L535.1 326.2L535.1 311.4L535.6 311.4L535.6 321.9L536.1 321.9L536.1 318.2L536.6 318.2L536.6 313.3L537.1 313.3L537.1 294L537.6 294L537.6 294.7L538.1 294.7L538.1 302.9L538.6 302.9L538.6 296.5L539.1 296.5L539.1 288.4L539.6 288.4L539.6 290.9L540.1 290.9L540.1 294.3L540.6 294.3L540.6 269.5L541.1 269.5L541.1 282.7L541.6 282.7L541.6 288.9L542.1 288.9L542.1 284L542.6 284L542.6 286.8L543.1 286.8L543.1 290.9L543.6 290.9L543.6 274.3L544.1 274.3L544.1 284.7L544.6 284.7L544.6 308.4L545.1 308.4L545.1 291.5L545.6 291.5L545.6 301.4L546.1 301.4L546.1 306.1L546.6 306.1L546.6 299L547.1 299L547.1 306.5L547.6 306.5L547.6 308.9L548.1 308.9L548.1 319.7L548.6 319.7L548.6 308.3L549.1 308.3L549.1 323.6L549.6 323.6L549.6 334.3L550.1 334.3L550.1 323.6L550.6 323.6L550.6 344.3L551.1 344.3L551.1 337.7L551.6 337.7L551.6 352.2L552.1 352.2L552.1 357.4L552.6 357.4L552.6 363L553.1 363L553.1 368L553.6 368L553.6 371.5L554.1 371.5L554.1 371.2L554.6 371.2L554.6 376.5L555.1 376.5L555.1 385.9L555.6 385.9L555.6 383.9L556.1 383.9L556.1 391.1L556.6 391.1L556.6 390L557.1 390L557.1 395L557.6 395L557.6 397.8L558.1 397.8L558.1 396.6L558.6 396.6L558.6 404.8L559.1 404.8L559.1 399.9L559.6 399.9L559.6 401.2L560.1 401.2L560.1 407.2L560.6 407.2L560.6 407.3L561.1 407.3L561.1 412.3L561.6 412.3L561.6 410.7L562.1 410.7L562.1 414.2L562.6 414.2L562.6 415.4L563.1 415.4L563.1 417.1L563.6 417.1L563.6 416.9L564.1 416.9L564.1 418.3L564.6 418.3L564.6 419.3L565.1 419.3L565.1 420.1L565.6 420.1L565.6 420.8L566.1 420.8L566.1 418.8L566.6 418.8L566.6 422.2L567.1 422.2L567.1 422.3L567.6 422.3L567.6 422.3L568.1 422.3L568.1 423.3L568.6 423.3L568.6 424L569.1 424L569.1 424.1L569.6 424.1L569.6 424.9L570.1 424.9L570.1 422.5L570.6 422.5L570.6 422.9L571.1 422.9L571.1 424.8L571.6 424.8L571.6 424.5L572.1 424.5L572.1 425.2L572.6 425.2L572.6 425.6L573.1 425.6L573.1 425.6L573.6 425.6L573.6 425.6L574.1 425.6L574.1 425.8L574.6 425.8L574.6 425.3L575.1 425.3L575.1 427.6L575.6 427.6L575.6 426.3L576.1 426.3L576.1 426.3L576.6 426.3L576.6 427.3L577.1 427.3L577.1 428.3L577.6 428.3L577.6 428L578.1 428L578.1 426.7L578.6 426.7L578.6 427.9L579.1 427.9L579.1 428.2L579.6 428.2L579.6 428.9L580.1 428.9L580.1 429.4L580.6 429.4L580.6 429.6L581.1 429.6L581.1 429.5L581.6 429.5L581.6 429.9L582.1 429.9L582.1 429.9L582.6 429.9L582.6 430L583.1 430L583.1 430.1L583.6 430.1L583.6 430.1L584.1 430.1L584.1 430.2L584.6 430.2L584.6 430.3L585.1 430.3L585.1 430.3L585.6 430.3L585.6 430.5L586.1 430.5L586.1 430.5L586.6 430.5L586.6 430.6L587.1 430.6L587.1 430.6L587.6 430.6L587.6 431Z" fill="#f05a55" stroke="#e8262b" stroke-width="0.8"/>
<line x1="511" y1="269.5" x2="511" y2="431" stroke="#2b2b2b" stroke-width="1.2"/>
<line x1="453.6" y1="404.8" x2="511" y2="404.8" stroke="#4a4a4a" stroke-width="1.1"/>
<rect x="453.6" y="269.5" width="134" height="161.5" fill="none" stroke="#231f20" stroke-width="1.5"/>
<text x="446.6" y="435.9" font-size="15" text-anchor="end" font-weight="normal" fill="#231f20">0</text>
<text x="446.6" y="395.5" font-size="15" text-anchor="end" font-weight="normal" fill="#231f20">50</text>
<text x="446.6" y="355.1" font-size="15" text-anchor="end" font-weight="normal" fill="#231f20">100</text>
<text x="446.6" y="314.8" font-size="15" text-anchor="end" font-weight="normal" fill="#231f20">150</text>
<text x="446.6" y="274.4" font-size="15" text-anchor="end" font-weight="normal" fill="#231f20">200</text>
<path d="M448.1 431h5.5M450.3 422.9h3.3M450.3 414.9h3.3M450.3 406.8h3.3M450.3 398.7h3.3M448.1 390.6h5.5M450.3 382.6h3.3M450.3 374.5h3.3M450.3 366.4h3.3M450.3 358.3h3.3M448.1 350.2h5.5M450.3 342.2h3.3M450.3 334.1h3.3M450.3 326h3.3M450.3 317.9h3.3M448.1 309.9h5.5M450.3 301.8h3.3M450.3 293.7h3.3M450.3 285.6h3.3M450.3 277.6h3.3M448.1 269.5h5.5" stroke="#2b2b2b" stroke-width="1.1" fill="none"/>
<path d="M454.5 431v3.2M458.7 431v3.2M461.9 431v3.2M464.6 431v3.2M466.9 431v3.2M468.8 431v3.2M470.6 431v3.2M472.1 431v5.5M482.3 431v3.2M488.2 431v3.2M492.4 431v3.2M495.7 431v3.2M498.4 431v3.2M500.6 431v3.2M502.6 431v3.2M504.3 431v3.2M505.9 431v5.5M516 431v3.2M522 431v3.2M526.2 431v3.2M529.4 431v3.2M532.1 431v3.2M534.4 431v3.2M536.3 431v3.2M538.1 431v3.2M539.6 431v5.5M549.8 431v3.2M555.7 431v3.2M559.9 431v3.2M563.2 431v3.2M565.9 431v3.2M568.1 431v3.2M570.1 431v3.2M571.8 431v3.2M573.4 431v5.5M583.5 431v3.2" stroke="#2b2b2b" stroke-width="1.1" fill="none"/>
<text x="472.1" y="451.8" font-size="14.8" text-anchor="middle" fill="#231f20">10</text>
<text x="479.7" y="445.8" font-size="8.8" fill="#231f20">2</text>
<text x="505.9" y="451.8" font-size="14.8" text-anchor="middle" fill="#231f20">10</text>
<text x="513.5" y="445.8" font-size="8.8" fill="#231f20">3</text>
<text x="539.6" y="451.8" font-size="14.8" text-anchor="middle" fill="#231f20">10</text>
<text x="547.2" y="445.8" font-size="8.8" fill="#231f20">4</text>
<text x="573.4" y="451.8" font-size="14.8" text-anchor="middle" fill="#231f20">10</text>
<text x="581" y="445.8" font-size="8.8" fill="#231f20">5</text>
<text x="416.4" y="350.2" font-size="14.5" text-anchor="middle" font-weight="normal" fill="#231f20" transform="rotate(-90 416.4 350.2)">Count</text>
<text x="520.6" y="470.5" font-size="14.5" text-anchor="middle" font-weight="normal" fill="#231f20">PE-A</text>
<text x="480.9" y="355.2" font-size="9.6" font-weight="bold" text-anchor="middle" fill="#f4f4f4" stroke="#231f20" stroke-width="2.0" stroke-linejoin="round" paint-order="stroke" letter-spacing="-0.9">P2</text>
<path transform="translate(637.8 269.5)" d="M77 2.5h1M50 3.5h1M85 4.5h1M63 5.5h1M73 5.5h1M106 5.5h1M87 6.5h2M99 6.5h1M57 7.5h1M78 7.5h2M89 7.5h2M82 9.5h1M85 9.5h1M70 10.5h1M85 10.5h1M101 11.5h1M79 12.5h1M83 12.5h1M81 13.5h1M90 13.5h1M96 14.5h1M100 14.5h1M66 15.5h2M106 15.5h1M77 16.5h1M82 16.5h1M84 16.5h1M80 17.5h1M87 17.5h1M93 17.5h1M126 17.5h1M59 18.5h1M63 18.5h1M79 18.5h2M94 18.5h1M79 19.5h1M85 19.5h1M90 19.5h4M63 20.5h1M66 20.5h1M84 20.5h1M89 20.5h1M92 20.5h1M95 20.5h4M55 21.5h1M67 21.5h1M78 21.5h1M81 21.5h1M85 21.5h1M87 21.5h3M92 21.5h1M98 21.5h1M58 22.5h1M64 22.5h1M68 22.5h1M87 22.5h5M93 22.5h4M98 22.5h3M68 23.5h1M70 23.5h1M77 23.5h1M81 23.5h1M85 23.5h2M90 23.5h3M95 23.5h1M98 23.5h1M100 23.5h1M51 24.5h1M65 24.5h1M72 24.5h1M82 24.5h1M84 24.5h1M86 24.5h2M91 24.5h2M94 24.5h1M96 24.5h3M100 24.5h1M103 24.5h1M66 25.5h1M73 25.5h1M81 25.5h2M84 25.5h6M91 25.5h4M96 25.5h2M99 25.5h1M102 25.5h1M68 26.5h1M72 26.5h1M76 26.5h1M80 26.5h1M83 26.5h2M86 26.5h4M91 26.5h1M93 26.5h1M95 26.5h2M98 26.5h3M102 26.5h3M106 26.5h1M59 27.5h1M61 27.5h1M66 27.5h1M73 27.5h2M78 27.5h1M80 27.5h1M82 27.5h1M84 27.5h1M88 27.5h6M95 27.5h3M99 27.5h3M105 27.5h1M59 28.5h1M67 28.5h1M73 28.5h1M78 28.5h2M81 28.5h3M85 28.5h1M87 28.5h5M95 28.5h2M98 28.5h2M64 29.5h2M70 29.5h1M76 29.5h1M79 29.5h2M85 29.5h11M97 29.5h1M99 29.5h3M66 30.5h2M71 30.5h2M76 30.5h2M80 30.5h3M84 30.5h16M54 31.5h1M64 31.5h1M68 31.5h1M70 31.5h1M79 31.5h6M86 31.5h5M93 31.5h4M101 31.5h1M103 31.5h1M74 32.5h1M76 32.5h3M81 32.5h3M85 32.5h10M96 32.5h4M101 32.5h4M106 32.5h1M111 32.5h1M57 33.5h2M67 33.5h1M69 33.5h2M73 33.5h3M77 33.5h19M97 33.5h1M99 33.5h7M110 33.5h1M59 34.5h1M74 34.5h1M76 34.5h1M78 34.5h19M100 34.5h3M104 34.5h1M44 35.5h1M48 35.5h1M66 35.5h1M71 35.5h1M73 35.5h2M77 35.5h22M101 35.5h2M104 35.5h1M60 36.5h1M62 36.5h1M72 36.5h1M74 36.5h3M78 36.5h2M83 36.5h23M110 36.5h1M63 37.5h2M67 37.5h1M71 37.5h1M74 37.5h2M77 37.5h8M86 37.5h15M102 37.5h3M53 38.5h1M67 38.5h1M70 38.5h1M73 38.5h3M77 38.5h25M103 38.5h2M110 38.5h1M51 39.5h1M55 39.5h1M64 39.5h1M70 39.5h1M73 39.5h1M75 39.5h4M80 39.5h13M94 39.5h7M103 39.5h2M64 40.5h1M71 40.5h3M75 40.5h27M103 40.5h2M45 41.5h1M56 41.5h1M58 41.5h1M61 41.5h2M64 41.5h2M70 41.5h4M75 41.5h22M98 41.5h7M54 42.5h1M56 42.5h1M67 42.5h1M71 42.5h1M73 42.5h2M76 42.5h28M61 43.5h1M69 43.5h2M73 43.5h26M100 43.5h1M102 43.5h1M104 43.5h1M48 44.5h1M56 44.5h1M64 44.5h1M67 44.5h1M69 44.5h2M72 44.5h30M104 44.5h2M110 44.5h1M57 45.5h1M60 45.5h1M66 45.5h1M68 45.5h2M73 45.5h26M101 45.5h3M107 45.5h1M45 46.5h1M53 46.5h1M56 46.5h2M63 46.5h2M68 46.5h1M71 46.5h31M103 46.5h1M109 46.5h1M54 47.5h1M63 47.5h1M67 47.5h1M71 47.5h28M101 47.5h4M54 48.5h1M57 48.5h1M64 48.5h1M67 48.5h1M70 48.5h28M99 48.5h4M56 49.5h1M66 49.5h3M70 49.5h28M99 49.5h2M111 49.5h1M49 50.5h1M51 50.5h1M58 50.5h1M62 50.5h2M68 50.5h1M70 50.5h31M102 50.5h2M55 51.5h1M61 51.5h1M64 51.5h1M66 51.5h2M69 51.5h31M101 51.5h1M106 51.5h1M45 52.5h1M51 52.5h1M60 52.5h2M67 52.5h2M70 52.5h1M72 52.5h29M44 53.5h1M46 53.5h1M56 53.5h1M59 53.5h1M63 53.5h1M65 53.5h1M67 53.5h12M80 53.5h7M88 53.5h11M100 53.5h1M102 53.5h1M53 54.5h2M58 54.5h3M63 54.5h1M66 54.5h32M99 54.5h1M101 54.5h2M107 54.5h1M51 55.5h1M55 55.5h1M58 55.5h2M66 55.5h3M70 55.5h29M100 55.5h3M56 56.5h4M61 56.5h1M63 56.5h1M67 56.5h1M69 56.5h2M72 56.5h26M99 56.5h1M101 56.5h2M106 56.5h1M44 57.5h1M49 57.5h1M54 57.5h2M62 57.5h1M64 57.5h31M96 57.5h2M99 57.5h1M103 57.5h1M44 58.5h1M48 58.5h1M50 58.5h1M52 58.5h1M60 58.5h1M65 58.5h1M67 58.5h1M69 58.5h1M71 58.5h26M98 58.5h3M112 58.5h1M50 59.5h1M55 59.5h1M60 59.5h1M62 59.5h1M65 59.5h2M68 59.5h24M93 59.5h1M95 59.5h3M99 59.5h1M109 59.5h1M46 60.5h1M50 60.5h1M56 60.5h1M58 60.5h1M66 60.5h3M70 60.5h25M96 60.5h4M50 61.5h1M53 61.5h1M56 61.5h2M62 61.5h1M64 61.5h1M66 61.5h3M70 61.5h23M95 61.5h2M98 61.5h2M44 62.5h2M51 62.5h1M54 62.5h4M59 62.5h1M62 62.5h1M65 62.5h1M67 62.5h1M69 62.5h3M74 62.5h20M95 62.5h2M98 62.5h1M103 62.5h1M49 63.5h1M59 63.5h2M64 63.5h1M67 63.5h1M70 63.5h19M90 63.5h4M95 63.5h1M47 64.5h1M54 64.5h1M57 64.5h2M60 64.5h3M65 64.5h4M70 64.5h6M77 64.5h18M96 64.5h1M98 64.5h1M106 64.5h1M50 65.5h1M55 65.5h2M63 65.5h2M66 65.5h2M69 65.5h8M78 65.5h14M93 65.5h3M97 65.5h1M105 65.5h1M45 66.5h2M58 66.5h2M64 66.5h1M66 66.5h6M73 66.5h1M75 66.5h12M88 66.5h1M90 66.5h3M94 66.5h1M99 66.5h1M106 66.5h1M44 67.5h2M48 67.5h1M52 67.5h1M58 67.5h1M60 67.5h1M63 67.5h1M65 67.5h1M67 67.5h23M101 67.5h1M47 68.5h1M54 68.5h1M63 68.5h2M68 68.5h2M71 68.5h13M85 68.5h1M87 68.5h6M94 68.5h2M97 68.5h1M31 69.5h1M49 69.5h1M55 69.5h1M57 69.5h1M59 69.5h2M64 69.5h2M68 69.5h5M74 69.5h6M81 69.5h1M83 69.5h1M85 69.5h5M94 69.5h2M105 69.5h1M111 69.5h1M51 70.5h1M64 70.5h4M69 70.5h12M82 70.5h6M89 70.5h4M95 70.5h1M98 70.5h1M106 70.5h1M44 71.5h1M54 71.5h1M57 71.5h2M60 71.5h1M63 71.5h1M69 71.5h1M71 71.5h8M80 71.5h7M88 71.5h1M90 71.5h3M48 72.5h1M52 72.5h1M55 72.5h1M61 72.5h2M66 72.5h18M85 72.5h2M88 72.5h1M90 72.5h1M95 72.5h1M99 72.5h1M110 72.5h1M46 73.5h1M52 73.5h1M57 73.5h3M67 73.5h2M70 73.5h5M76 73.5h12M89 73.5h1M95 73.5h1M98 73.5h1M46 74.5h1M53 74.5h1M61 74.5h2M65 74.5h2M68 74.5h2M71 74.5h1M73 74.5h2M76 74.5h2M79 74.5h5M85 74.5h1M87 74.5h1M92 74.5h1M98 74.5h1M102 74.5h1M50 75.5h2M56 75.5h1M65 75.5h1M68 75.5h4M74 75.5h7M82 75.5h1M84 75.5h1M87 75.5h1M92 75.5h1M56 76.5h1M61 76.5h1M63 76.5h2M66 76.5h1M68 76.5h2M71 76.5h3M75 76.5h6M82 76.5h7M91 76.5h2M98 76.5h2M56 77.5h1M58 77.5h1M66 77.5h2M70 77.5h1M73 77.5h1M75 77.5h1M77 77.5h3M81 77.5h1M85 77.5h3M96 77.5h1M104 77.5h1M46 78.5h1M50 78.5h1M54 78.5h1M57 78.5h1M62 78.5h2M71 78.5h2M76 78.5h3M80 78.5h2M84 78.5h2M93 78.5h1M98 78.5h2M48 79.5h1M50 79.5h1M53 79.5h1M61 79.5h1M65 79.5h1M67 79.5h1M70 79.5h2M74 79.5h7M87 79.5h1M92 79.5h1M94 79.5h1M99 79.5h2M49 80.5h1M56 80.5h1M60 80.5h1M64 80.5h1M69 80.5h2M73 80.5h10M84 80.5h1M90 80.5h1M95 80.5h3M99 80.5h1M63 81.5h1M67 81.5h4M72 81.5h2M75 81.5h2M79 81.5h1M59 82.5h1M63 82.5h1M65 82.5h2M70 82.5h4M77 82.5h1M80 82.5h1M85 82.5h6M102 82.5h1M119 82.5h1M44 83.5h1M59 83.5h1M62 83.5h2M65 83.5h2M68 83.5h3M72 83.5h2M78 83.5h2M81 83.5h3M85 83.5h1M89 83.5h1M94 83.5h1M96 83.5h1M46 84.5h1M54 84.5h3M59 84.5h1M62 84.5h1M66 84.5h1M71 84.5h2M78 84.5h1M83 84.5h4M90 84.5h1M95 84.5h1M53 85.5h2M61 85.5h2M64 85.5h2M67 85.5h1M71 85.5h2M75 85.5h1M80 85.5h1M84 85.5h1M86 85.5h1M101 85.5h1M44 86.5h1M47 86.5h1M53 86.5h4M64 86.5h1M70 86.5h1M74 86.5h3M79 86.5h3M84 86.5h1M92 86.5h1M49 87.5h1M62 87.5h1M68 87.5h1M71 87.5h1M75 87.5h3M83 87.5h1M90 87.5h1M93 87.5h1M97 87.5h1M47 88.5h1M59 88.5h1M67 88.5h1M69 88.5h1M72 88.5h1M74 88.5h1M77 88.5h2M80 88.5h1M83 88.5h2M88 88.5h1M91 88.5h1M104 88.5h1M46 89.5h1M52 89.5h1M63 89.5h1M65 89.5h1M68 89.5h1M70 89.5h1M72 89.5h2M75 89.5h1M84 89.5h1M86 89.5h1M89 89.5h1M92 89.5h1M95 89.5h1M97 89.5h1M99 89.5h1M58 90.5h1M66 90.5h1M70 90.5h2M73 90.5h3M79 90.5h1M81 90.5h1M96 90.5h1M52 91.5h1M61 91.5h1M67 91.5h1M71 91.5h1M79 91.5h1M93 91.5h1M45 92.5h1M48 92.5h1M58 92.5h2M61 92.5h2M64 92.5h1M75 92.5h1M78 92.5h1M80 92.5h1M88 92.5h1M93 92.5h1M98 92.5h1M55 93.5h2M61 93.5h1M63 93.5h1M67 93.5h1M71 93.5h1M77 93.5h1M79 93.5h1M82 93.5h3M86 93.5h2M90 93.5h2M93 93.5h2M59 94.5h2M72 94.5h1M77 94.5h1M82 94.5h1M87 94.5h1M92 94.5h1M94 94.5h1M96 94.5h1M98 94.5h1M64 95.5h1M66 95.5h2M71 95.5h1M79 95.5h2M88 95.5h2M91 95.5h1M94 95.5h2M99 95.5h1M101 95.5h1M48 96.5h1M55 96.5h1M65 96.5h2M71 96.5h1M73 96.5h1M75 96.5h2M79 96.5h1M85 96.5h10M46 97.5h1M59 97.5h1M62 97.5h2M70 97.5h1M73 97.5h1M83 97.5h1M85 97.5h3M89 97.5h5M97 97.5h1M60 98.5h1M71 98.5h1M83 98.5h2M86 98.5h12M104 98.5h1M59 99.5h1M71 99.5h1M73 99.5h1M83 99.5h1M85 99.5h9M98 99.5h1M74 100.5h1M83 100.5h11M40 101.5h1M54 101.5h1M74 101.5h1M80 101.5h2M83 101.5h7M91 101.5h3M97 101.5h1M60 102.5h1M62 102.5h1M77 102.5h2M81 102.5h2M84 102.5h12M58 103.5h1M80 103.5h2M83 103.5h3M87 103.5h7M69 104.5h2M81 104.5h1M83 104.5h9M93 104.5h3M70 105.5h1M80 105.5h11M92 105.5h1M43 106.5h1M63 106.5h1M69 106.5h1M71 106.5h1M75 106.5h1M79 106.5h9M89 106.5h1M58 107.5h1M70 107.5h1M73 107.5h1M77 107.5h1M79 107.5h2M82 107.5h11M48 108.5h1M53 108.5h1M74 108.5h16M96 108.5h1M102 108.5h1M34 109.5h1M74 109.5h2M78 109.5h8M90 109.5h1M92 109.5h1M33 110.5h1M47 110.5h1M55 110.5h2M67 110.5h1M70 110.5h1M73 110.5h2M77 110.5h1M79 110.5h3M83 110.5h1M85 110.5h3M51 111.5h1M74 111.5h8M83 111.5h7M64 112.5h1M74 112.5h1M76 112.5h7M84 112.5h1M86 112.5h1M62 113.5h1M71 113.5h1M73 113.5h4M78 113.5h5M84 113.5h2M68 114.5h1M72 114.5h2M76 114.5h8M85 114.5h1M87 114.5h1M64 115.5h2M69 115.5h1M73 115.5h8M82 115.5h3M59 116.5h1M70 116.5h9M80 116.5h2M84 116.5h1M92 116.5h1M69 117.5h12M83 117.5h1M86 117.5h1M47 118.5h1M69 118.5h1M71 118.5h12M53 119.5h1M66 119.5h1M70 119.5h1M72 119.5h10M51 120.5h1M60 120.5h1M68 120.5h3M73 120.5h1M75 120.5h2M78 120.5h4M85 120.5h1M51 121.5h1M53 121.5h1M65 121.5h1M68 121.5h1M72 121.5h4M77 121.5h1M79 121.5h1M33 122.5h1M59 122.5h1M65 122.5h1M72 122.5h1M75 122.5h2M80 122.5h1M83 122.5h2M63 123.5h2M70 123.5h2M73 123.5h1M76 123.5h1M78 123.5h1M21 124.5h1M33 124.5h1M64 124.5h1M67 124.5h2M73 124.5h1M75 124.5h1M79 124.5h1M64 125.5h1M72 125.5h1M79 125.5h2M47 126.5h1M66 126.5h1M70 126.5h2M73 126.5h2M76 126.5h1M78 126.5h1M82 126.5h1M56 127.5h1M62 127.5h1M64 127.5h1M66 127.5h1M41 128.5h1M59 128.5h1M68 128.5h1M71 128.5h2M75 128.5h1M65 129.5h1M83 129.5h1M59 130.5h1M62 130.5h1M64 130.5h1M66 130.5h1M68 130.5h4M34 131.5h1M61 131.5h1M53 132.5h2M59 132.5h1M62 132.5h1M65 132.5h1M67 132.5h1M59 133.5h1M65 133.5h1M72 133.5h1M48 134.5h1M60 134.5h1M63 134.5h1M66 134.5h1M68 134.5h1M71 134.5h1M57 135.5h1M61 135.5h2M64 135.5h1M66 135.5h1M72 135.5h2M77 135.5h1M60 136.5h1M62 136.5h1M66 136.5h2M83 136.5h1M29 137.5h1M52 137.5h2M57 137.5h1M61 137.5h1M65 137.5h1M68 137.5h1M75 137.5h1M55 138.5h1M61 138.5h1M63 138.5h1M73 138.5h1M44 139.5h1M63 139.5h1M72 139.5h2M53 140.5h2M73 140.5h1M30 141.5h1M46 141.5h1M58 141.5h1M60 141.5h1M65 141.5h2M74 141.5h1M58 142.5h1M54 143.5h1M61 143.5h1M64 143.5h1M68 143.5h1M70 143.5h1M39 144.5h1M49 144.5h1M56 144.5h1M61 144.5h1M66 144.5h1M44 145.5h2M49 145.5h2M52 145.5h1M54 145.5h1M61 145.5h1M68 145.5h1M45 146.5h1M51 146.5h1M54 146.5h1M65 146.5h1M67 146.5h1M47 147.5h1M51 147.5h1M54 147.5h1M60 147.5h1M55 148.5h2M59 148.5h3M64 148.5h1M74 148.5h1M48 149.5h1M50 149.5h1M52 149.5h1M57 149.5h2M60 149.5h1M66 149.5h1M49 150.5h1M59 150.5h2M63 150.5h1M73 150.5h1M43 151.5h1M53 151.5h1M57 151.5h2M64 151.5h1M44 152.5h1M51 152.5h1M53 152.5h2M56 152.5h2M62 152.5h1M65 152.5h1M57 153.5h1M45 154.5h1M62 154.5h1M33 155.5h1M56 155.5h1M34 156.5h1M46 156.5h1M54 156.5h1M57 156.5h2M60 156.5h1M38 157.5h1M48 157.5h1M51 157.5h1M45 158.5h1M50 158.5h1M55 158.5h1M56 159.5h1M60 159.5h1M41 160.5h1M43 160.5h1M48 160.5h1" stroke="#ee3535" stroke-width="1.3" fill="none"/>
<line x1="680.1" y1="269.5" x2="680.1" y2="431" stroke="#2b2b2b" stroke-width="1.2"/>
<line x1="637.8" y1="359.8" x2="771.8" y2="359.8" stroke="#2b2b2b" stroke-width="1.2"/>
<rect x="637.8" y="269.5" width="134" height="161.5" fill="none" stroke="#231f20" stroke-width="1.5"/>
<path d="M634.8 429.4h3M634.8 424.3h3M634.8 420.4h3M634.8 417.2h3M634.8 414.5h3M634.8 412.2h3M634.8 410.2h3M632.6 408.3h5.2M634.8 396.2h3M634.8 389.1h3M634.8 384.1h3M634.8 380.2h3M634.8 377h3M634.8 374.3h3M634.8 371.9h3M634.8 369.9h3M632.6 368h5.2M634.8 355.9h3M634.8 348.8h3M634.8 343.8h3M634.8 339.9h3M634.8 336.7h3M634.8 334h3M634.8 331.7h3M634.8 329.6h3M632.6 327.8h5.2M634.8 315.6h3M634.8 308.6h3M634.8 303.5h3M634.8 299.6h3M634.8 296.4h3M634.8 293.7h3M634.8 291.4h3M634.8 289.3h3M632.6 287.5h5.2M634.8 275.4h3" stroke="#2b2b2b" stroke-width="1.1" fill="none"/>
<text x="627.7" y="413.1" font-size="14.8" text-anchor="end" fill="#231f20">10</text>
<text x="627.1" y="407.1" font-size="8.8" fill="#231f20">2</text>
<text x="627.7" y="372.8" font-size="14.8" text-anchor="end" fill="#231f20">10</text>
<text x="627.1" y="366.8" font-size="8.8" fill="#231f20">3</text>
<text x="627.7" y="332.6" font-size="14.8" text-anchor="end" fill="#231f20">10</text>
<text x="627.1" y="326.6" font-size="8.8" fill="#231f20">4</text>
<text x="627.7" y="292.3" font-size="14.8" text-anchor="end" fill="#231f20">10</text>
<text x="627.1" y="286.3" font-size="8.8" fill="#231f20">5</text>
<path d="M638.7 431v3.2M642.9 431v3.2M646.1 431v3.2M648.8 431v3.2M651.1 431v3.2M653 431v3.2M654.8 431v3.2M656.3 431v5.5M666.5 431v3.2M672.4 431v3.2M676.6 431v3.2M679.9 431v3.2M682.6 431v3.2M684.8 431v3.2M686.8 431v3.2M688.5 431v3.2M690 431v5.5M700.2 431v3.2M706.2 431v3.2M710.4 431v3.2M713.6 431v3.2M716.3 431v3.2M718.6 431v3.2M720.5 431v3.2M722.3 431v3.2M723.8 431v5.5M734 431v3.2M739.9 431v3.2M744.1 431v3.2M747.4 431v3.2M750.1 431v3.2M752.3 431v3.2M754.3 431v3.2M756 431v3.2M757.5 431v5.5M767.7 431v3.2" stroke="#2b2b2b" stroke-width="1.1" fill="none"/>
<text x="656.3" y="451.8" font-size="14.8" text-anchor="middle" fill="#231f20">10</text>
<text x="663.9" y="445.8" font-size="8.8" fill="#231f20">2</text>
<text x="690" y="451.8" font-size="14.8" text-anchor="middle" fill="#231f20">10</text>
<text x="697.7" y="445.8" font-size="8.8" fill="#231f20">3</text>
<text x="723.8" y="451.8" font-size="14.8" text-anchor="middle" fill="#231f20">10</text>
<text x="731.4" y="445.8" font-size="8.8" fill="#231f20">4</text>
<text x="757.5" y="451.8" font-size="14.8" text-anchor="middle" fill="#231f20">10</text>
<text x="765.2" y="445.8" font-size="8.8" fill="#231f20">5</text>
<text x="606.6" y="350.2" font-size="14.5" text-anchor="middle" font-weight="normal" fill="#231f20" transform="rotate(-90 606.6 350.2)">PE-A</text>
<text x="704.8" y="470.5" font-size="14.5" text-anchor="middle" font-weight="normal" fill="#231f20">FITC-A</text>
<text x="650.1" y="340.9" font-size="9.6" font-weight="bold" text-anchor="middle" fill="#f4f4f4" stroke="#231f20" stroke-width="2.0" stroke-linejoin="round" paint-order="stroke" letter-spacing="-0.9">Q1</text>
<text x="706.4" y="340.9" font-size="9.6" font-weight="bold" text-anchor="middle" fill="#f4f4f4" stroke="#231f20" stroke-width="2.0" stroke-linejoin="round" paint-order="stroke" letter-spacing="-0.9">Q2</text>
<text x="650.1" y="390.6" font-size="9.6" font-weight="bold" text-anchor="middle" fill="#f4f4f4" stroke="#231f20" stroke-width="2.0" stroke-linejoin="round" paint-order="stroke" letter-spacing="-0.9">Q3</text>
<text x="706.4" y="390.6" font-size="9.6" font-weight="bold" text-anchor="middle" fill="#f4f4f4" stroke="#231f20" stroke-width="2.0" stroke-linejoin="round" paint-order="stroke" letter-spacing="-0.9">Q4</text>
<path d="M55.6 671.3L55.6 640L56.1 640L56.1 639.8L56.6 639.8L56.6 665.3L57.1 665.3L57.1 663.9L57.6 663.9L57.6 667.2L58.1 667.2L58.1 665.6L58.6 665.6L58.6 666.2L59.1 666.2L59.1 667.6L59.6 667.6L59.6 668.1L60.1 668.1L60.1 668L60.6 668L60.6 665.8L61.1 665.8L61.1 668L61.6 668L61.6 667.8L62.1 667.8L62.1 667.4L62.6 667.4L62.6 665.4L63.1 665.4L63.1 667.5L63.6 667.5L63.6 666.9L64.1 666.9L64.1 665.7L64.6 665.7L64.6 666.9L65.1 666.9L65.1 666.8L65.6 666.8L65.6 666.7L66.1 666.7L66.1 666.6L66.6 666.6L66.6 666L67.1 666L67.1 667.2L67.6 667.2L67.6 665.9L68.1 665.9L68.1 667.4L68.6 667.4L68.6 667.1L69.1 667.1L69.1 666.9L69.6 666.9L69.6 668L70.1 668L70.1 666.8L70.6 666.8L70.6 667.6L71.1 667.6L71.1 667.4L71.6 667.4L71.6 666.9L72.1 666.9L72.1 667.3L72.6 667.3L72.6 665.9L73.1 665.9L73.1 664.9L73.6 664.9L73.6 665.2L74.1 665.2L74.1 664.5L74.6 664.5L74.6 664L75.1 664L75.1 664.8L75.6 664.8L75.6 662.1L76.1 662.1L76.1 664.9L76.6 664.9L76.6 664.4L77.1 664.4L77.1 664.5L77.6 664.5L77.6 664.5L78.1 664.5L78.1 664.7L78.6 664.7L78.6 664.1L79.1 664.1L79.1 663.8L79.6 663.8L79.6 664L80.1 664L80.1 661.6L80.6 661.6L80.6 660.8L81.1 660.8L81.1 659.2L81.6 659.2L81.6 662.1L82.1 662.1L82.1 661.3L82.6 661.3L82.6 661.2L83.1 661.2L83.1 658.6L83.6 658.6L83.6 660.6L84.1 660.6L84.1 659.3L84.6 659.3L84.6 658.4L85.1 658.4L85.1 656.3L85.6 656.3L85.6 657.1L86.1 657.1L86.1 655.8L86.6 655.8L86.6 654L87.1 654L87.1 650.1L87.6 650.1L87.6 650.9L88.1 650.9L88.1 649.8L88.6 649.8L88.6 649.3L89.1 649.3L89.1 648.4L89.6 648.4L89.6 645.2L90.1 645.2L90.1 640.3L90.6 640.3L90.6 640.6L91.1 640.6L91.1 637.7L91.6 637.7L91.6 638L92.1 638L92.1 633.1L92.6 633.1L92.6 635.6L93.1 635.6L93.1 624.8L93.6 624.8L93.6 627.6L94.1 627.6L94.1 620.4L94.6 620.4L94.6 621L95.1 621L95.1 611.4L95.6 611.4L95.6 624.4L96.1 624.4L96.1 622.4L96.6 622.4L96.6 625L97.1 625L97.1 622L97.6 622L97.6 619.9L98.1 619.9L98.1 618.3L98.6 618.3L98.6 615.8L99.1 615.8L99.1 606.9L99.6 606.9L99.6 609.3L100.1 609.3L100.1 606.6L100.6 606.6L100.6 609.7L101.1 609.7L101.1 609.1L101.6 609.1L101.6 609.7L102.1 609.7L102.1 599.5L102.6 599.5L102.6 602.7L103.1 602.7L103.1 600.6L103.6 600.6L103.6 603L104.1 603L104.1 607.5L104.6 607.5L104.6 605.7L105.1 605.7L105.1 612.4L105.6 612.4L105.6 604.2L106.1 604.2L106.1 607L106.6 607L106.6 606.7L107.1 606.7L107.1 609.1L107.6 609.1L107.6 607.3L108.1 607.3L108.1 613.9L108.6 613.9L108.6 612.7L109.1 612.7L109.1 616.6L109.6 616.6L109.6 617L110.1 617L110.1 617.2L110.6 617.2L110.6 618.4L111.1 618.4L111.1 622.9L111.6 622.9L111.6 627.7L112.1 627.7L112.1 630.2L112.6 630.2L112.6 627.7L113.1 627.7L113.1 631L113.6 631L113.6 628.5L114.1 628.5L114.1 627.8L114.6 627.8L114.6 633.2L115.1 633.2L115.1 630.8L115.6 630.8L115.6 633L116.1 633L116.1 637.8L116.6 637.8L116.6 638.7L117.1 638.7L117.1 637.5L117.6 637.5L117.6 640.8L118.1 640.8L118.1 642.7L118.6 642.7L118.6 637.7L119.1 637.7L119.1 641L119.6 641L119.6 643.3L120.1 643.3L120.1 642.9L120.6 642.9L120.6 643.9L121.1 643.9L121.1 644.1L121.6 644.1L121.6 641.8L122.1 641.8L122.1 643.2L122.6 643.2L122.6 647.5L123.1 647.5L123.1 643.5L123.6 643.5L123.6 645L124.1 645L124.1 644.1L124.6 644.1L124.6 644.8L125.1 644.8L125.1 642.8L125.6 642.8L125.6 644.4L126.1 644.4L126.1 645.9L126.6 645.9L126.6 646.1L127.1 646.1L127.1 647.4L127.6 647.4L127.6 644.1L128.1 644.1L128.1 644.4L128.6 644.4L128.6 645.1L129.1 645.1L129.1 645.6L129.6 645.6L129.6 644.6L130.1 644.6L130.1 640.9L130.6 640.9L130.6 636.4L131.1 636.4L131.1 638.1L131.6 638.1L131.6 636.6L132.1 636.6L132.1 633.2L132.6 633.2L132.6 626.8L133.1 626.8L133.1 628.3L133.6 628.3L133.6 624.7L134.1 624.7L134.1 615.3L134.6 615.3L134.6 620.9L135.1 620.9L135.1 612.2L135.6 612.2L135.6 607.6L136.1 607.6L136.1 605.1L136.6 605.1L136.6 603.1L137.1 603.1L137.1 591.6L137.6 591.6L137.6 592L138.1 592L138.1 585L138.6 585L138.6 583.6L139.1 583.6L139.1 567.1L139.6 567.1L139.6 577.9L140.1 577.9L140.1 576.1L140.6 576.1L140.6 567.9L141.1 567.9L141.1 559.1L141.6 559.1L141.6 555.3L142.1 555.3L142.1 546.3L142.6 546.3L142.6 550.1L143.1 550.1L143.1 537.6L143.6 537.6L143.6 549.1L144.1 549.1L144.1 544.4L144.6 544.4L144.6 533.7L145.1 533.7L145.1 534.1L145.6 534.1L145.6 534.6L146.1 534.6L146.1 530.7L146.6 530.7L146.6 529.1L147.1 529.1L147.1 509.8L147.6 509.8L147.6 518.4L148.1 518.4L148.1 515.3L148.6 515.3L148.6 524.8L149.1 524.8L149.1 533.3L149.6 533.3L149.6 521.1L150.1 521.1L150.1 541.5L150.6 541.5L150.6 548.8L151.1 548.8L151.1 534.5L151.6 534.5L151.6 531.4L152.1 531.4L152.1 547.2L152.6 547.2L152.6 549.7L153.1 549.7L153.1 572.5L153.6 572.5L153.6 561.5L154.1 561.5L154.1 572.1L154.6 572.1L154.6 573.8L155.1 573.8L155.1 583.9L155.6 583.9L155.6 587.6L156.1 587.6L156.1 594.2L156.6 594.2L156.6 597.6L157.1 597.6L157.1 589.3L157.6 589.3L157.6 601.4L158.1 601.4L158.1 615.4L158.6 615.4L158.6 615.6L159.1 615.6L159.1 619.4L159.6 619.4L159.6 618.4L160.1 618.4L160.1 631.7L160.6 631.7L160.6 630.3L161.1 630.3L161.1 632.1L161.6 632.1L161.6 634L162.1 634L162.1 637.8L162.6 637.8L162.6 642.7L163.1 642.7L163.1 648.7L163.6 648.7L163.6 648.6L164.1 648.6L164.1 650.6L164.6 650.6L164.6 652.7L165.1 652.7L165.1 653.9L165.6 653.9L165.6 656.6L166.1 656.6L166.1 655.7L166.6 655.7L166.6 656.1L167.1 656.1L167.1 658.3L167.6 658.3L167.6 659.4L168.1 659.4L168.1 659.9L168.6 659.9L168.6 662.2L169.1 662.2L169.1 661.4L169.6 661.4L169.6 661.6L170.1 661.6L170.1 663.6L170.6 663.6L170.6 664.1L171.1 664.1L171.1 665L171.6 665L171.6 665.5L172.1 665.5L172.1 666.7L172.6 666.7L172.6 664.8L173.1 664.8L173.1 667.4L173.6 667.4L173.6 666.9L174.1 666.9L174.1 667.5L174.6 667.5L174.6 666.5L175.1 666.5L175.1 665.4L175.6 665.4L175.6 667.7L176.1 667.7L176.1 668.9L176.6 668.9L176.6 669.4L177.1 669.4L177.1 669.9L177.6 669.9L177.6 670.1L178.1 670.1L178.1 670.2L178.6 670.2L178.6 670.5L179.1 670.5L179.1 670.6L179.6 670.6L179.6 670.7L180.1 670.7L180.1 670.8L180.6 670.8L180.6 670.8L181.1 670.8L181.1 670.9L181.6 670.9L181.6 671L182.1 671L182.1 671.1L182.6 671.1L182.6 671.1L183.1 671.1L183.1 671.1L183.6 671.1L183.6 671.2L184.1 671.2L184.1 671.2L184.6 671.2L184.6 671.2L185.1 671.2L185.1 671.2L185.6 671.2L185.6 671.3L186.1 671.3L186.1 671.3L186.6 671.3L186.6 671.3L187.1 671.3L187.1 671.3L187.6 671.3L187.6 671.3L188.1 671.3L188.1 671.3L188.6 671.3L188.6 671.3L189.1 671.3L189.1 671.3L189.6 671.3L189.6 671.3Z" fill="#f05a55" stroke="#e8262b" stroke-width="0.8"/>
<line x1="113" y1="509.8" x2="113" y2="671.3" stroke="#2b2b2b" stroke-width="1.2"/>
<line x1="55.6" y1="645.1" x2="113" y2="645.1" stroke="#4a4a4a" stroke-width="1.1"/>
<rect x="55.6" y="509.8" width="134" height="161.5" fill="none" stroke="#231f20" stroke-width="1.5"/>
<text x="48.6" y="676.2" font-size="15" text-anchor="end" font-weight="normal" fill="#231f20">0</text>
<text x="48.6" y="631.2" font-size="15" text-anchor="end" font-weight="normal" fill="#231f20">50</text>
<text x="48.6" y="586.2" font-size="15" text-anchor="end" font-weight="normal" fill="#231f20">100</text>
<text x="48.6" y="541.2" font-size="15" text-anchor="end" font-weight="normal" fill="#231f20">150</text>
<path d="M50.1 671.3h5.5M52.3 662.3h3.3M52.3 653.3h3.3M52.3 644.3h3.3M52.3 635.3h3.3M50.1 626.3h5.5M52.3 617.3h3.3M52.3 608.3h3.3M52.3 599.3h3.3M52.3 590.3h3.3M50.1 581.3h5.5M52.3 572.3h3.3M52.3 563.3h3.3M52.3 554.3h3.3M52.3 545.3h3.3M50.1 536.3h5.5M52.3 527.3h3.3M52.3 518.3h3.3" stroke="#2b2b2b" stroke-width="1.1" fill="none"/>
<path d="M56.5 671.3v3.2M60.7 671.3v3.2M63.9 671.3v3.2M66.6 671.3v3.2M68.9 671.3v3.2M70.8 671.3v3.2M72.6 671.3v3.2M74.1 671.3v5.5M84.3 671.3v3.2M90.2 671.3v3.2M94.4 671.3v3.2M97.7 671.3v3.2M100.4 671.3v3.2M102.6 671.3v3.2M104.6 671.3v3.2M106.3 671.3v3.2M107.8 671.3v5.5M118 671.3v3.2M124 671.3v3.2M128.2 671.3v3.2M131.4 671.3v3.2M134.1 671.3v3.2M136.4 671.3v3.2M138.3 671.3v3.2M140.1 671.3v3.2M141.6 671.3v5.5M151.8 671.3v3.2M157.7 671.3v3.2M161.9 671.3v3.2M165.2 671.3v3.2M167.9 671.3v3.2M170.1 671.3v3.2M172.1 671.3v3.2M173.8 671.3v3.2M175.3 671.3v5.5M185.5 671.3v3.2" stroke="#2b2b2b" stroke-width="1.1" fill="none"/>
<text x="74.1" y="692.1" font-size="14.8" text-anchor="middle" fill="#231f20">10</text>
<text x="81.7" y="686.1" font-size="8.8" fill="#231f20">2</text>
<text x="107.8" y="692.1" font-size="14.8" text-anchor="middle" fill="#231f20">10</text>
<text x="115.5" y="686.1" font-size="8.8" fill="#231f20">3</text>
<text x="141.6" y="692.1" font-size="14.8" text-anchor="middle" fill="#231f20">10</text>
<text x="149.2" y="686.1" font-size="8.8" fill="#231f20">4</text>
<text x="175.3" y="692.1" font-size="14.8" text-anchor="middle" fill="#231f20">10</text>
<text x="183" y="686.1" font-size="8.8" fill="#231f20">5</text>
<text x="18.4" y="590.5" font-size="14.5" text-anchor="middle" font-weight="normal" fill="#231f20" transform="rotate(-90 18.4 590.5)">Count</text>
<text x="122.6" y="710.8" font-size="14.5" text-anchor="middle" font-weight="normal" fill="#231f20">PE-A</text>
<text x="82.9" y="595.5" font-size="9.6" font-weight="bold" text-anchor="middle" fill="#f4f4f4" stroke="#231f20" stroke-width="2.0" stroke-linejoin="round" paint-order="stroke" letter-spacing="-0.9">P2</text>
<path transform="translate(240.4 509.8)" d="M69 4.5h1M95 5.5h1M86 6.5h1M84 8.5h1M56 10.5h1M104 10.5h1M107 10.5h1M81 11.5h2M85 11.5h1M84 12.5h1M83 14.5h1M87 14.5h1M85 15.5h1M99 15.5h1M78 16.5h1M79 17.5h1M88 18.5h1M57 19.5h1M82 19.5h1M88 19.5h1M93 19.5h3M68 20.5h1M72 20.5h1M75 20.5h1M88 20.5h1M92 20.5h5M73 21.5h1M81 21.5h1M84 21.5h1M86 21.5h1M90 21.5h1M92 21.5h1M95 21.5h1M70 22.5h1M85 22.5h1M88 22.5h2M91 22.5h2M95 22.5h1M82 23.5h1M84 23.5h1M86 23.5h1M89 23.5h4M94 23.5h2M97 23.5h2M100 23.5h1M58 24.5h1M62 24.5h1M73 24.5h2M77 24.5h1M79 24.5h1M84 24.5h2M87 24.5h2M90 24.5h4M97 24.5h1M99 24.5h1M105 24.5h1M73 25.5h1M82 25.5h6M89 25.5h4M94 25.5h1M97 25.5h1M100 25.5h2M60 26.5h1M72 26.5h1M79 26.5h3M83 26.5h10M95 26.5h2M98 26.5h2M102 26.5h2M64 27.5h1M72 27.5h1M75 27.5h1M80 27.5h5M86 27.5h3M90 27.5h3M94 27.5h3M99 27.5h3M64 28.5h1M69 28.5h1M83 28.5h1M85 28.5h10M96 28.5h1M98 28.5h3M62 29.5h1M71 29.5h1M75 29.5h2M78 29.5h1M81 29.5h1M84 29.5h4M89 29.5h8M101 29.5h1M103 29.5h1M69 30.5h2M75 30.5h1M77 30.5h1M80 30.5h2M83 30.5h2M86 30.5h11M98 30.5h1M100 30.5h1M102 30.5h1M64 31.5h1M67 31.5h1M78 31.5h2M81 31.5h1M83 31.5h3M87 31.5h9M97 31.5h1M99 31.5h1M103 31.5h1M60 32.5h1M65 32.5h1M70 32.5h1M73 32.5h3M77 32.5h8M86 32.5h6M93 32.5h5M99 32.5h3M55 33.5h1M67 33.5h2M75 33.5h1M77 33.5h1M81 33.5h15M97 33.5h3M70 34.5h3M75 34.5h21M97 34.5h3M109 34.5h1M63 35.5h1M68 35.5h2M72 35.5h11M84 35.5h17M104 35.5h1M70 36.5h2M75 36.5h26M103 36.5h1M110 36.5h1M112 36.5h1M62 37.5h1M66 37.5h1M69 37.5h4M74 37.5h6M81 37.5h4M86 37.5h15M102 37.5h1M60 38.5h1M69 38.5h1M71 38.5h2M74 38.5h2M77 38.5h12M90 38.5h12M103 38.5h1M48 39.5h1M50 39.5h2M64 39.5h2M67 39.5h1M71 39.5h3M75 39.5h24M100 39.5h5M53 40.5h1M67 40.5h2M72 40.5h1M74 40.5h1M76 40.5h20M97 40.5h5M54 41.5h1M58 41.5h1M60 41.5h1M65 41.5h2M69 41.5h1M74 41.5h26M101 41.5h1M103 41.5h1M111 41.5h1M58 42.5h3M65 42.5h2M68 42.5h3M72 42.5h23M96 42.5h4M103 42.5h1M56 43.5h1M61 43.5h2M64 43.5h1M70 43.5h3M74 43.5h2M77 43.5h21M99 43.5h4M60 44.5h1M62 44.5h3M68 44.5h26M95 44.5h6M104 44.5h1M108 44.5h1M62 45.5h1M67 45.5h6M74 45.5h26M102 45.5h2M61 46.5h1M63 46.5h3M67 46.5h1M69 46.5h31M110 46.5h1M48 47.5h1M58 47.5h1M62 47.5h3M69 47.5h26M96 47.5h7M62 48.5h3M67 48.5h32M100 48.5h2M103 48.5h1M47 49.5h1M63 49.5h2M66 49.5h1M68 49.5h1M70 49.5h3M74 49.5h29M64 50.5h4M69 50.5h29M99 50.5h1M102 50.5h1M45 51.5h1M49 51.5h1M57 51.5h1M59 51.5h2M64 51.5h1M67 51.5h3M71 51.5h24M96 51.5h5M102 51.5h2M54 52.5h1M61 52.5h1M66 52.5h1M68 52.5h1M70 52.5h1M73 52.5h24M98 52.5h2M101 52.5h1M105 52.5h1M109 52.5h1M62 53.5h2M67 53.5h1M69 53.5h29M100 53.5h1M110 53.5h1M44 54.5h1M53 54.5h1M57 54.5h1M63 54.5h4M68 54.5h27M96 54.5h5M54 55.5h1M59 55.5h1M61 55.5h1M65 55.5h1M67 55.5h2M70 55.5h27M98 55.5h1M108 55.5h1M56 56.5h3M61 56.5h4M66 56.5h30M97 56.5h1M99 56.5h1M101 56.5h1M54 57.5h1M58 57.5h1M61 57.5h9M71 57.5h25M97 57.5h1M106 57.5h1M108 57.5h1M52 58.5h1M64 58.5h1M66 58.5h2M69 58.5h23M95 58.5h4M105 58.5h1M58 59.5h2M62 59.5h1M64 59.5h5M70 59.5h26M97 59.5h1M99 59.5h1M101 59.5h1M103 59.5h1M35 60.5h1M53 60.5h1M58 60.5h1M61 60.5h2M65 60.5h31M98 60.5h1M104 60.5h1M113 60.5h1M41 61.5h1M48 61.5h1M54 61.5h1M58 61.5h1M63 61.5h1M66 61.5h1M68 61.5h14M83 61.5h12M96 61.5h2M59 62.5h1M61 62.5h1M65 62.5h6M72 62.5h13M86 62.5h4M91 62.5h3M97 62.5h2M54 63.5h1M56 63.5h2M59 63.5h1M61 63.5h1M64 63.5h1M66 63.5h2M69 63.5h23M93 63.5h2M96 63.5h2M99 63.5h1M57 64.5h1M59 64.5h1M63 64.5h1M65 64.5h7M75 64.5h18M99 64.5h1M52 65.5h1M54 65.5h1M56 65.5h1M58 65.5h1M60 65.5h1M64 65.5h4M70 65.5h23M94 65.5h2M97 65.5h2M101 65.5h2M51 66.5h1M56 66.5h1M60 66.5h1M67 66.5h19M87 66.5h5M94 66.5h1M97 66.5h1M48 67.5h1M50 67.5h1M52 67.5h1M63 67.5h1M65 67.5h4M70 67.5h6M77 67.5h10M88 67.5h2M91 67.5h3M95 67.5h1M97 67.5h1M57 68.5h1M62 68.5h1M65 68.5h1M67 68.5h5M73 68.5h20M96 68.5h1M53 69.5h1M60 69.5h1M62 69.5h2M65 69.5h1M67 69.5h1M69 69.5h3M73 69.5h14M88 69.5h6M97 69.5h1M103 69.5h1M56 70.5h1M58 70.5h1M63 70.5h1M65 70.5h1M67 70.5h2M70 70.5h10M81 70.5h5M87 70.5h1M90 70.5h2M93 70.5h1M100 70.5h1M60 71.5h1M64 71.5h1M68 71.5h6M75 71.5h15M91 71.5h1M62 72.5h1M68 72.5h14M84 72.5h1M87 72.5h1M90 72.5h3M94 72.5h1M59 73.5h2M63 73.5h1M65 73.5h2M68 73.5h4M73 73.5h2M76 73.5h3M80 73.5h2M83 73.5h1M85 73.5h2M88 73.5h2M95 73.5h3M99 73.5h1M45 74.5h1M51 74.5h1M58 74.5h1M60 74.5h1M62 74.5h1M65 74.5h2M69 74.5h6M76 74.5h5M82 74.5h5M88 74.5h2M44 75.5h1M59 75.5h1M62 75.5h1M65 75.5h1M67 75.5h1M69 75.5h1M73 75.5h3M77 75.5h2M80 75.5h2M83 75.5h1M86 75.5h1M89 75.5h1M91 75.5h1M94 75.5h1M45 76.5h1M48 76.5h2M52 76.5h1M58 76.5h1M60 76.5h2M64 76.5h1M67 76.5h1M70 76.5h1M72 76.5h2M75 76.5h5M81 76.5h6M91 76.5h1M51 77.5h2M58 77.5h1M60 77.5h1M64 77.5h1M67 77.5h1M69 77.5h2M73 77.5h1M76 77.5h3M81 77.5h3M85 77.5h2M90 77.5h1M61 78.5h1M67 78.5h4M74 78.5h6M81 78.5h2M84 78.5h1M90 78.5h1M46 79.5h1M50 79.5h1M57 79.5h2M63 79.5h3M67 79.5h2M71 79.5h4M76 79.5h1M78 79.5h1M80 79.5h1M84 79.5h1M86 79.5h1M89 79.5h4M56 80.5h2M61 80.5h1M63 80.5h2M68 80.5h1M70 80.5h1M72 80.5h1M77 80.5h4M89 80.5h1M96 80.5h1M44 81.5h1M51 81.5h1M63 81.5h2M66 81.5h1M70 81.5h1M72 81.5h1M76 81.5h3M83 81.5h2M87 81.5h1M90 81.5h1M98 81.5h1M104 81.5h1M47 82.5h1M54 82.5h1M57 82.5h1M60 82.5h1M63 82.5h2M66 82.5h4M74 82.5h1M76 82.5h1M82 82.5h1M84 82.5h3M94 82.5h1M98 82.5h1M56 83.5h1M59 83.5h2M63 83.5h2M66 83.5h1M69 83.5h4M77 83.5h3M83 83.5h4M90 83.5h1M36 84.5h1M59 84.5h1M61 84.5h1M64 84.5h1M66 84.5h2M75 84.5h1M79 84.5h1M84 84.5h2M87 84.5h1M90 84.5h1M45 85.5h1M55 85.5h1M62 85.5h1M69 85.5h5M78 85.5h3M87 85.5h1M54 86.5h1M56 86.5h1M65 86.5h5M71 86.5h5M78 86.5h1M85 86.5h1M89 86.5h1M59 87.5h2M62 87.5h2M67 87.5h4M72 87.5h1M77 87.5h1M90 87.5h1M95 87.5h1M69 88.5h2M75 88.5h2M80 88.5h1M82 88.5h1M93 88.5h1M46 89.5h1M51 89.5h1M53 89.5h1M68 89.5h2M71 89.5h1M75 89.5h1M77 89.5h1M81 89.5h1M88 89.5h1M27 90.5h1M51 90.5h1M61 90.5h1M63 90.5h1M72 90.5h1M84 90.5h1M86 90.5h1M89 90.5h2M92 90.5h2M95 90.5h1M47 91.5h1M49 91.5h1M52 91.5h1M55 91.5h2M67 91.5h2M72 91.5h1M75 91.5h1M81 91.5h2M86 91.5h2M90 91.5h2M46 92.5h1M60 92.5h2M63 92.5h2M66 92.5h1M70 92.5h1M78 92.5h1M81 92.5h1M85 92.5h1M87 92.5h6M95 92.5h2M58 93.5h1M63 93.5h1M65 93.5h1M67 93.5h3M71 93.5h3M77 93.5h1M81 93.5h1M84 93.5h1M87 93.5h9M36 94.5h1M47 94.5h1M65 94.5h1M73 94.5h1M76 94.5h1M78 94.5h1M80 94.5h1M83 94.5h8M92 94.5h1M69 95.5h1M76 95.5h1M82 95.5h2M85 95.5h7M95 95.5h1M97 95.5h1M61 96.5h2M64 96.5h1M72 96.5h1M80 96.5h8M89 96.5h3M51 97.5h1M56 97.5h2M60 97.5h1M67 97.5h2M72 97.5h1M78 97.5h1M80 97.5h10M91 97.5h1M94 97.5h1M56 98.5h1M76 98.5h1M78 98.5h1M80 98.5h3M84 98.5h9M94 98.5h1M97 98.5h1M66 99.5h2M80 99.5h2M83 99.5h11M64 100.5h1M73 100.5h2M76 100.5h1M79 100.5h8M88 100.5h4M93 100.5h1M57 101.5h2M61 101.5h1M77 101.5h3M81 101.5h10M93 101.5h1M98 101.5h1M51 102.5h1M57 102.5h1M75 102.5h12M89 102.5h3M95 102.5h1M61 103.5h1M76 103.5h5M82 103.5h10M93 103.5h1M95 103.5h1M62 104.5h1M72 104.5h2M77 104.5h15M93 104.5h1M51 105.5h1M56 105.5h1M71 105.5h2M74 105.5h2M77 105.5h1M79 105.5h10M91 105.5h1M70 106.5h1M73 106.5h13M88 106.5h1M90 106.5h1M93 106.5h1M47 107.5h1M61 107.5h1M67 107.5h2M70 107.5h1M72 107.5h17M90 107.5h1M36 108.5h1M54 108.5h1M69 108.5h1M71 108.5h2M74 108.5h2M77 108.5h12M46 109.5h1M62 109.5h1M67 109.5h1M71 109.5h1M73 109.5h9M83 109.5h3M88 109.5h1M32 110.5h1M70 110.5h15M86 110.5h1M21 111.5h1M57 111.5h1M61 111.5h1M70 111.5h2M73 111.5h12M64 112.5h1M67 112.5h3M71 112.5h8M80 112.5h2M86 112.5h1M56 113.5h1M66 113.5h17M84 113.5h1M58 114.5h1M64 114.5h1M66 114.5h1M68 114.5h12M81 114.5h1M45 115.5h2M56 115.5h1M63 115.5h1M66 115.5h2M69 115.5h6M76 115.5h6M83 115.5h1M57 116.5h1M64 116.5h1M66 116.5h1M68 116.5h11M80 116.5h1M83 116.5h1M47 117.5h1M59 117.5h1M62 117.5h1M64 117.5h1M66 117.5h11M78 117.5h2M83 117.5h1M49 118.5h1M62 118.5h2M66 118.5h1M69 118.5h3M73 118.5h8M82 118.5h1M85 118.5h1M47 119.5h1M54 119.5h1M56 119.5h1M61 119.5h1M66 119.5h2M69 119.5h7M77 119.5h3M81 119.5h1M87 119.5h1M56 120.5h1M61 120.5h1M64 120.5h12M77 120.5h1M79 120.5h1M43 121.5h1M54 121.5h1M56 121.5h1M61 121.5h3M65 121.5h2M68 121.5h10M79 121.5h1M54 122.5h1M58 122.5h2M65 122.5h1M67 122.5h1M70 122.5h6M59 123.5h2M62 123.5h4M68 123.5h1M70 123.5h1M72 123.5h4M79 123.5h1M51 124.5h1M58 124.5h1M60 124.5h1M64 124.5h4M70 124.5h1M72 124.5h3M78 124.5h1M52 125.5h2M55 125.5h1M59 125.5h2M62 125.5h1M64 125.5h1M68 125.5h5M74 125.5h2M52 126.5h2M55 126.5h1M57 126.5h1M61 126.5h2M64 126.5h1M66 126.5h1M68 126.5h1M70 126.5h1M73 126.5h3M45 127.5h1M53 127.5h2M58 127.5h1M63 127.5h1M65 127.5h1M68 127.5h2M72 127.5h1M76 127.5h1M41 128.5h1M56 128.5h2M61 128.5h1M69 128.5h1M72 128.5h1M75 128.5h2M80 128.5h1M51 129.5h1M57 129.5h1M61 129.5h2M65 129.5h1M68 129.5h1M70 129.5h1M72 129.5h1M75 129.5h2M85 129.5h1M27 130.5h1M42 130.5h1M54 130.5h2M57 130.5h1M61 130.5h3M65 130.5h1M67 130.5h1M69 130.5h3M73 130.5h1M75 130.5h1M45 131.5h2M52 131.5h1M55 131.5h1M57 131.5h1M60 131.5h1M65 131.5h1M71 131.5h1M78 131.5h1M48 132.5h1M50 132.5h1M59 132.5h1M61 132.5h2M66 132.5h2M72 132.5h1M76 132.5h1M56 133.5h1M58 133.5h1M66 133.5h1M78 133.5h1M90 133.5h1M56 134.5h2M61 134.5h1M66 134.5h2M50 135.5h1M52 135.5h2M57 135.5h3M62 135.5h2M67 135.5h1M44 136.5h1M46 136.5h1M51 136.5h1M53 136.5h1M55 136.5h1M57 136.5h1M60 136.5h3M64 136.5h4M69 136.5h1M71 136.5h1M44 137.5h1M54 137.5h1M58 137.5h4M63 137.5h1M72 137.5h2M47 138.5h1M49 138.5h2M55 138.5h2M58 138.5h2M64 138.5h1M39 139.5h1M55 139.5h2M58 139.5h1M61 139.5h2M68 139.5h1M71 139.5h1M46 140.5h1M53 140.5h1M58 140.5h3M63 140.5h3M68 140.5h2M75 140.5h2M45 141.5h1M48 141.5h1M53 141.5h1M55 141.5h3M61 141.5h3M65 141.5h1M68 141.5h1M70 141.5h1M73 141.5h1M40 142.5h1M50 142.5h2M54 142.5h3M58 142.5h1M60 142.5h1M64 142.5h4M70 142.5h1M41 143.5h1M46 143.5h1M48 143.5h2M53 143.5h2M56 143.5h1M58 143.5h1M60 143.5h1M64 143.5h1M68 143.5h1M70 143.5h1M41 144.5h1M44 144.5h1M48 144.5h1M53 144.5h1M58 144.5h1M62 144.5h1M64 144.5h1M70 144.5h1M74 144.5h1M44 145.5h3M49 145.5h1M54 145.5h1M56 145.5h1M65 145.5h1M70 145.5h1M46 146.5h1M49 146.5h1M53 146.5h2M59 146.5h1M66 146.5h1M69 146.5h1M35 147.5h1M47 147.5h1M50 147.5h1M53 147.5h2M58 147.5h1M61 147.5h1M74 147.5h1M40 148.5h1M48 148.5h1M50 148.5h1M54 148.5h1M58 148.5h1M62 148.5h1M67 148.5h2M30 149.5h1M42 149.5h2M46 149.5h1M49 149.5h2M54 149.5h1M57 149.5h1M63 149.5h1M68 149.5h1M71 149.5h1M73 149.5h1M81 149.5h1M44 150.5h1M46 150.5h1M50 150.5h2M53 150.5h1M56 150.5h3M41 151.5h1M48 151.5h3M53 151.5h2M57 151.5h1M59 151.5h1M61 151.5h1M65 151.5h1M75 151.5h1M44 152.5h1M46 152.5h1M49 152.5h3M57 152.5h1M61 152.5h1M69 152.5h2M42 153.5h1M49 153.5h2M60 153.5h1M65 153.5h1M67 153.5h1M38 154.5h1M44 154.5h1M48 154.5h1M50 154.5h1M52 154.5h1M54 154.5h2M61 154.5h1M63 154.5h1M40 155.5h1M43 155.5h1M46 155.5h1M51 155.5h1M57 155.5h1M44 156.5h1M54 156.5h2M39 157.5h1M46 157.5h1M49 157.5h1M66 157.5h2M43 158.5h1M48 158.5h1M53 158.5h2M50 159.5h2M56 159.5h1M63 159.5h1M46 160.5h1M50 160.5h1" stroke="#ee3535" stroke-width="1.3" fill="none"/>
<line x1="282.7" y1="509.8" x2="282.7" y2="671.3" stroke="#2b2b2b" stroke-width="1.2"/>
<line x1="240.4" y1="600.1" x2="374.4" y2="600.1" stroke="#2b2b2b" stroke-width="1.2"/>
<rect x="240.4" y="509.8" width="134" height="161.5" fill="none" stroke="#231f20" stroke-width="1.5"/>
<path d="M237.4 669.7h3M237.4 664.6h3M237.4 660.7h3M237.4 657.5h3M237.4 654.8h3M237.4 652.5h3M237.4 650.5h3M235.2 648.6h5.2M237.4 636.5h3M237.4 629.4h3M237.4 624.4h3M237.4 620.5h3M237.4 617.3h3M237.4 614.6h3M237.4 612.2h3M237.4 610.2h3M235.2 608.3h5.2M237.4 596.2h3M237.4 589.1h3M237.4 584.1h3M237.4 580.2h3M237.4 577h3M237.4 574.3h3M237.4 572h3M237.4 569.9h3M235.2 568.1h5.2M237.4 555.9h3M237.4 548.9h3M237.4 543.8h3M237.4 539.9h3M237.4 536.7h3M237.4 534h3M237.4 531.7h3M237.4 529.6h3M235.2 527.8h5.2M237.4 515.7h3" stroke="#2b2b2b" stroke-width="1.1" fill="none"/>
<text x="230.3" y="653.4" font-size="14.8" text-anchor="end" fill="#231f20">10</text>
<text x="229.7" y="647.4" font-size="8.8" fill="#231f20">2</text>
<text x="230.3" y="613.1" font-size="14.8" text-anchor="end" fill="#231f20">10</text>
<text x="229.7" y="607.1" font-size="8.8" fill="#231f20">3</text>
<text x="230.3" y="572.9" font-size="14.8" text-anchor="end" fill="#231f20">10</text>
<text x="229.7" y="566.9" font-size="8.8" fill="#231f20">4</text>
<text x="230.3" y="532.6" font-size="14.8" text-anchor="end" fill="#231f20">10</text>
<text x="229.7" y="526.6" font-size="8.8" fill="#231f20">5</text>
<path d="M241.3 671.3v3.2M245.5 671.3v3.2M248.7 671.3v3.2M251.4 671.3v3.2M253.7 671.3v3.2M255.6 671.3v3.2M257.4 671.3v3.2M258.9 671.3v5.5M269.1 671.3v3.2M275 671.3v3.2M279.2 671.3v3.2M282.5 671.3v3.2M285.2 671.3v3.2M287.4 671.3v3.2M289.4 671.3v3.2M291.1 671.3v3.2M292.6 671.3v5.5M302.8 671.3v3.2M308.8 671.3v3.2M313 671.3v3.2M316.2 671.3v3.2M318.9 671.3v3.2M321.2 671.3v3.2M323.1 671.3v3.2M324.9 671.3v3.2M326.4 671.3v5.5M336.6 671.3v3.2M342.5 671.3v3.2M346.7 671.3v3.2M350 671.3v3.2M352.7 671.3v3.2M354.9 671.3v3.2M356.9 671.3v3.2M358.6 671.3v3.2M360.1 671.3v5.5M370.3 671.3v3.2" stroke="#2b2b2b" stroke-width="1.1" fill="none"/>
<text x="258.9" y="692.1" font-size="14.8" text-anchor="middle" fill="#231f20">10</text>
<text x="266.5" y="686.1" font-size="8.8" fill="#231f20">2</text>
<text x="292.6" y="692.1" font-size="14.8" text-anchor="middle" fill="#231f20">10</text>
<text x="300.3" y="686.1" font-size="8.8" fill="#231f20">3</text>
<text x="326.4" y="692.1" font-size="14.8" text-anchor="middle" fill="#231f20">10</text>
<text x="334" y="686.1" font-size="8.8" fill="#231f20">4</text>
<text x="360.1" y="692.1" font-size="14.8" text-anchor="middle" fill="#231f20">10</text>
<text x="367.8" y="686.1" font-size="8.8" fill="#231f20">5</text>
<text x="209.2" y="590.5" font-size="14.5" text-anchor="middle" font-weight="normal" fill="#231f20" transform="rotate(-90 209.2 590.5)">PE-A</text>
<text x="307.4" y="710.8" font-size="14.5" text-anchor="middle" font-weight="normal" fill="#231f20">FITC-A</text>
<text x="252.7" y="581.2" font-size="9.6" font-weight="bold" text-anchor="middle" fill="#f4f4f4" stroke="#231f20" stroke-width="2.0" stroke-linejoin="round" paint-order="stroke" letter-spacing="-0.9">Q1</text>
<text x="309" y="581.2" font-size="9.6" font-weight="bold" text-anchor="middle" fill="#f4f4f4" stroke="#231f20" stroke-width="2.0" stroke-linejoin="round" paint-order="stroke" letter-spacing="-0.9">Q2</text>
<text x="252.7" y="630.9" font-size="9.6" font-weight="bold" text-anchor="middle" fill="#f4f4f4" stroke="#231f20" stroke-width="2.0" stroke-linejoin="round" paint-order="stroke" letter-spacing="-0.9">Q3</text>
<text x="309" y="630.9" font-size="9.6" font-weight="bold" text-anchor="middle" fill="#f4f4f4" stroke="#231f20" stroke-width="2.0" stroke-linejoin="round" paint-order="stroke" letter-spacing="-0.9">Q4</text>
<path d="M453.6 671.3L453.6 651.9L454.1 651.9L454.1 649.6L454.6 649.6L454.6 671.3L455.1 671.3L455.1 671.3L455.6 671.3L455.6 671.3L456.1 671.3L456.1 671.3L456.6 671.3L456.6 671.3L457.1 671.3L457.1 671.3L457.6 671.3L457.6 669.2L458.1 669.2L458.1 667.7L458.6 667.7L458.6 668.1L459.1 668.1L459.1 668.3L459.6 668.3L459.6 668.2L460.1 668.2L460.1 668.3L460.6 668.3L460.6 667.8L461.1 667.8L461.1 665.8L461.6 665.8L461.6 667.5L462.1 667.5L462.1 666.5L462.6 666.5L462.6 667.3L463.1 667.3L463.1 666.8L463.6 666.8L463.6 665.6L464.1 665.6L464.1 666.5L464.6 666.5L464.6 665.1L465.1 665.1L465.1 663L465.6 663L465.6 664.9L466.1 664.9L466.1 663.2L466.6 663.2L466.6 664.3L467.1 664.3L467.1 664.2L467.6 664.2L467.6 662.9L468.1 662.9L468.1 664.2L468.6 664.2L468.6 663.6L469.1 663.6L469.1 662.6L469.6 662.6L469.6 662.6L470.1 662.6L470.1 662.5L470.6 662.5L470.6 662.3L471.1 662.3L471.1 661.8L471.6 661.8L471.6 661.1L472.1 661.1L472.1 660.7L472.6 660.7L472.6 661.8L473.1 661.8L473.1 661L473.6 661L473.6 657.9L474.1 657.9L474.1 659.1L474.6 659.1L474.6 659.5L475.1 659.5L475.1 659.6L475.6 659.6L475.6 656.6L476.1 656.6L476.1 657.6L476.6 657.6L476.6 656L477.1 656L477.1 655.3L477.6 655.3L477.6 655.2L478.1 655.2L478.1 654.7L478.6 654.7L478.6 653.6L479.1 653.6L479.1 652.5L479.6 652.5L479.6 650.7L480.1 650.7L480.1 649.6L480.6 649.6L480.6 643.9L481.1 643.9L481.1 646.7L481.6 646.7L481.6 642L482.1 642L482.1 641L482.6 641L482.6 639.6L483.1 639.6L483.1 638.5L483.6 638.5L483.6 648.8L484.1 648.8L484.1 645.7L484.6 645.7L484.6 642.2L485.1 642.2L485.1 639.9L485.6 639.9L485.6 639.4L486.1 639.4L486.1 628.2L486.6 628.2L486.6 630.7L487.1 630.7L487.1 626.5L487.6 626.5L487.6 621.3L488.1 621.3L488.1 619.8L488.6 619.8L488.6 610.4L489.1 610.4L489.1 603.8L489.6 603.8L489.6 604.8L490.1 604.8L490.1 597.6L490.6 597.6L490.6 588.6L491.1 588.6L491.1 589.6L491.6 589.6L491.6 589.9L492.1 589.9L492.1 578.4L492.6 578.4L492.6 579.9L493.1 579.9L493.1 577.6L493.6 577.6L493.6 582.2L494.1 582.2L494.1 570.1L494.6 570.1L494.6 571.9L495.1 571.9L495.1 564.4L495.6 564.4L495.6 537.3L496.1 537.3L496.1 570L496.6 570L496.6 550.1L497.1 550.1L497.1 548.1L497.6 548.1L497.6 557L498.1 557L498.1 558.2L498.6 558.2L498.6 575.3L499.1 575.3L499.1 558L499.6 558L499.6 567.1L500.1 567.1L500.1 578L500.6 578L500.6 569.9L501.1 569.9L501.1 574.4L501.6 574.4L501.6 565.1L502.1 565.1L502.1 543.7L502.6 543.7L502.6 558.6L503.1 558.6L503.1 568.8L503.6 568.8L503.6 579.5L504.1 579.5L504.1 578.3L504.6 578.3L504.6 589.3L505.1 589.3L505.1 581.9L505.6 581.9L505.6 591.6L506.1 591.6L506.1 591.5L506.6 591.5L506.6 594.7L507.1 594.7L507.1 598.9L507.6 598.9L507.6 603.8L508.1 603.8L508.1 602.1L508.6 602.1L508.6 603L509.1 603L509.1 619.1L509.6 619.1L509.6 613.2L510.1 613.2L510.1 614.4L510.6 614.4L510.6 616.2L511.1 616.2L511.1 616.9L511.6 616.9L511.6 616.3L512.1 616.3L512.1 619.6L512.6 619.6L512.6 621.7L513.1 621.7L513.1 620L513.6 620L513.6 622.6L514.1 622.6L514.1 625.1L514.6 625.1L514.6 621.6L515.1 621.6L515.1 624.6L515.6 624.6L515.6 631.8L516.1 631.8L516.1 627.8L516.6 627.8L516.6 631.6L517.1 631.6L517.1 632.2L517.6 632.2L517.6 638.4L518.1 638.4L518.1 632.2L518.6 632.2L518.6 638.1L519.1 638.1L519.1 635.1L519.6 635.1L519.6 632.6L520.1 632.6L520.1 636L520.6 636L520.6 636.2L521.1 636.2L521.1 639.9L521.6 639.9L521.6 638.3L522.1 638.3L522.1 637.6L522.6 637.6L522.6 643.4L523.1 643.4L523.1 641.2L523.6 641.2L523.6 637.1L524.1 637.1L524.1 639.8L524.6 639.8L524.6 633.5L525.1 633.5L525.1 635.2L525.6 635.2L525.6 638.5L526.1 638.5L526.1 633.9L526.6 633.9L526.6 631L527.1 631L527.1 632.2L527.6 632.2L527.6 630.5L528.1 630.5L528.1 626.3L528.6 626.3L528.6 626.9L529.1 626.9L529.1 624.3L529.6 624.3L529.6 618.7L530.1 618.7L530.1 617.6L530.6 617.6L530.6 614.6L531.1 614.6L531.1 608.7L531.6 608.7L531.6 600.5L532.1 600.5L532.1 602.6L532.6 602.6L532.6 601.9L533.1 601.9L533.1 582.7L533.6 582.7L533.6 587.9L534.1 587.9L534.1 598.2L534.6 598.2L534.6 587.1L535.1 587.1L535.1 588.6L535.6 588.6L535.6 569.9L536.1 569.9L536.1 578.4L536.6 578.4L536.6 570L537.1 570L537.1 552L537.6 552L537.6 564.4L538.1 564.4L538.1 556.3L538.6 556.3L538.6 548.5L539.1 548.5L539.1 541.4L539.6 541.4L539.6 537L540.1 537L540.1 529.6L540.6 529.6L540.6 544.2L541.1 544.2L541.1 532.6L541.6 532.6L541.6 548.3L542.1 548.3L542.1 530.4L542.6 530.4L542.6 531.6L543.1 531.6L543.1 512.3L543.6 512.3L543.6 524.9L544.1 524.9L544.1 529.2L544.6 529.2L544.6 525.9L545.1 525.9L545.1 533.3L545.6 533.3L545.6 530.4L546.1 530.4L546.1 530.9L546.6 530.9L546.6 526.4L547.1 526.4L547.1 531.7L547.6 531.7L547.6 528.9L548.1 528.9L548.1 509.8L548.6 509.8L548.6 543.4L549.1 543.4L549.1 542.1L549.6 542.1L549.6 548L550.1 548L550.1 525.3L550.6 525.3L550.6 530.5L551.1 530.5L551.1 542.7L551.6 542.7L551.6 550.8L552.1 550.8L552.1 560.8L552.6 560.8L552.6 551.1L553.1 551.1L553.1 560.6L553.6 560.6L553.6 564.3L554.1 564.3L554.1 570.2L554.6 570.2L554.6 590.6L555.1 590.6L555.1 588.4L555.6 588.4L555.6 586.1L556.1 586.1L556.1 585.1L556.6 585.1L556.6 595.1L557.1 595.1L557.1 595.7L557.6 595.7L557.6 599.9L558.1 599.9L558.1 608.5L558.6 608.5L558.6 604L559.1 604L559.1 615.8L559.6 615.8L559.6 618.9L560.1 618.9L560.1 612.9L560.6 612.9L560.6 617.6L561.1 617.6L561.1 623.9L561.6 623.9L561.6 624.4L562.1 624.4L562.1 632.3L562.6 632.3L562.6 633.2L563.1 633.2L563.1 635.7L563.6 635.7L563.6 634.2L564.1 634.2L564.1 639.8L564.6 639.8L564.6 645.2L565.1 645.2L565.1 640.3L565.6 640.3L565.6 649L566.1 649L566.1 648.8L566.6 648.8L566.6 647.9L567.1 647.9L567.1 650.7L567.6 650.7L567.6 653.7L568.1 653.7L568.1 655.6L568.6 655.6L568.6 657.5L569.1 657.5L569.1 658.3L569.6 658.3L569.6 660L570.1 660L570.1 659.2L570.6 659.2L570.6 661.3L571.1 661.3L571.1 661.9L571.6 661.9L571.6 662.1L572.1 662.1L572.1 664.4L572.6 664.4L572.6 664.3L573.1 664.3L573.1 664.4L573.6 664.4L573.6 665.9L574.1 665.9L574.1 664.7L574.6 664.7L574.6 666.6L575.1 666.6L575.1 668.1L575.6 668.1L575.6 667L576.1 667L576.1 669L576.6 669L576.6 668L577.1 668L577.1 669.4L577.6 669.4L577.6 669.9L578.1 669.9L578.1 670.1L578.6 670.1L578.6 670.3L579.1 670.3L579.1 670.6L579.6 670.6L579.6 670.6L580.1 670.6L580.1 670.7L580.6 670.7L580.6 670.8L581.1 670.8L581.1 670.9L581.6 670.9L581.6 671L582.1 671L582.1 671L582.6 671L582.6 671.1L583.1 671.1L583.1 671.1L583.6 671.1L583.6 671.1L584.1 671.1L584.1 671.2L584.6 671.2L584.6 671.2L585.1 671.2L585.1 671.2L585.6 671.2L585.6 671.2L586.1 671.2L586.1 671.3L586.6 671.3L586.6 671.3L587.1 671.3L587.1 671.3L587.6 671.3L587.6 671.3Z" fill="#f05a55" stroke="#e8262b" stroke-width="0.8"/>
<line x1="511" y1="509.8" x2="511" y2="671.3" stroke="#2b2b2b" stroke-width="1.2"/>
<line x1="453.6" y1="646.2" x2="511" y2="646.2" stroke="#4a4a4a" stroke-width="1.1"/>
<rect x="453.6" y="509.8" width="134" height="161.5" fill="none" stroke="#231f20" stroke-width="1.5"/>
<text x="446.6" y="676.2" font-size="15" text-anchor="end" font-weight="normal" fill="#231f20">0</text>
<text x="446.6" y="643.9" font-size="15" text-anchor="end" font-weight="normal" fill="#231f20">25</text>
<text x="446.6" y="611.6" font-size="15" text-anchor="end" font-weight="normal" fill="#231f20">50</text>
<text x="446.6" y="579.3" font-size="15" text-anchor="end" font-weight="normal" fill="#231f20">75</text>
<text x="446.6" y="547" font-size="15" text-anchor="end" font-weight="normal" fill="#231f20">100</text>
<text x="446.6" y="514.7" font-size="15" text-anchor="end" font-weight="normal" fill="#231f20">125</text>
<path d="M448.1 671.3h5.5M450.3 664.8h3.3M450.3 658.4h3.3M450.3 651.9h3.3M450.3 645.5h3.3M448.1 639h5.5M450.3 632.5h3.3M450.3 626.1h3.3M450.3 619.6h3.3M450.3 613.2h3.3M448.1 606.7h5.5M450.3 600.2h3.3M450.3 593.8h3.3M450.3 587.3h3.3M450.3 580.9h3.3M448.1 574.4h5.5M450.3 567.9h3.3M450.3 561.5h3.3M450.3 555h3.3M450.3 548.6h3.3M448.1 542.1h5.5M450.3 535.6h3.3M450.3 529.2h3.3M450.3 522.7h3.3M450.3 516.3h3.3M448.1 509.8h5.5" stroke="#2b2b2b" stroke-width="1.1" fill="none"/>
<path d="M454.5 671.3v3.2M458.7 671.3v3.2M461.9 671.3v3.2M464.6 671.3v3.2M466.9 671.3v3.2M468.8 671.3v3.2M470.6 671.3v3.2M472.1 671.3v5.5M482.3 671.3v3.2M488.2 671.3v3.2M492.4 671.3v3.2M495.7 671.3v3.2M498.4 671.3v3.2M500.6 671.3v3.2M502.6 671.3v3.2M504.3 671.3v3.2M505.9 671.3v5.5M516 671.3v3.2M522 671.3v3.2M526.2 671.3v3.2M529.4 671.3v3.2M532.1 671.3v3.2M534.4 671.3v3.2M536.3 671.3v3.2M538.1 671.3v3.2M539.6 671.3v5.5M549.8 671.3v3.2M555.7 671.3v3.2M559.9 671.3v3.2M563.2 671.3v3.2M565.9 671.3v3.2M568.1 671.3v3.2M570.1 671.3v3.2M571.8 671.3v3.2M573.4 671.3v5.5M583.5 671.3v3.2" stroke="#2b2b2b" stroke-width="1.1" fill="none"/>
<text x="472.1" y="692.1" font-size="14.8" text-anchor="middle" fill="#231f20">10</text>
<text x="479.7" y="686.1" font-size="8.8" fill="#231f20">2</text>
<text x="505.9" y="692.1" font-size="14.8" text-anchor="middle" fill="#231f20">10</text>
<text x="513.5" y="686.1" font-size="8.8" fill="#231f20">3</text>
<text x="539.6" y="692.1" font-size="14.8" text-anchor="middle" fill="#231f20">10</text>
<text x="547.2" y="686.1" font-size="8.8" fill="#231f20">4</text>
<text x="573.4" y="692.1" font-size="14.8" text-anchor="middle" fill="#231f20">10</text>
<text x="581" y="686.1" font-size="8.8" fill="#231f20">5</text>
<text x="416.4" y="590.5" font-size="14.5" text-anchor="middle" font-weight="normal" fill="#231f20" transform="rotate(-90 416.4 590.5)">Count</text>
<text x="520.6" y="710.8" font-size="14.5" text-anchor="middle" font-weight="normal" fill="#231f20">PE-A</text>
<text x="480.9" y="595.5" font-size="9.6" font-weight="bold" text-anchor="middle" fill="#f4f4f4" stroke="#231f20" stroke-width="2.0" stroke-linejoin="round" paint-order="stroke" letter-spacing="-0.9">P2</text>
<path transform="translate(637.8 509.8)" d="M90 1.5h1M72 2.5h1M77 3.5h1M89 5.5h1M98 5.5h1M102 7.5h1M88 8.5h1M105 8.5h1M92 9.5h1M82 11.5h1M90 11.5h1M94 11.5h1M74 12.5h1M85 12.5h1M94 13.5h1M96 13.5h1M76 14.5h1M93 14.5h1M108 14.5h1M113 14.5h1M75 15.5h1M84 16.5h1M90 16.5h1M80 17.5h1M95 17.5h1M76 18.5h1M87 18.5h1M98 18.5h1M120 18.5h1M86 19.5h1M88 19.5h1M91 19.5h1M99 19.5h1M101 19.5h1M109 19.5h1M87 20.5h1M89 20.5h1M95 20.5h1M104 20.5h1M114 20.5h1M74 21.5h1M77 21.5h1M81 21.5h1M98 21.5h1M106 21.5h1M72 22.5h1M90 22.5h1M93 22.5h1M97 22.5h1M100 22.5h5M66 23.5h1M71 23.5h1M82 23.5h1M85 23.5h1M95 23.5h1M97 23.5h4M71 24.5h1M86 24.5h1M91 24.5h1M94 24.5h1M97 24.5h2M103 24.5h1M107 24.5h1M58 25.5h1M67 25.5h2M79 25.5h1M84 25.5h1M91 25.5h4M96 25.5h1M100 25.5h1M102 25.5h1M107 25.5h1M62 26.5h1M83 26.5h1M90 26.5h1M93 26.5h1M95 26.5h2M98 26.5h1M100 26.5h2M103 26.5h2M108 26.5h1M73 27.5h1M83 27.5h1M85 27.5h1M91 27.5h2M94 27.5h1M96 27.5h2M99 27.5h1M101 27.5h2M105 27.5h1M107 27.5h1M109 27.5h1M114 27.5h1M70 28.5h1M73 28.5h2M80 28.5h1M87 28.5h1M91 28.5h2M94 28.5h6M101 28.5h1M103 28.5h1M108 28.5h1M116 28.5h1M53 29.5h1M66 29.5h1M73 29.5h1M76 29.5h1M78 29.5h1M85 29.5h1M87 29.5h1M89 29.5h3M94 29.5h6M102 29.5h3M56 30.5h1M67 30.5h1M72 30.5h1M74 30.5h1M76 30.5h4M81 30.5h1M84 30.5h1M86 30.5h5M92 30.5h6M99 30.5h3M103 30.5h1M105 30.5h2M108 30.5h1M63 31.5h1M69 31.5h1M75 31.5h1M79 31.5h1M81 31.5h2M86 31.5h1M88 31.5h6M95 31.5h4M100 31.5h6M107 31.5h1M109 31.5h1M52 32.5h1M69 32.5h1M74 32.5h1M83 32.5h2M86 32.5h1M88 32.5h7M96 32.5h1M98 32.5h2M101 32.5h8M79 33.5h1M82 33.5h4M87 33.5h2M91 33.5h6M98 33.5h3M102 33.5h4M107 33.5h1M109 33.5h1M115 33.5h1M54 34.5h1M68 34.5h1M72 34.5h1M75 34.5h2M81 34.5h1M84 34.5h3M89 34.5h10M100 34.5h5M107 34.5h1M109 34.5h1M61 35.5h1M83 35.5h1M85 35.5h3M89 35.5h6M96 35.5h3M100 35.5h3M104 35.5h5M58 36.5h1M67 36.5h1M72 36.5h1M77 36.5h3M81 36.5h2M85 36.5h1M87 36.5h18M106 36.5h4M58 37.5h1M60 37.5h1M68 37.5h2M72 37.5h1M76 37.5h1M81 37.5h8M91 37.5h11M103 37.5h4M48 38.5h1M66 38.5h1M75 38.5h6M82 38.5h2M85 38.5h19M105 38.5h1M58 39.5h1M62 39.5h1M69 39.5h1M75 39.5h1M78 39.5h3M83 39.5h13M97 39.5h6M104 39.5h3M109 39.5h1M64 40.5h3M71 40.5h1M73 40.5h1M76 40.5h3M81 40.5h3M85 40.5h16M102 40.5h4M107 40.5h1M117 40.5h1M48 41.5h1M65 41.5h1M67 41.5h2M75 41.5h1M79 41.5h24M104 41.5h3M108 41.5h2M59 42.5h2M62 42.5h1M65 42.5h1M67 42.5h1M74 42.5h1M77 42.5h3M81 42.5h18M101 42.5h6M118 42.5h1M65 43.5h1M68 43.5h2M71 43.5h1M76 43.5h3M80 43.5h10M91 43.5h10M104 43.5h1M108 43.5h1M73 44.5h1M76 44.5h25M102 44.5h1M104 44.5h1M106 44.5h2M44 45.5h1M65 45.5h1M69 45.5h1M72 45.5h2M75 45.5h1M77 45.5h21M99 45.5h5M105 45.5h2M55 46.5h1M65 46.5h1M68 46.5h2M71 46.5h1M73 46.5h3M77 46.5h30M108 46.5h1M69 47.5h1M73 47.5h32M112 47.5h1M55 48.5h1M59 48.5h1M62 48.5h3M68 48.5h1M74 48.5h31M106 48.5h1M110 48.5h1M55 49.5h1M59 49.5h1M68 49.5h1M73 49.5h30M104 49.5h2M125 49.5h1M57 50.5h1M65 50.5h1M67 50.5h2M73 50.5h1M75 50.5h1M78 50.5h2M81 50.5h22M104 50.5h2M114 50.5h1M59 51.5h1M68 51.5h1M71 51.5h1M73 51.5h8M82 51.5h22M107 51.5h1M57 52.5h1M62 52.5h1M64 52.5h1M67 52.5h2M70 52.5h3M74 52.5h26M101 52.5h4M106 52.5h1M56 53.5h1M63 53.5h1M66 53.5h2M69 53.5h1M71 53.5h1M73 53.5h25M99 53.5h1M101 53.5h3M105 53.5h1M51 54.5h1M63 54.5h7M72 54.5h25M98 54.5h2M101 54.5h4M57 55.5h2M62 55.5h1M64 55.5h1M69 55.5h33M111 55.5h1M113 55.5h1M52 56.5h1M54 56.5h1M64 56.5h1M67 56.5h3M71 56.5h1M73 56.5h23M97 56.5h5M103 56.5h1M58 57.5h1M64 57.5h1M69 57.5h1M71 57.5h27M102 57.5h3M57 58.5h1M70 58.5h1M72 58.5h31M59 59.5h1M66 59.5h2M69 59.5h1M71 59.5h3M75 59.5h22M98 59.5h2M103 59.5h2M106 59.5h1M44 60.5h1M55 60.5h1M59 60.5h1M62 60.5h1M69 60.5h26M96 60.5h6M105 60.5h1M54 61.5h1M58 61.5h3M68 61.5h2M71 61.5h29M102 61.5h1M106 61.5h1M54 62.5h2M59 62.5h1M66 62.5h3M70 62.5h28M100 62.5h1M102 62.5h1M112 62.5h1M33 63.5h1M48 63.5h1M61 63.5h1M63 63.5h2M66 63.5h1M68 63.5h32M40 64.5h1M52 64.5h1M65 64.5h2M68 64.5h30M101 64.5h2M56 65.5h1M59 65.5h1M61 65.5h3M65 65.5h1M67 65.5h2M70 65.5h2M73 65.5h23M97 65.5h1M99 65.5h2M59 66.5h2M67 66.5h27M95 66.5h3M58 67.5h1M60 67.5h36M97 67.5h1M106 67.5h1M51 68.5h1M61 68.5h1M64 68.5h1M66 68.5h1M68 68.5h2M71 68.5h27M101 68.5h1M109 68.5h1M51 69.5h1M54 69.5h1M56 69.5h1M61 69.5h1M63 69.5h1M67 69.5h1M69 69.5h28M98 69.5h1M101 69.5h1M103 69.5h1M63 70.5h3M68 70.5h4M73 70.5h11M85 70.5h6M92 70.5h4M98 70.5h1M100 70.5h1M55 71.5h2M61 71.5h1M65 71.5h7M73 71.5h24M100 71.5h1M116 71.5h1M56 72.5h1M58 72.5h2M65 72.5h29M95 72.5h1M61 73.5h1M63 73.5h1M65 73.5h23M89 73.5h3M94 73.5h2M49 74.5h1M56 74.5h3M64 74.5h1M67 74.5h26M104 74.5h1M60 75.5h4M65 75.5h1M67 75.5h1M69 75.5h3M73 75.5h18M92 75.5h2M46 76.5h1M58 76.5h1M61 76.5h1M63 76.5h6M70 76.5h3M74 76.5h14M92 76.5h2M96 76.5h2M54 77.5h1M59 77.5h1M61 77.5h1M64 77.5h2M68 77.5h18M89 77.5h1M91 77.5h4M96 77.5h1M44 78.5h1M49 78.5h1M56 78.5h1M61 78.5h2M65 78.5h1M68 78.5h6M75 78.5h5M81 78.5h10M92 78.5h1M58 79.5h1M62 79.5h1M65 79.5h2M68 79.5h1M70 79.5h1M72 79.5h11M84 79.5h1M86 79.5h4M91 79.5h1M100 79.5h1M54 80.5h1M56 80.5h2M63 80.5h2M66 80.5h1M68 80.5h3M72 80.5h3M76 80.5h1M78 80.5h2M81 80.5h2M84 80.5h1M86 80.5h4M93 80.5h1M96 80.5h1M99 80.5h1M55 81.5h1M57 81.5h1M60 81.5h1M63 81.5h2M66 81.5h4M71 81.5h1M73 81.5h2M76 81.5h3M80 81.5h1M83 81.5h5M90 81.5h1M49 82.5h1M52 82.5h1M54 82.5h1M63 82.5h1M67 82.5h3M71 82.5h4M78 82.5h2M81 82.5h2M86 82.5h3M91 82.5h2M106 82.5h1M46 83.5h1M50 83.5h1M57 83.5h3M62 83.5h1M64 83.5h1M68 83.5h3M72 83.5h2M75 83.5h1M78 83.5h6M85 83.5h3M94 83.5h1M51 84.5h1M56 84.5h1M58 84.5h2M62 84.5h1M67 84.5h4M72 84.5h3M76 84.5h1M78 84.5h9M88 84.5h1M90 84.5h1M93 84.5h2M53 85.5h1M59 85.5h1M66 85.5h3M71 85.5h2M74 85.5h5M80 85.5h2M83 85.5h2M92 85.5h1M96 85.5h1M62 86.5h1M64 86.5h1M66 86.5h2M69 86.5h3M73 86.5h8M82 86.5h1M89 86.5h2M53 87.5h1M57 87.5h1M69 87.5h4M76 87.5h5M84 87.5h1M86 87.5h1M92 87.5h1M98 87.5h1M56 88.5h1M61 88.5h4M67 88.5h2M70 88.5h1M73 88.5h1M77 88.5h1M79 88.5h2M87 88.5h3M91 88.5h2M100 88.5h1M54 89.5h2M60 89.5h1M63 89.5h1M65 89.5h1M68 89.5h1M71 89.5h4M76 89.5h1M79 89.5h1M85 89.5h1M88 89.5h1M93 89.5h4M99 89.5h1M49 90.5h1M76 90.5h1M80 90.5h2M86 90.5h1M90 90.5h3M94 90.5h3M44 91.5h1M52 91.5h1M56 91.5h1M69 91.5h1M72 91.5h3M76 91.5h1M78 91.5h1M84 91.5h3M88 91.5h1M90 91.5h1M93 91.5h1M95 91.5h2M99 91.5h2M57 92.5h2M65 92.5h1M69 92.5h2M74 92.5h1M80 92.5h2M83 92.5h1M85 92.5h7M93 92.5h1M95 92.5h4M100 92.5h1M69 93.5h1M71 93.5h1M76 93.5h1M80 93.5h2M85 93.5h1M87 93.5h7M95 93.5h2M98 93.5h1M101 93.5h1M25 94.5h1M41 94.5h1M59 94.5h2M66 94.5h1M74 94.5h1M76 94.5h2M81 94.5h1M84 94.5h1M86 94.5h10M97 94.5h1M49 95.5h1M60 95.5h2M64 95.5h1M68 95.5h1M72 95.5h1M75 95.5h1M78 95.5h4M85 95.5h7M93 95.5h1M95 95.5h1M97 95.5h2M103 95.5h1M105 95.5h1M65 96.5h1M69 96.5h1M74 96.5h1M81 96.5h11M93 96.5h5M50 97.5h1M65 97.5h2M73 97.5h1M80 97.5h16M97 97.5h1M104 97.5h1M44 98.5h1M59 98.5h1M64 98.5h1M72 98.5h2M76 98.5h1M78 98.5h1M80 98.5h3M84 98.5h8M93 98.5h3M98 98.5h3M48 99.5h1M57 99.5h1M71 99.5h1M75 99.5h1M77 99.5h21M64 100.5h1M66 100.5h3M71 100.5h4M78 100.5h3M82 100.5h16M71 101.5h1M74 101.5h1M77 101.5h1M79 101.5h13M95 101.5h3M99 101.5h2M43 102.5h1M56 102.5h1M58 102.5h1M71 102.5h1M77 102.5h2M80 102.5h3M84 102.5h13M99 102.5h1M61 103.5h2M65 103.5h1M68 103.5h1M72 103.5h1M76 103.5h1M78 103.5h8M87 103.5h8M98 103.5h1M100 103.5h1M65 104.5h1M67 104.5h2M73 104.5h2M76 104.5h1M79 104.5h13M93 104.5h2M97 104.5h1M69 105.5h1M73 105.5h18M92 105.5h2M98 105.5h1M71 106.5h2M74 106.5h3M78 106.5h17M72 107.5h16M90 107.5h1M92 107.5h1M94 107.5h1M65 108.5h1M68 108.5h1M70 108.5h1M72 108.5h20M20 109.5h1M54 109.5h1M56 109.5h1M70 109.5h3M74 109.5h1M76 109.5h15M20 110.5h1M55 110.5h1M68 110.5h1M71 110.5h17M89 110.5h4M94 110.5h1M35 111.5h1M49 111.5h1M68 111.5h1M70 111.5h1M72 111.5h17M90 111.5h2M93 111.5h1M44 112.5h1M56 112.5h1M60 112.5h1M66 112.5h1M68 112.5h8M77 112.5h7M85 112.5h2M89 112.5h2M93 112.5h1M44 113.5h1M66 113.5h2M69 113.5h1M71 113.5h9M81 113.5h9M65 114.5h1M69 114.5h17M87 114.5h1M90 114.5h1M64 115.5h1M66 115.5h6M73 115.5h8M82 115.5h2M86 115.5h2M58 116.5h1M62 116.5h2M65 116.5h1M67 116.5h2M70 116.5h9M80 116.5h2M83 116.5h3M45 117.5h1M59 117.5h1M62 117.5h1M65 117.5h1M67 117.5h2M70 117.5h17M88 117.5h1M64 118.5h18M85 118.5h1M88 118.5h1M90 118.5h1M60 119.5h2M63 119.5h4M68 119.5h12M81 119.5h1M85 119.5h4M54 120.5h1M58 120.5h1M61 120.5h2M65 120.5h3M69 120.5h8M78 120.5h4M53 121.5h1M61 121.5h15M77 121.5h2M80 121.5h1M84 121.5h2M89 121.5h1M57 122.5h4M62 122.5h7M70 122.5h5M76 122.5h4M87 122.5h1M57 123.5h1M60 123.5h1M62 123.5h16M79 123.5h1M81 123.5h1M27 124.5h1M47 124.5h1M60 124.5h1M63 124.5h10M74 124.5h4M80 124.5h1M85 124.5h1M55 125.5h1M58 125.5h1M60 125.5h2M63 125.5h12M76 125.5h3M80 125.5h2M83 125.5h1M56 126.5h1M59 126.5h1M61 126.5h16M60 127.5h14M75 127.5h2M57 128.5h10M68 128.5h8M77 128.5h2M54 129.5h1M61 129.5h13M76 129.5h1M80 129.5h1M83 129.5h1M60 130.5h1M62 130.5h12M75 130.5h1M78 130.5h1M45 131.5h1M58 131.5h2M61 131.5h12M74 131.5h1M51 132.5h1M55 132.5h1M57 132.5h1M60 132.5h4M65 132.5h5M71 132.5h3M75 132.5h1M48 133.5h1M58 133.5h1M60 133.5h3M64 133.5h7M72 133.5h3M78 133.5h1M43 134.5h1M49 134.5h1M55 134.5h3M60 134.5h1M62 134.5h9M76 134.5h1M51 135.5h1M56 135.5h1M59 135.5h4M64 135.5h1M67 135.5h1M69 135.5h1M50 136.5h1M53 136.5h1M56 136.5h7M64 136.5h3M69 136.5h1M56 137.5h1M59 137.5h2M63 137.5h4M69 137.5h1M71 137.5h1M73 137.5h1M55 138.5h2M60 138.5h1M62 138.5h3M66 138.5h1M70 138.5h1M53 139.5h1M58 139.5h1M60 139.5h4M66 139.5h1M68 139.5h2M55 140.5h2M59 140.5h1M61 140.5h3M65 140.5h1M49 141.5h1M56 141.5h3M61 141.5h2M64 141.5h2M68 141.5h1M51 142.5h1M54 142.5h1M56 142.5h2M59 142.5h2M62 142.5h1M72 142.5h1M49 143.5h2M54 143.5h1M56 143.5h1M58 143.5h3M64 143.5h1M49 144.5h1M52 144.5h2M57 144.5h2M65 144.5h1M41 145.5h1M51 145.5h1M53 145.5h2M56 145.5h2M60 145.5h1M46 146.5h1M52 146.5h1M55 146.5h2M62 146.5h3M66 146.5h1M42 147.5h2M51 147.5h4M56 147.5h2M60 147.5h2M64 147.5h1M45 148.5h1M53 148.5h1M57 148.5h1M61 148.5h1M63 148.5h2M53 149.5h3M57 149.5h1M59 149.5h1M51 150.5h2M54 150.5h2M59 150.5h1M62 150.5h1M64 150.5h1M51 151.5h2M54 151.5h1M56 151.5h4M62 151.5h1M69 151.5h1M46 152.5h2M51 152.5h3M55 152.5h4M69 152.5h1M48 153.5h1M52 153.5h2M57 153.5h2M47 154.5h1M50 154.5h1M52 154.5h1M54 154.5h1M57 154.5h2M47 155.5h1M50 155.5h1M52 155.5h1M54 155.5h1M58 155.5h1M61 155.5h1M52 156.5h2M55 156.5h2M58 156.5h2M53 157.5h1M56 157.5h2M59 157.5h1M66 157.5h1M71 157.5h1M51 158.5h2M54 158.5h1M51 159.5h1M54 159.5h1M57 159.5h2M61 159.5h1M45 160.5h1M53 160.5h1" stroke="#ee3535" stroke-width="1.3" fill="none"/>
<line x1="680.1" y1="509.8" x2="680.1" y2="671.3" stroke="#2b2b2b" stroke-width="1.2"/>
<line x1="637.8" y1="600.1" x2="771.8" y2="600.1" stroke="#2b2b2b" stroke-width="1.2"/>
<rect x="637.8" y="509.8" width="134" height="161.5" fill="none" stroke="#231f20" stroke-width="1.5"/>
<path d="M634.8 669.7h3M634.8 664.6h3M634.8 660.7h3M634.8 657.5h3M634.8 654.8h3M634.8 652.5h3M634.8 650.5h3M632.6 648.6h5.2M634.8 636.5h3M634.8 629.4h3M634.8 624.4h3M634.8 620.5h3M634.8 617.3h3M634.8 614.6h3M634.8 612.2h3M634.8 610.2h3M632.6 608.3h5.2M634.8 596.2h3M634.8 589.1h3M634.8 584.1h3M634.8 580.2h3M634.8 577h3M634.8 574.3h3M634.8 572h3M634.8 569.9h3M632.6 568.1h5.2M634.8 555.9h3M634.8 548.9h3M634.8 543.8h3M634.8 539.9h3M634.8 536.7h3M634.8 534h3M634.8 531.7h3M634.8 529.6h3M632.6 527.8h5.2M634.8 515.7h3" stroke="#2b2b2b" stroke-width="1.1" fill="none"/>
<text x="627.7" y="653.4" font-size="14.8" text-anchor="end" fill="#231f20">10</text>
<text x="627.1" y="647.4" font-size="8.8" fill="#231f20">2</text>
<text x="627.7" y="613.1" font-size="14.8" text-anchor="end" fill="#231f20">10</text>
<text x="627.1" y="607.1" font-size="8.8" fill="#231f20">3</text>
<text x="627.7" y="572.9" font-size="14.8" text-anchor="end" fill="#231f20">10</text>
<text x="627.1" y="566.9" font-size="8.8" fill="#231f20">4</text>
<text x="627.7" y="532.6" font-size="14.8" text-anchor="end" fill="#231f20">10</text>
<text x="627.1" y="526.6" font-size="8.8" fill="#231f20">5</text>
<path d="M638.7 671.3v3.2M642.9 671.3v3.2M646.1 671.3v3.2M648.8 671.3v3.2M651.1 671.3v3.2M653 671.3v3.2M654.8 671.3v3.2M656.3 671.3v5.5M666.5 671.3v3.2M672.4 671.3v3.2M676.6 671.3v3.2M679.9 671.3v3.2M682.6 671.3v3.2M684.8 671.3v3.2M686.8 671.3v3.2M688.5 671.3v3.2M690 671.3v5.5M700.2 671.3v3.2M706.2 671.3v3.2M710.4 671.3v3.2M713.6 671.3v3.2M716.3 671.3v3.2M718.6 671.3v3.2M720.5 671.3v3.2M722.3 671.3v3.2M723.8 671.3v5.5M734 671.3v3.2M739.9 671.3v3.2M744.1 671.3v3.2M747.4 671.3v3.2M750.1 671.3v3.2M752.3 671.3v3.2M754.3 671.3v3.2M756 671.3v3.2M757.5 671.3v5.5M767.7 671.3v3.2" stroke="#2b2b2b" stroke-width="1.1" fill="none"/>
<text x="656.3" y="692.1" font-size="14.8" text-anchor="middle" fill="#231f20">10</text>
<text x="663.9" y="686.1" font-size="8.8" fill="#231f20">2</text>
<text x="690" y="692.1" font-size="14.8" text-anchor="middle" fill="#231f20">10</text>
<text x="697.7" y="686.1" font-size="8.8" fill="#231f20">3</text>
<text x="723.8" y="692.1" font-size="14.8" text-anchor="middle" fill="#231f20">10</text>
<text x="731.4" y="686.1" font-size="8.8" fill="#231f20">4</text>
<text x="757.5" y="692.1" font-size="14.8" text-anchor="middle" fill="#231f20">10</text>
<text x="765.2" y="686.1" font-size="8.8" fill="#231f20">5</text>
<text x="606.6" y="590.5" font-size="14.5" text-anchor="middle" font-weight="normal" fill="#231f20" transform="rotate(-90 606.6 590.5)">PE-A</text>
<text x="704.8" y="710.8" font-size="14.5" text-anchor="middle" font-weight="normal" fill="#231f20">FITC-A</text>
<text x="650.1" y="581.2" font-size="9.6" font-weight="bold" text-anchor="middle" fill="#f4f4f4" stroke="#231f20" stroke-width="2.0" stroke-linejoin="round" paint-order="stroke" letter-spacing="-0.9">Q1</text>
<text x="706.4" y="581.2" font-size="9.6" font-weight="bold" text-anchor="middle" fill="#f4f4f4" stroke="#231f20" stroke-width="2.0" stroke-linejoin="round" paint-order="stroke" letter-spacing="-0.9">Q2</text>
<text x="650.1" y="630.9" font-size="9.6" font-weight="bold" text-anchor="middle" fill="#f4f4f4" stroke="#231f20" stroke-width="2.0" stroke-linejoin="round" paint-order="stroke" letter-spacing="-0.9">Q3</text>
<text x="706.4" y="630.9" font-size="9.6" font-weight="bold" text-anchor="middle" fill="#f4f4f4" stroke="#231f20" stroke-width="2.0" stroke-linejoin="round" paint-order="stroke" letter-spacing="-0.9">Q4</text>
<path d="M55.6 909.2L55.6 810.5L56.1 810.5L56.1 813.2L56.6 813.2L56.6 900L57.1 900L57.1 898.7L57.6 898.7L57.6 899.6L58.1 899.6L58.1 900.7L58.6 900.7L58.6 898.1L59.1 898.1L59.1 898.8L59.6 898.8L59.6 898.3L60.1 898.3L60.1 898.4L60.6 898.4L60.6 898.1L61.1 898.1L61.1 895.8L61.6 895.8L61.6 893.8L62.1 893.8L62.1 894.2L62.6 894.2L62.6 892.2L63.1 892.2L63.1 889.5L63.6 889.5L63.6 889.3L64.1 889.3L64.1 889.2L64.6 889.2L64.6 888.9L65.1 888.9L65.1 884.9L65.6 884.9L65.6 884.1L66.1 884.1L66.1 880L66.6 880L66.6 879.6L67.1 879.6L67.1 873.3L67.6 873.3L67.6 881.5L68.1 881.5L68.1 879L68.6 879L68.6 876.6L69.1 876.6L69.1 874.4L69.6 874.4L69.6 870.7L70.1 870.7L70.1 865.8L70.6 865.8L70.6 867.5L71.1 867.5L71.1 865.4L71.6 865.4L71.6 850.6L72.1 850.6L72.1 856.2L72.6 856.2L72.6 851.8L73.1 851.8L73.1 855.7L73.6 855.7L73.6 846.8L74.1 846.8L74.1 841.3L74.6 841.3L74.6 838.2L75.1 838.2L75.1 835.1L75.6 835.1L75.6 829.7L76.1 829.7L76.1 825L76.6 825L76.6 819.5L77.1 819.5L77.1 829.1L77.6 829.1L77.6 826L78.1 826L78.1 814.9L78.6 814.9L78.6 813.4L79.1 813.4L79.1 817.9L79.6 817.9L79.6 820.1L80.1 820.1L80.1 815.1L80.6 815.1L80.6 808.9L81.1 808.9L81.1 788.1L81.6 788.1L81.6 802L82.1 802L82.1 803L82.6 803L82.6 815.1L83.1 815.1L83.1 797.9L83.6 797.9L83.6 805.9L84.1 805.9L84.1 810L84.6 810L84.6 813L85.1 813L85.1 810.2L85.6 810.2L85.6 818.8L86.1 818.8L86.1 820L86.6 820L86.6 819.9L87.1 819.9L87.1 816.5L87.6 816.5L87.6 833.6L88.1 833.6L88.1 823.5L88.6 823.5L88.6 841.7L89.1 841.7L89.1 836.1L89.6 836.1L89.6 836.4L90.1 836.4L90.1 837.4L90.6 837.4L90.6 849.5L91.1 849.5L91.1 843.5L91.6 843.5L91.6 846.6L92.1 846.6L92.1 855L92.6 855L92.6 858.3L93.1 858.3L93.1 861.2L93.6 861.2L93.6 850.4L94.1 850.4L94.1 838.7L94.6 838.7L94.6 848.6L95.1 848.6L95.1 856.9L95.6 856.9L95.6 854.1L96.1 854.1L96.1 856.9L96.6 856.9L96.6 860.8L97.1 860.8L97.1 862.5L97.6 862.5L97.6 863.7L98.1 863.7L98.1 867.4L98.6 867.4L98.6 871.4L99.1 871.4L99.1 868.4L99.6 868.4L99.6 872.5L100.1 872.5L100.1 876.3L100.6 876.3L100.6 873.5L101.1 873.5L101.1 880.4L101.6 880.4L101.6 880.9L102.1 880.9L102.1 878.7L102.6 878.7L102.6 880.2L103.1 880.2L103.1 882L103.6 882L103.6 883.7L104.1 883.7L104.1 884.3L104.6 884.3L104.6 886.5L105.1 886.5L105.1 886.6L105.6 886.6L105.6 886.2L106.1 886.2L106.1 883.8L106.6 883.8L106.6 887.4L107.1 887.4L107.1 886L107.6 886L107.6 890.1L108.1 890.1L108.1 889.3L108.6 889.3L108.6 890.5L109.1 890.5L109.1 885.7L109.6 885.7L109.6 889.7L110.1 889.7L110.1 889.2L110.6 889.2L110.6 889.9L111.1 889.9L111.1 890.3L111.6 890.3L111.6 891.8L112.1 891.8L112.1 889.8L112.6 889.8L112.6 889.3L113.1 889.3L113.1 889.5L113.6 889.5L113.6 886.6L114.1 886.6L114.1 890L114.6 890L114.6 889.6L115.1 889.6L115.1 889L115.6 889L115.6 888.7L116.1 888.7L116.1 891.6L116.6 891.6L116.6 887.4L117.1 887.4L117.1 889.2L117.6 889.2L117.6 885.1L118.1 885.1L118.1 885.9L118.6 885.9L118.6 887.3L119.1 887.3L119.1 888.3L119.6 888.3L119.6 887.1L120.1 887.1L120.1 886.5L120.6 886.5L120.6 885.8L121.1 885.8L121.1 883.9L121.6 883.9L121.6 879.9L122.1 879.9L122.1 884.4L122.6 884.4L122.6 881.4L123.1 881.4L123.1 878.4L123.6 878.4L123.6 892.1L124.1 892.1L124.1 888.9L124.6 888.9L124.6 888L125.1 888L125.1 883L125.6 883L125.6 880.6L126.1 880.6L126.1 877.6L126.6 877.6L126.6 870.8L127.1 870.8L127.1 873.2L127.6 873.2L127.6 866.3L128.1 866.3L128.1 860.9L128.6 860.9L128.6 855.2L129.1 855.2L129.1 848.3L129.6 848.3L129.6 849.7L130.1 849.7L130.1 842.8L130.6 842.8L130.6 833.2L131.1 833.2L131.1 824.3L131.6 824.3L131.6 827.9L132.1 827.9L132.1 815.9L132.6 815.9L132.6 813.2L133.1 813.2L133.1 811.3L133.6 811.3L133.6 800.1L134.1 800.1L134.1 804.4L134.6 804.4L134.6 793.1L135.1 793.1L135.1 787.2L135.6 787.2L135.6 766.3L136.1 766.3L136.1 785.9L136.6 785.9L136.6 770.4L137.1 770.4L137.1 769.6L137.6 769.6L137.6 770.4L138.1 770.4L138.1 770.4L138.6 770.4L138.6 751.1L139.1 751.1L139.1 769.7L139.6 769.7L139.6 747.7L140.1 747.7L140.1 764.5L140.6 764.5L140.6 758.3L141.1 758.3L141.1 758.3L141.6 758.3L141.6 778.1L142.1 778.1L142.1 775.4L142.6 775.4L142.6 772.4L143.1 772.4L143.1 772.4L143.6 772.4L143.6 788.5L144.1 788.5L144.1 778.6L144.6 778.6L144.6 778.2L145.1 778.2L145.1 790.3L145.6 790.3L145.6 793.6L146.1 793.6L146.1 808L146.6 808L146.6 798.8L147.1 798.8L147.1 799.9L147.6 799.9L147.6 800.3L148.1 800.3L148.1 819.8L148.6 819.8L148.6 816.2L149.1 816.2L149.1 834.1L149.6 834.1L149.6 835L150.1 835L150.1 841.6L150.6 841.6L150.6 853.1L151.1 853.1L151.1 854.4L151.6 854.4L151.6 856.4L152.1 856.4L152.1 860.1L152.6 860.1L152.6 866L153.1 866L153.1 869.5L153.6 869.5L153.6 871.1L154.1 871.1L154.1 873.8L154.6 873.8L154.6 883.9L155.1 883.9L155.1 884L155.6 884L155.6 886.2L156.1 886.2L156.1 891.7L156.6 891.7L156.6 889.5L157.1 889.5L157.1 891.5L157.6 891.5L157.6 896.1L158.1 896.1L158.1 898.4L158.6 898.4L158.6 898.4L159.1 898.4L159.1 899L159.6 899L159.6 899.1L160.1 899.1L160.1 900.6L160.6 900.6L160.6 901.8L161.1 901.8L161.1 901.5L161.6 901.5L161.6 903L162.1 903L162.1 905.2L162.6 905.2L162.6 905.7L163.1 905.7L163.1 906.3L163.6 906.3L163.6 906.3L164.1 906.3L164.1 905.9L164.6 905.9L164.6 907.6L165.1 907.6L165.1 907.8L165.6 907.8L165.6 908.1L166.1 908.1L166.1 908.4L166.6 908.4L166.6 908.5L167.1 908.5L167.1 908.6L167.6 908.6L167.6 908.7L168.1 908.7L168.1 908.8L168.6 908.8L168.6 908.9L169.1 908.9L169.1 909L169.6 909L169.6 909L170.1 909L170.1 909L170.6 909L170.6 909.1L171.1 909.1L171.1 909.1L171.6 909.1L171.6 909.1L172.1 909.1L172.1 909.1L172.6 909.1L172.6 909.1L173.1 909.1L173.1 909.2L173.6 909.2L173.6 909.2L174.1 909.2L174.1 909.2L174.6 909.2L174.6 909.2L175.1 909.2L175.1 909.2L175.6 909.2L175.6 909.2L176.1 909.2L176.1 909.2L176.6 909.2L176.6 909.2L177.1 909.2L177.1 909.2L177.6 909.2L177.6 909.2L178.1 909.2L178.1 909.2L178.6 909.2L178.6 909.2L179.1 909.2L179.1 909.2L179.6 909.2L179.6 909.2L180.1 909.2L180.1 909.2L180.6 909.2L180.6 909.2L181.1 909.2L181.1 909.2L181.6 909.2L181.6 909.2L182.1 909.2L182.1 909.2L182.6 909.2L182.6 909.2L183.1 909.2L183.1 909.2L183.6 909.2L183.6 909.2L184.1 909.2L184.1 909.2L184.6 909.2L184.6 909.2L185.1 909.2L185.1 909.2L185.6 909.2L185.6 909.2L186.1 909.2L186.1 909.2L186.6 909.2L186.6 909.2L187.1 909.2L187.1 909.2L187.6 909.2L187.6 909.2L188.1 909.2L188.1 909.2L188.6 909.2L188.6 909.2L189.1 909.2L189.1 909.2L189.6 909.2L189.6 909.2Z" fill="#f05a55" stroke="#e8262b" stroke-width="0.8"/>
<line x1="113" y1="747.7" x2="113" y2="909.2" stroke="#2b2b2b" stroke-width="1.2"/>
<line x1="55.6" y1="885.4" x2="113" y2="885.4" stroke="#4a4a4a" stroke-width="1.1"/>
<rect x="55.6" y="747.7" width="134" height="161.5" fill="none" stroke="#231f20" stroke-width="1.5"/>
<text x="48.6" y="914.1" font-size="15" text-anchor="end" font-weight="normal" fill="#231f20">0</text>
<text x="48.6" y="860.3" font-size="15" text-anchor="end" font-weight="normal" fill="#231f20">50</text>
<text x="48.6" y="806.4" font-size="15" text-anchor="end" font-weight="normal" fill="#231f20">100</text>
<text x="48.6" y="752.6" font-size="15" text-anchor="end" font-weight="normal" fill="#231f20">150</text>
<path d="M50.1 909.2h5.5M52.3 898.4h3.3M52.3 887.7h3.3M52.3 876.9h3.3M52.3 866.1h3.3M50.1 855.4h5.5M52.3 844.6h3.3M52.3 833.8h3.3M52.3 823.1h3.3M52.3 812.3h3.3M50.1 801.5h5.5M52.3 790.8h3.3M52.3 780h3.3M52.3 769.2h3.3M52.3 758.5h3.3M50.1 747.7h5.5" stroke="#2b2b2b" stroke-width="1.1" fill="none"/>
<path d="M56.5 909.2v3.2M60.7 909.2v3.2M63.9 909.2v3.2M66.6 909.2v3.2M68.9 909.2v3.2M70.8 909.2v3.2M72.6 909.2v3.2M74.1 909.2v5.5M84.3 909.2v3.2M90.2 909.2v3.2M94.4 909.2v3.2M97.7 909.2v3.2M100.4 909.2v3.2M102.6 909.2v3.2M104.6 909.2v3.2M106.3 909.2v3.2M107.8 909.2v5.5M118 909.2v3.2M124 909.2v3.2M128.2 909.2v3.2M131.4 909.2v3.2M134.1 909.2v3.2M136.4 909.2v3.2M138.3 909.2v3.2M140.1 909.2v3.2M141.6 909.2v5.5M151.8 909.2v3.2M157.7 909.2v3.2M161.9 909.2v3.2M165.2 909.2v3.2M167.9 909.2v3.2M170.1 909.2v3.2M172.1 909.2v3.2M173.8 909.2v3.2M175.3 909.2v5.5M185.5 909.2v3.2" stroke="#2b2b2b" stroke-width="1.1" fill="none"/>
<text x="74.1" y="930" font-size="14.8" text-anchor="middle" fill="#231f20">10</text>
<text x="81.7" y="924" font-size="8.8" fill="#231f20">2</text>
<text x="107.8" y="930" font-size="14.8" text-anchor="middle" fill="#231f20">10</text>
<text x="115.5" y="924" font-size="8.8" fill="#231f20">3</text>
<text x="141.6" y="930" font-size="14.8" text-anchor="middle" fill="#231f20">10</text>
<text x="149.2" y="924" font-size="8.8" fill="#231f20">4</text>
<text x="175.3" y="930" font-size="14.8" text-anchor="middle" fill="#231f20">10</text>
<text x="183" y="924" font-size="8.8" fill="#231f20">5</text>
<text x="18.4" y="828.5" font-size="14.5" text-anchor="middle" font-weight="normal" fill="#231f20" transform="rotate(-90 18.4 828.5)">Count</text>
<text x="122.6" y="948.7" font-size="14.5" text-anchor="middle" font-weight="normal" fill="#231f20">PE-A</text>
<text x="82.9" y="833.4" font-size="9.6" font-weight="bold" text-anchor="middle" fill="#f4f4f4" stroke="#231f20" stroke-width="2.0" stroke-linejoin="round" paint-order="stroke" letter-spacing="-0.9">P2</text>
<path transform="translate(240.4 747.7)" d="M96 26.5h1M103 26.5h1M90 34.5h1M70 35.5h1M88 35.5h2M91 35.5h1M95 35.5h2M98 35.5h1M81 36.5h1M86 36.5h1M88 36.5h2M91 36.5h3M95 36.5h1M100 36.5h1M83 37.5h2M86 37.5h1M90 37.5h1M92 37.5h2M95 37.5h1M98 37.5h2M84 38.5h1M86 38.5h3M90 38.5h1M92 38.5h1M95 38.5h1M60 39.5h1M81 39.5h2M86 39.5h2M92 39.5h3M97 39.5h1M107 39.5h1M59 40.5h1M61 40.5h1M64 40.5h1M78 40.5h2M84 40.5h5M90 40.5h4M95 40.5h2M98 40.5h1M77 41.5h2M80 41.5h2M83 41.5h1M85 41.5h2M88 41.5h1M90 41.5h6M98 41.5h2M72 42.5h1M76 42.5h5M82 42.5h1M84 42.5h2M87 42.5h5M93 42.5h6M67 43.5h1M74 43.5h2M77 43.5h2M80 43.5h16M97 43.5h1M74 44.5h3M78 44.5h10M89 44.5h5M96 44.5h4M101 44.5h1M63 45.5h1M70 45.5h1M72 45.5h2M75 45.5h4M81 45.5h16M98 45.5h1M101 45.5h1M69 46.5h3M73 46.5h1M75 46.5h24M67 47.5h27M97 47.5h1M99 47.5h1M70 48.5h3M74 48.5h19M96 48.5h3M104 48.5h1M61 49.5h1M65 49.5h1M69 49.5h21M91 49.5h4M96 49.5h2M100 49.5h1M54 50.5h1M60 50.5h1M65 50.5h27M94 50.5h1M96 50.5h2M51 51.5h1M54 51.5h1M64 51.5h29M94 51.5h4M44 52.5h1M61 52.5h1M63 52.5h34M61 53.5h2M64 53.5h27M92 53.5h1M94 53.5h1M96 53.5h2M60 54.5h2M63 54.5h31M95 54.5h1M108 54.5h1M59 55.5h1M61 55.5h29M91 55.5h4M55 56.5h1M61 56.5h5M67 56.5h24M92 56.5h3M49 57.5h2M58 57.5h1M60 57.5h1M62 57.5h2M66 57.5h26M57 58.5h1M59 58.5h29M89 58.5h2M92 58.5h2M102 58.5h1M51 59.5h1M56 59.5h1M58 59.5h2M61 59.5h6M68 59.5h20M89 59.5h1M92 59.5h1M46 60.5h1M56 60.5h2M59 60.5h27M87 60.5h2M90 60.5h2M93 60.5h1M56 61.5h6M63 61.5h23M87 61.5h1M89 61.5h1M91 61.5h1M55 62.5h1M58 62.5h27M86 62.5h1M90 62.5h1M53 63.5h36M51 64.5h3M56 64.5h31M90 64.5h1M92 64.5h1M41 65.5h1M54 65.5h30M85 65.5h3M94 65.5h1M46 66.5h2M52 66.5h1M54 66.5h30M87 66.5h2M53 67.5h31M85 67.5h1M95 67.5h1M36 68.5h1M43 68.5h1M49 68.5h2M53 68.5h1M55 68.5h25M81 68.5h2M84 68.5h1M87 68.5h1M90 68.5h1M48 69.5h2M51 69.5h25M77 69.5h3M81 69.5h3M91 69.5h1M43 70.5h1M52 70.5h2M55 70.5h24M81 70.5h2M44 71.5h1M46 71.5h2M53 71.5h6M60 71.5h18M79 71.5h2M88 71.5h1M96 71.5h1M50 72.5h16M67 72.5h14M83 72.5h1M39 73.5h1M43 73.5h1M45 73.5h1M50 73.5h1M52 73.5h27M47 74.5h3M52 74.5h24M77 74.5h1M80 74.5h1M85 74.5h1M50 75.5h20M71 75.5h6M79 75.5h1M85 75.5h1M40 76.5h2M48 76.5h1M50 76.5h7M58 76.5h2M61 76.5h1M63 76.5h1M65 76.5h10M76 76.5h2M46 77.5h1M50 77.5h7M58 77.5h14M73 77.5h1M75 77.5h1M77 77.5h2M84 77.5h1M37 78.5h1M44 78.5h1M46 78.5h1M49 78.5h2M52 78.5h2M55 78.5h2M58 78.5h3M62 78.5h2M66 78.5h5M78 78.5h1M86 78.5h1M46 79.5h2M49 79.5h2M52 79.5h2M55 79.5h4M60 79.5h5M67 79.5h1M70 79.5h1M72 79.5h3M76 79.5h1M45 80.5h1M48 80.5h1M50 80.5h1M52 80.5h6M59 80.5h2M62 80.5h1M64 80.5h3M69 80.5h1M71 80.5h1M76 80.5h1M84 80.5h1M51 81.5h2M54 81.5h1M56 81.5h1M58 81.5h5M64 81.5h5M72 81.5h4M82 81.5h1M37 82.5h1M49 82.5h1M51 82.5h3M56 82.5h1M58 82.5h2M62 82.5h1M64 82.5h2M67 82.5h1M71 82.5h1M73 82.5h1M78 82.5h1M83 82.5h1M46 83.5h2M50 83.5h1M52 83.5h2M57 83.5h4M62 83.5h3M66 83.5h3M73 83.5h1M79 83.5h1M43 84.5h4M51 84.5h1M53 84.5h4M58 84.5h1M63 84.5h2M68 84.5h3M44 85.5h1M53 85.5h1M57 85.5h1M60 85.5h3M66 85.5h2M69 85.5h1M71 85.5h3M76 85.5h1M94 85.5h1M49 86.5h2M52 86.5h2M57 86.5h1M61 86.5h1M71 86.5h1M73 86.5h1M79 86.5h1M89 86.5h1M47 87.5h1M54 87.5h1M60 87.5h1M62 87.5h2M65 87.5h1M68 87.5h1M77 87.5h1M80 87.5h1M90 87.5h1M39 88.5h1M51 88.5h1M57 88.5h1M59 88.5h3M63 88.5h1M66 88.5h1M71 88.5h1M51 89.5h1M56 89.5h1M60 89.5h1M66 89.5h1M71 89.5h2M43 90.5h1M46 90.5h1M53 90.5h1M55 90.5h1M58 90.5h3M65 90.5h2M71 90.5h2M76 90.5h1M83 90.5h1M94 90.5h1M97 90.5h1M39 91.5h1M46 91.5h2M50 91.5h2M56 91.5h2M60 91.5h1M62 91.5h4M67 91.5h1M75 91.5h1M78 91.5h1M84 91.5h1M52 92.5h2M57 92.5h2M60 92.5h1M62 92.5h1M67 92.5h3M72 92.5h1M75 92.5h2M78 92.5h1M81 92.5h1M83 92.5h1M86 92.5h1M88 92.5h1M43 93.5h2M55 93.5h2M61 93.5h1M63 93.5h1M65 93.5h2M74 93.5h1M76 93.5h1M84 93.5h1M49 94.5h1M51 94.5h1M53 94.5h1M56 94.5h1M59 94.5h3M63 94.5h1M65 94.5h2M80 94.5h1M34 95.5h1M42 95.5h2M45 95.5h1M47 95.5h1M55 95.5h2M59 95.5h2M69 95.5h1M74 95.5h2M78 95.5h1M80 95.5h1M82 95.5h1M87 95.5h1M102 95.5h1M35 96.5h1M38 96.5h1M43 96.5h1M45 96.5h1M50 96.5h1M54 96.5h1M60 96.5h1M68 96.5h1M71 96.5h1M80 96.5h1M83 96.5h1M89 96.5h1M95 96.5h1M35 97.5h2M43 97.5h1M45 97.5h1M50 97.5h1M52 97.5h1M59 97.5h2M67 97.5h1M73 97.5h1M81 97.5h1M85 97.5h1M97 97.5h1M29 98.5h2M32 98.5h1M40 98.5h1M45 98.5h1M47 98.5h1M51 98.5h1M53 98.5h3M63 98.5h4M68 98.5h1M74 98.5h1M78 98.5h1M83 98.5h1M86 98.5h1M89 98.5h1M43 99.5h3M48 99.5h2M51 99.5h2M55 99.5h1M58 99.5h2M61 99.5h2M64 99.5h3M84 99.5h1M93 99.5h1M29 100.5h1M43 100.5h1M47 100.5h1M54 100.5h3M62 100.5h1M68 100.5h2M72 100.5h3M76 100.5h1M84 100.5h1M88 100.5h1M36 101.5h1M45 101.5h1M49 101.5h1M57 101.5h1M60 101.5h1M66 101.5h1M70 101.5h2M75 101.5h1M81 101.5h2M84 101.5h3M91 101.5h1M35 102.5h1M46 102.5h1M56 102.5h1M58 102.5h1M64 102.5h1M66 102.5h1M76 102.5h2M80 102.5h2M84 102.5h2M87 102.5h1M43 103.5h1M45 103.5h2M49 103.5h2M53 103.5h1M56 103.5h1M59 103.5h1M61 103.5h3M67 103.5h1M69 103.5h1M72 103.5h2M75 103.5h1M78 103.5h1M80 103.5h1M82 103.5h1M85 103.5h1M91 103.5h1M34 104.5h1M36 104.5h1M39 104.5h1M43 104.5h1M45 104.5h1M52 104.5h1M54 104.5h1M59 104.5h2M64 104.5h2M69 104.5h2M77 104.5h4M83 104.5h2M86 104.5h2M89 104.5h2M43 105.5h3M51 105.5h1M53 105.5h1M55 105.5h1M59 105.5h1M62 105.5h1M64 105.5h1M66 105.5h1M68 105.5h1M70 105.5h1M75 105.5h3M79 105.5h3M83 105.5h4M88 105.5h2M91 105.5h1M27 106.5h2M46 106.5h1M49 106.5h2M54 106.5h1M57 106.5h3M61 106.5h1M64 106.5h1M67 106.5h2M74 106.5h1M76 106.5h8M86 106.5h2M89 106.5h1M35 107.5h1M43 107.5h1M57 107.5h1M61 107.5h3M67 107.5h1M71 107.5h1M73 107.5h2M77 107.5h1M79 107.5h4M84 107.5h3M88 107.5h2M91 107.5h1M43 108.5h1M45 108.5h1M52 108.5h1M57 108.5h2M60 108.5h2M63 108.5h1M69 108.5h14M84 108.5h4M89 108.5h2M36 109.5h1M50 109.5h1M53 109.5h2M56 109.5h1M58 109.5h3M63 109.5h2M66 109.5h4M71 109.5h2M75 109.5h1M77 109.5h6M85 109.5h1M87 109.5h2M90 109.5h2M33 110.5h2M37 110.5h1M39 110.5h1M45 110.5h1M48 110.5h1M52 110.5h1M54 110.5h1M59 110.5h1M61 110.5h1M65 110.5h2M70 110.5h2M73 110.5h17M28 111.5h2M45 111.5h2M49 111.5h1M51 111.5h1M53 111.5h1M55 111.5h2M58 111.5h1M61 111.5h2M66 111.5h3M70 111.5h12M83 111.5h5M89 111.5h2M33 112.5h1M45 112.5h1M50 112.5h1M53 112.5h2M57 112.5h1M65 112.5h1M69 112.5h4M74 112.5h15M90 112.5h1M92 112.5h1M97 112.5h1M32 113.5h1M41 113.5h1M43 113.5h1M62 113.5h3M66 113.5h1M70 113.5h13M84 113.5h2M87 113.5h4M31 114.5h1M36 114.5h1M40 114.5h1M43 114.5h1M45 114.5h1M47 114.5h1M49 114.5h1M52 114.5h7M62 114.5h2M65 114.5h7M73 114.5h12M86 114.5h2M89 114.5h1M91 114.5h2M43 115.5h1M49 115.5h1M51 115.5h2M54 115.5h1M56 115.5h6M63 115.5h27M91 115.5h1M30 116.5h1M35 116.5h1M40 116.5h1M43 116.5h2M50 116.5h1M52 116.5h2M55 116.5h5M62 116.5h1M64 116.5h1M66 116.5h4M71 116.5h14M86 116.5h5M32 117.5h3M39 117.5h1M46 117.5h3M61 117.5h1M66 117.5h22M41 118.5h2M54 118.5h3M59 118.5h1M61 118.5h1M63 118.5h27M92 118.5h1M29 119.5h1M32 119.5h1M44 119.5h1M47 119.5h1M49 119.5h3M57 119.5h1M62 119.5h2M65 119.5h20M86 119.5h5M27 120.5h1M39 120.5h1M43 120.5h2M48 120.5h1M51 120.5h1M55 120.5h2M60 120.5h1M63 120.5h2M66 120.5h17M84 120.5h6M92 120.5h1M29 121.5h2M45 121.5h1M51 121.5h1M53 121.5h1M56 121.5h1M58 121.5h2M61 121.5h1M63 121.5h27M43 122.5h1M49 122.5h1M59 122.5h1M64 122.5h22M87 122.5h2M32 123.5h1M35 123.5h1M45 123.5h1M49 123.5h1M57 123.5h1M60 123.5h25M86 123.5h4M31 124.5h1M35 124.5h3M43 124.5h1M47 124.5h1M54 124.5h1M56 124.5h1M58 124.5h3M63 124.5h20M84 124.5h1M86 124.5h3M37 125.5h1M43 125.5h2M47 125.5h1M53 125.5h2M59 125.5h2M62 125.5h22M85 125.5h3M89 125.5h1M35 126.5h1M37 126.5h1M40 126.5h2M48 126.5h1M54 126.5h1M56 126.5h1M58 126.5h1M60 126.5h27M30 127.5h1M39 127.5h1M53 127.5h1M56 127.5h1M58 127.5h6M65 127.5h21M87 127.5h1M26 128.5h1M28 128.5h3M45 128.5h1M55 128.5h1M59 128.5h28M30 129.5h1M32 129.5h1M36 129.5h1M43 129.5h2M46 129.5h1M49 129.5h1M51 129.5h1M53 129.5h2M59 129.5h2M62 129.5h22M85 129.5h1M35 130.5h1M45 130.5h1M50 130.5h1M53 130.5h1M55 130.5h1M59 130.5h1M61 130.5h21M83 130.5h2M86 130.5h1M26 131.5h1M43 131.5h2M47 131.5h1M50 131.5h2M54 131.5h6M61 131.5h22M85 131.5h1M29 132.5h1M44 132.5h3M52 132.5h2M58 132.5h21M81 132.5h2M84 132.5h1M27 133.5h1M33 133.5h1M37 133.5h1M43 133.5h2M46 133.5h1M52 133.5h1M55 133.5h1M57 133.5h3M61 133.5h21M83 133.5h1M46 134.5h1M54 134.5h1M56 134.5h2M59 134.5h1M61 134.5h19M81 134.5h3M35 135.5h1M57 135.5h1M61 135.5h18M80 135.5h3M34 136.5h1M36 136.5h1M44 136.5h1M48 136.5h1M57 136.5h1M59 136.5h1M61 136.5h18M80 136.5h3M45 137.5h1M53 137.5h1M58 137.5h1M60 137.5h20M33 138.5h1M38 138.5h1M42 138.5h2M46 138.5h1M53 138.5h1M57 138.5h1M59 138.5h23M41 139.5h1M47 139.5h1M49 139.5h1M59 139.5h16M76 139.5h4M33 140.5h1M49 140.5h1M57 140.5h11M69 140.5h7M77 140.5h3M32 141.5h1M35 141.5h1M54 141.5h3M58 141.5h14M73 141.5h1M76 141.5h2M27 142.5h1M52 142.5h1M55 142.5h4M60 142.5h2M63 142.5h12M76 142.5h2M79 142.5h2M30 143.5h1M34 143.5h1M44 143.5h1M54 143.5h1M58 143.5h6M65 143.5h1M67 143.5h2M70 143.5h2M73 143.5h3M47 144.5h1M52 144.5h1M54 144.5h1M57 144.5h2M60 144.5h1M62 144.5h16M28 145.5h1M35 145.5h1M39 145.5h1M45 145.5h1M52 145.5h1M57 145.5h1M60 145.5h10M72 145.5h3M41 146.5h1M48 146.5h1M51 146.5h1M56 146.5h3M60 146.5h11M72 146.5h3M32 147.5h1M38 147.5h1M42 147.5h1M59 147.5h9M69 147.5h1M72 147.5h1M27 148.5h1M33 148.5h1M42 148.5h1M57 148.5h1M59 148.5h1M61 148.5h4M66 148.5h1M68 148.5h1M71 148.5h1M32 149.5h1M44 149.5h1M51 149.5h1M56 149.5h2M60 149.5h1M62 149.5h3M66 149.5h1M68 149.5h3M26 150.5h1M40 150.5h1M56 150.5h3M61 150.5h2M64 150.5h2M67 150.5h1M74 150.5h1M37 151.5h1M45 151.5h1M54 151.5h1M58 151.5h4M64 151.5h2M67 151.5h1M30 152.5h1M60 152.5h1M65 152.5h1M86 152.5h1M29 153.5h1M38 153.5h1M40 153.5h1M60 153.5h1M62 153.5h1M28 154.5h1M32 155.5h1M43 155.5h1M59 155.5h1M67 155.5h1M35 156.5h1M53 156.5h1M57 156.5h1M59 156.5h1M40 157.5h1M50 157.5h1M54 157.5h1M60 157.5h1M51 158.5h1M55 158.5h1" stroke="#ee3535" stroke-width="1.3" fill="none"/>
<line x1="282.7" y1="747.7" x2="282.7" y2="909.2" stroke="#2b2b2b" stroke-width="1.2"/>
<line x1="240.4" y1="838" x2="374.4" y2="838" stroke="#2b2b2b" stroke-width="1.2"/>
<rect x="240.4" y="747.7" width="134" height="161.5" fill="none" stroke="#231f20" stroke-width="1.5"/>
<path d="M237.4 907.6h3M237.4 902.5h3M237.4 898.6h3M237.4 895.4h3M237.4 892.7h3M237.4 890.4h3M237.4 888.4h3M235.2 886.5h5.2M237.4 874.4h3M237.4 867.3h3M237.4 862.3h3M237.4 858.4h3M237.4 855.2h3M237.4 852.5h3M237.4 850.1h3M237.4 848.1h3M235.2 846.2h5.2M237.4 834.1h3M237.4 827h3M237.4 822h3M237.4 818.1h3M237.4 814.9h3M237.4 812.2h3M237.4 809.9h3M237.4 807.8h3M235.2 806h5.2M237.4 793.8h3M237.4 786.8h3M237.4 781.7h3M237.4 777.8h3M237.4 774.6h3M237.4 771.9h3M237.4 769.6h3M237.4 767.5h3M235.2 765.7h5.2M237.4 753.6h3" stroke="#2b2b2b" stroke-width="1.1" fill="none"/>
<text x="230.3" y="891.3" font-size="14.8" text-anchor="end" fill="#231f20">10</text>
<text x="229.7" y="885.3" font-size="8.8" fill="#231f20">2</text>
<text x="230.3" y="851" font-size="14.8" text-anchor="end" fill="#231f20">10</text>
<text x="229.7" y="845" font-size="8.8" fill="#231f20">3</text>
<text x="230.3" y="810.8" font-size="14.8" text-anchor="end" fill="#231f20">10</text>
<text x="229.7" y="804.8" font-size="8.8" fill="#231f20">4</text>
<text x="230.3" y="770.5" font-size="14.8" text-anchor="end" fill="#231f20">10</text>
<text x="229.7" y="764.5" font-size="8.8" fill="#231f20">5</text>
<path d="M241.3 909.2v3.2M245.5 909.2v3.2M248.7 909.2v3.2M251.4 909.2v3.2M253.7 909.2v3.2M255.6 909.2v3.2M257.4 909.2v3.2M258.9 909.2v5.5M269.1 909.2v3.2M275 909.2v3.2M279.2 909.2v3.2M282.5 909.2v3.2M285.2 909.2v3.2M287.4 909.2v3.2M289.4 909.2v3.2M291.1 909.2v3.2M292.6 909.2v5.5M302.8 909.2v3.2M308.8 909.2v3.2M313 909.2v3.2M316.2 909.2v3.2M318.9 909.2v3.2M321.2 909.2v3.2M323.1 909.2v3.2M324.9 909.2v3.2M326.4 909.2v5.5M336.6 909.2v3.2M342.5 909.2v3.2M346.7 909.2v3.2M350 909.2v3.2M352.7 909.2v3.2M354.9 909.2v3.2M356.9 909.2v3.2M358.6 909.2v3.2M360.1 909.2v5.5M370.3 909.2v3.2" stroke="#2b2b2b" stroke-width="1.1" fill="none"/>
<text x="258.9" y="930" font-size="14.8" text-anchor="middle" fill="#231f20">10</text>
<text x="266.5" y="924" font-size="8.8" fill="#231f20">2</text>
<text x="292.6" y="930" font-size="14.8" text-anchor="middle" fill="#231f20">10</text>
<text x="300.3" y="924" font-size="8.8" fill="#231f20">3</text>
<text x="326.4" y="930" font-size="14.8" text-anchor="middle" fill="#231f20">10</text>
<text x="334" y="924" font-size="8.8" fill="#231f20">4</text>
<text x="360.1" y="930" font-size="14.8" text-anchor="middle" fill="#231f20">10</text>
<text x="367.8" y="924" font-size="8.8" fill="#231f20">5</text>
<text x="209.2" y="828.5" font-size="14.5" text-anchor="middle" font-weight="normal" fill="#231f20" transform="rotate(-90 209.2 828.5)">PE-A</text>
<text x="307.4" y="948.7" font-size="14.5" text-anchor="middle" font-weight="normal" fill="#231f20">FITC-A</text>
<text x="252.7" y="819.1" font-size="9.6" font-weight="bold" text-anchor="middle" fill="#f4f4f4" stroke="#231f20" stroke-width="2.0" stroke-linejoin="round" paint-order="stroke" letter-spacing="-0.9">Q1</text>
<text x="309" y="819.1" font-size="9.6" font-weight="bold" text-anchor="middle" fill="#f4f4f4" stroke="#231f20" stroke-width="2.0" stroke-linejoin="round" paint-order="stroke" letter-spacing="-0.9">Q2</text>
<text x="252.7" y="868.8" font-size="9.6" font-weight="bold" text-anchor="middle" fill="#f4f4f4" stroke="#231f20" stroke-width="2.0" stroke-linejoin="round" paint-order="stroke" letter-spacing="-0.9">Q3</text>
<text x="309" y="868.8" font-size="9.6" font-weight="bold" text-anchor="middle" fill="#f4f4f4" stroke="#231f20" stroke-width="2.0" stroke-linejoin="round" paint-order="stroke" letter-spacing="-0.9">Q4</text>
<path d="M453.6 909.2L453.6 894.2L454.1 894.2L454.1 896.1L454.6 896.1L454.6 894.8L455.1 894.8L455.1 893.3L455.6 893.3L455.6 894.1L456.1 894.1L456.1 893.7L456.6 893.7L456.6 895.7L457.1 895.7L457.1 893.3L457.6 893.3L457.6 894.2L458.1 894.2L458.1 894.4L458.6 894.4L458.6 891.7L459.1 891.7L459.1 892.2L459.6 892.2L459.6 893.2L460.1 893.2L460.1 895L460.6 895L460.6 895.7L461.1 895.7L461.1 892.6L461.6 892.6L461.6 891.3L462.1 891.3L462.1 894.4L462.6 894.4L462.6 891.7L463.1 891.7L463.1 891.8L463.6 891.8L463.6 891.6L464.1 891.6L464.1 892L464.6 892L464.6 889.7L465.1 889.7L465.1 890.5L465.6 890.5L465.6 890.1L466.1 890.1L466.1 890.4L466.6 890.4L466.6 888.9L467.1 888.9L467.1 887.3L467.6 887.3L467.6 887.7L468.1 887.7L468.1 888.7L468.6 888.7L468.6 885.5L469.1 885.5L469.1 883.6L469.6 883.6L469.6 882.1L470.1 882.1L470.1 881.5L470.6 881.5L470.6 881.6L471.1 881.6L471.1 875.5L471.6 875.5L471.6 870.4L472.1 870.4L472.1 872.7L472.6 872.7L472.6 874.6L473.1 874.6L473.1 869.8L473.6 869.8L473.6 865L474.1 865L474.1 860.1L474.6 860.1L474.6 858.3L475.1 858.3L475.1 857.8L475.6 857.8L475.6 854.1L476.1 854.1L476.1 844.7L476.6 844.7L476.6 832.1L477.1 832.1L477.1 838L477.6 838L477.6 834.7L478.1 834.7L478.1 827.7L478.6 827.7L478.6 817L479.1 817L479.1 818.4L479.6 818.4L479.6 829.2L480.1 829.2L480.1 813.4L480.6 813.4L480.6 809L481.1 809L481.1 805.6L481.6 805.6L481.6 804.6L482.1 804.6L482.1 797L482.6 797L482.6 765L483.1 765L483.1 774.7L483.6 774.7L483.6 794.6L484.1 794.6L484.1 801.7L484.6 801.7L484.6 791.2L485.1 791.2L485.1 781.1L485.6 781.1L485.6 784.1L486.1 784.1L486.1 782.3L486.6 782.3L486.6 766.1L487.1 766.1L487.1 747.7L487.6 747.7L487.6 771.5L488.1 771.5L488.1 788.4L488.6 788.4L488.6 775L489.1 775L489.1 786.2L489.6 786.2L489.6 783.8L490.1 783.8L490.1 781L490.6 781L490.6 760.6L491.1 760.6L491.1 776L491.6 776L491.6 804L492.1 804L492.1 783.9L492.6 783.9L492.6 795.4L493.1 795.4L493.1 795.2L493.6 795.2L493.6 804.9L494.1 804.9L494.1 790.8L494.6 790.8L494.6 805.5L495.1 805.5L495.1 805.8L495.6 805.8L495.6 792.5L496.1 792.5L496.1 782.8L496.6 782.8L496.6 791.2L497.1 791.2L497.1 803.9L497.6 803.9L497.6 801.8L498.1 801.8L498.1 809.9L498.6 809.9L498.6 814L499.1 814L499.1 806L499.6 806L499.6 817.9L500.1 817.9L500.1 825.9L500.6 825.9L500.6 835.2L501.1 835.2L501.1 825.3L501.6 825.3L501.6 834.6L502.1 834.6L502.1 839L502.6 839L502.6 842.5L503.1 842.5L503.1 836.4L503.6 836.4L503.6 841.5L504.1 841.5L504.1 850.8L504.6 850.8L504.6 853.5L505.1 853.5L505.1 855.1L505.6 855.1L505.6 855.4L506.1 855.4L506.1 856.9L506.6 856.9L506.6 864.1L507.1 864.1L507.1 863.8L507.6 863.8L507.6 864L508.1 864L508.1 861.3L508.6 861.3L508.6 865.1L509.1 865.1L509.1 867.6L509.6 867.6L509.6 870.7L510.1 870.7L510.1 869L510.6 869L510.6 867.3L511.1 867.3L511.1 869.3L511.6 869.3L511.6 869.1L512.1 869.1L512.1 872.7L512.6 872.7L512.6 872.4L513.1 872.4L513.1 870.8L513.6 870.8L513.6 875L514.1 875L514.1 873.1L514.6 873.1L514.6 873.4L515.1 873.4L515.1 877.1L515.6 877.1L515.6 873.7L516.1 873.7L516.1 874.1L516.6 874.1L516.6 874.5L517.1 874.5L517.1 875.5L517.6 875.5L517.6 876.3L518.1 876.3L518.1 876.5L518.6 876.5L518.6 876.6L519.1 876.6L519.1 873.6L519.6 873.6L519.6 874.7L520.1 874.7L520.1 874.2L520.6 874.2L520.6 871.6L521.1 871.6L521.1 879.3L521.6 879.3L521.6 872.7L522.1 872.7L522.1 874.2L522.6 874.2L522.6 876.4L523.1 876.4L523.1 877.5L523.6 877.5L523.6 873.3L524.1 873.3L524.1 873.2L524.6 873.2L524.6 875.5L525.1 875.5L525.1 877.8L525.6 877.8L525.6 871.6L526.1 871.6L526.1 871.4L526.6 871.4L526.6 876.8L527.1 876.8L527.1 874.8L527.6 874.8L527.6 874L528.1 874L528.1 869.9L528.6 869.9L528.6 875L529.1 875L529.1 869.4L529.6 869.4L529.6 875.1L530.1 875.1L530.1 874.6L530.6 874.6L530.6 875.5L531.1 875.5L531.1 875.5L531.6 875.5L531.6 871.3L532.1 871.3L532.1 874L532.6 874L532.6 873.5L533.1 873.5L533.1 876L533.6 876L533.6 871.3L534.1 871.3L534.1 870.6L534.6 870.6L534.6 871.5L535.1 871.5L535.1 872.2L535.6 872.2L535.6 873.3L536.1 873.3L536.1 869.8L536.6 869.8L536.6 868.6L537.1 868.6L537.1 870.8L537.6 870.8L537.6 870.2L538.1 870.2L538.1 865.7L538.6 865.7L538.6 871.9L539.1 871.9L539.1 868.2L539.6 868.2L539.6 863.8L540.1 863.8L540.1 868.2L540.6 868.2L540.6 868.3L541.1 868.3L541.1 872.6L541.6 872.6L541.6 867.8L542.1 867.8L542.1 866.5L542.6 866.5L542.6 860.7L543.1 860.7L543.1 866.9L543.6 866.9L543.6 857.8L544.1 857.8L544.1 862.8L544.6 862.8L544.6 862L545.1 862L545.1 861.2L545.6 861.2L545.6 865.1L546.1 865.1L546.1 860.6L546.6 860.6L546.6 857.1L547.1 857.1L547.1 867.9L547.6 867.9L547.6 865L548.1 865L548.1 865.7L548.6 865.7L548.6 861L549.1 861L549.1 860.4L549.6 860.4L549.6 854.9L550.1 854.9L550.1 865.4L550.6 865.4L550.6 858.6L551.1 858.6L551.1 864.5L551.6 864.5L551.6 861.4L552.1 861.4L552.1 863.3L552.6 863.3L552.6 861.9L553.1 861.9L553.1 865.1L553.6 865.1L553.6 860.4L554.1 860.4L554.1 863.3L554.6 863.3L554.6 869L555.1 869L555.1 867.6L555.6 867.6L555.6 866.6L556.1 866.6L556.1 870L556.6 870L556.6 871L557.1 871L557.1 869.3L557.6 869.3L557.6 870.2L558.1 870.2L558.1 873L558.6 873L558.6 877.8L559.1 877.8L559.1 878.3L559.6 878.3L559.6 883.9L560.1 883.9L560.1 880L560.6 880L560.6 886.6L561.1 886.6L561.1 886.5L561.6 886.5L561.6 891L562.1 891L562.1 894.5L562.6 894.5L562.6 895.9L563.1 895.9L563.1 898.3L563.6 898.3L563.6 900.2L564.1 900.2L564.1 899.7L564.6 899.7L564.6 904.7L565.1 904.7L565.1 907.3L565.6 907.3L565.6 908.7L566.1 908.7L566.1 908.8L566.6 908.8L566.6 908.8L567.1 908.8L567.1 908.9L567.6 908.9L567.6 908.9L568.1 908.9L568.1 909L568.6 909L568.6 909L569.1 909L569.1 909L569.6 909L569.6 909.1L570.1 909.1L570.1 909.1L570.6 909.1L570.6 909.1L571.1 909.1L571.1 909.1L571.6 909.1L571.6 909.2L572.1 909.2L572.1 909.2L572.6 909.2L572.6 909.2L573.1 909.2L573.1 909.2L573.6 909.2L573.6 909.2L574.1 909.2L574.1 909.2L574.6 909.2L574.6 909.2L575.1 909.2L575.1 909.2L575.6 909.2L575.6 909.2L576.1 909.2L576.1 909.2L576.6 909.2L576.6 909.2L577.1 909.2L577.1 909.2L577.6 909.2L577.6 909.2L578.1 909.2L578.1 909.2L578.6 909.2L578.6 909.2L579.1 909.2L579.1 909.2L579.6 909.2L579.6 909.2L580.1 909.2L580.1 909.2L580.6 909.2L580.6 909.2L581.1 909.2L581.1 909.2L581.6 909.2L581.6 909.2L582.1 909.2L582.1 909.2L582.6 909.2L582.6 909.2L583.1 909.2L583.1 909.2L583.6 909.2L583.6 909.2L584.1 909.2L584.1 909.2L584.6 909.2L584.6 909.2L585.1 909.2L585.1 909.2L585.6 909.2L585.6 909.2L586.1 909.2L586.1 909.2L586.6 909.2L586.6 909.2L587.1 909.2L587.1 909.2L587.6 909.2L587.6 909.2Z" fill="#f05a55" stroke="#e8262b" stroke-width="0.8"/>
<line x1="511" y1="747.7" x2="511" y2="909.2" stroke="#2b2b2b" stroke-width="1.2"/>
<line x1="453.6" y1="880.7" x2="511" y2="880.7" stroke="#4a4a4a" stroke-width="1.1"/>
<rect x="453.6" y="747.7" width="134" height="161.5" fill="none" stroke="#231f20" stroke-width="1.5"/>
<text x="446.6" y="914.1" font-size="15" text-anchor="end" font-weight="normal" fill="#231f20">0</text>
<text x="446.6" y="881.8" font-size="15" text-anchor="end" font-weight="normal" fill="#231f20">25</text>
<text x="446.6" y="849.5" font-size="15" text-anchor="end" font-weight="normal" fill="#231f20">50</text>
<text x="446.6" y="817.2" font-size="15" text-anchor="end" font-weight="normal" fill="#231f20">75</text>
<text x="446.6" y="784.9" font-size="15" text-anchor="end" font-weight="normal" fill="#231f20">100</text>
<text x="446.6" y="752.6" font-size="15" text-anchor="end" font-weight="normal" fill="#231f20">125</text>
<path d="M448.1 909.2h5.5M450.3 902.7h3.3M450.3 896.3h3.3M450.3 889.8h3.3M450.3 883.4h3.3M448.1 876.9h5.5M450.3 870.4h3.3M450.3 864h3.3M450.3 857.5h3.3M450.3 851.1h3.3M448.1 844.6h5.5M450.3 838.1h3.3M450.3 831.7h3.3M450.3 825.2h3.3M450.3 818.8h3.3M448.1 812.3h5.5M450.3 805.8h3.3M450.3 799.4h3.3M450.3 792.9h3.3M450.3 786.5h3.3M448.1 780h5.5M450.3 773.5h3.3M450.3 767.1h3.3M450.3 760.6h3.3M450.3 754.2h3.3M448.1 747.7h5.5" stroke="#2b2b2b" stroke-width="1.1" fill="none"/>
<path d="M454.5 909.2v3.2M458.7 909.2v3.2M461.9 909.2v3.2M464.6 909.2v3.2M466.9 909.2v3.2M468.8 909.2v3.2M470.6 909.2v3.2M472.1 909.2v5.5M482.3 909.2v3.2M488.2 909.2v3.2M492.4 909.2v3.2M495.7 909.2v3.2M498.4 909.2v3.2M500.6 909.2v3.2M502.6 909.2v3.2M504.3 909.2v3.2M505.9 909.2v5.5M516 909.2v3.2M522 909.2v3.2M526.2 909.2v3.2M529.4 909.2v3.2M532.1 909.2v3.2M534.4 909.2v3.2M536.3 909.2v3.2M538.1 909.2v3.2M539.6 909.2v5.5M549.8 909.2v3.2M555.7 909.2v3.2M559.9 909.2v3.2M563.2 909.2v3.2M565.9 909.2v3.2M568.1 909.2v3.2M570.1 909.2v3.2M571.8 909.2v3.2M573.4 909.2v5.5M583.5 909.2v3.2" stroke="#2b2b2b" stroke-width="1.1" fill="none"/>
<text x="472.1" y="930" font-size="14.8" text-anchor="middle" fill="#231f20">10</text>
<text x="479.7" y="924" font-size="8.8" fill="#231f20">2</text>
<text x="505.9" y="930" font-size="14.8" text-anchor="middle" fill="#231f20">10</text>
<text x="513.5" y="924" font-size="8.8" fill="#231f20">3</text>
<text x="539.6" y="930" font-size="14.8" text-anchor="middle" fill="#231f20">10</text>
<text x="547.2" y="924" font-size="8.8" fill="#231f20">4</text>
<text x="573.4" y="930" font-size="14.8" text-anchor="middle" fill="#231f20">10</text>
<text x="581" y="924" font-size="8.8" fill="#231f20">5</text>
<text x="416.4" y="828.5" font-size="14.5" text-anchor="middle" font-weight="normal" fill="#231f20" transform="rotate(-90 416.4 828.5)">Count</text>
<text x="520.6" y="948.7" font-size="14.5" text-anchor="middle" font-weight="normal" fill="#231f20">PE-A</text>
<text x="480.9" y="833.4" font-size="9.6" font-weight="bold" text-anchor="middle" fill="#f4f4f4" stroke="#231f20" stroke-width="2.0" stroke-linejoin="round" paint-order="stroke" letter-spacing="-0.9">P2</text>
<path transform="translate(637.8 747.7)" d="M81 17.5h1M72 18.5h1M89 20.5h1M91 20.5h1M95 20.5h1M101 20.5h1M101 21.5h1M86 22.5h1M88 22.5h1M92 22.5h1M96 22.5h1M99 22.5h1M87 23.5h1M99 23.5h1M88 24.5h1M92 24.5h1M100 24.5h1M84 25.5h1M88 25.5h1M90 25.5h1M92 25.5h2M100 25.5h1M82 26.5h1M85 26.5h1M91 26.5h1M93 26.5h3M97 26.5h2M100 26.5h1M102 26.5h2M80 27.5h2M85 27.5h1M87 27.5h2M92 27.5h1M94 27.5h3M98 27.5h1M101 27.5h1M106 27.5h1M79 28.5h2M87 28.5h1M89 28.5h1M92 28.5h4M100 28.5h2M104 28.5h2M74 29.5h1M79 29.5h1M82 29.5h1M86 29.5h6M93 29.5h2M96 29.5h1M98 29.5h1M101 29.5h3M79 30.5h5M87 30.5h3M91 30.5h4M96 30.5h3M102 30.5h1M104 30.5h1M106 30.5h1M71 31.5h1M78 31.5h1M82 31.5h13M96 31.5h3M102 31.5h2M106 31.5h1M80 32.5h1M82 32.5h1M85 32.5h13M99 32.5h2M102 32.5h2M66 33.5h1M70 33.5h1M72 33.5h1M75 33.5h1M77 33.5h1M81 33.5h2M84 33.5h3M88 33.5h7M96 33.5h2M99 33.5h2M64 34.5h1M66 34.5h1M68 34.5h1M73 34.5h1M81 34.5h2M84 34.5h5M90 34.5h2M93 34.5h2M96 34.5h1M99 34.5h1M106 34.5h1M70 35.5h2M76 35.5h2M79 35.5h3M83 35.5h5M89 35.5h1M91 35.5h1M93 35.5h4M98 35.5h4M106 35.5h1M70 36.5h1M72 36.5h1M74 36.5h1M76 36.5h1M79 36.5h9M89 36.5h3M94 36.5h3M98 36.5h1M102 36.5h2M106 36.5h1M65 37.5h2M69 37.5h2M73 37.5h1M75 37.5h2M78 37.5h13M92 37.5h3M101 37.5h2M55 38.5h1M60 38.5h1M68 38.5h1M71 38.5h1M73 38.5h2M77 38.5h3M81 38.5h3M86 38.5h5M92 38.5h3M97 38.5h1M46 39.5h1M54 39.5h1M59 39.5h1M61 39.5h1M66 39.5h1M69 39.5h3M75 39.5h4M81 39.5h13M97 39.5h2M54 40.5h1M61 40.5h1M63 40.5h6M72 40.5h1M75 40.5h1M77 40.5h5M84 40.5h4M91 40.5h1M93 40.5h3M107 40.5h1M61 41.5h1M64 41.5h2M68 41.5h1M70 41.5h1M72 41.5h2M75 41.5h2M80 41.5h8M89 41.5h1M91 41.5h2M94 41.5h1M99 41.5h1M48 42.5h1M54 42.5h1M61 42.5h3M66 42.5h1M68 42.5h1M74 42.5h3M78 42.5h2M82 42.5h8M91 42.5h1M93 42.5h1M102 42.5h1M57 43.5h1M59 43.5h1M61 43.5h2M64 43.5h1M66 43.5h1M68 43.5h3M72 43.5h1M75 43.5h3M80 43.5h8M90 43.5h1M92 43.5h2M47 44.5h5M54 44.5h1M56 44.5h1M59 44.5h5M66 44.5h3M70 44.5h2M73 44.5h2M76 44.5h2M79 44.5h2M82 44.5h6M89 44.5h7M97 44.5h1M43 45.5h1M52 45.5h1M56 45.5h3M63 45.5h1M65 45.5h2M71 45.5h1M73 45.5h1M76 45.5h3M83 45.5h4M88 45.5h1M93 45.5h1M95 45.5h1M97 45.5h1M102 45.5h1M52 46.5h1M56 46.5h3M61 46.5h1M64 46.5h1M67 46.5h1M70 46.5h1M72 46.5h3M79 46.5h1M81 46.5h8M90 46.5h5M45 47.5h1M47 47.5h1M51 47.5h1M53 47.5h1M55 47.5h3M60 47.5h3M66 47.5h1M68 47.5h1M70 47.5h1M72 47.5h2M75 47.5h7M83 47.5h3M87 47.5h4M92 47.5h1M94 47.5h2M50 48.5h1M53 48.5h3M57 48.5h1M59 48.5h5M66 48.5h1M68 48.5h1M70 48.5h1M73 48.5h1M79 48.5h1M83 48.5h2M86 48.5h3M91 48.5h5M45 49.5h1M50 49.5h1M53 49.5h3M57 49.5h1M59 49.5h2M65 49.5h4M72 49.5h1M76 49.5h1M78 49.5h1M80 49.5h1M82 49.5h1M84 49.5h2M87 49.5h2M90 49.5h3M94 49.5h2M98 49.5h1M50 50.5h1M52 50.5h2M56 50.5h2M61 50.5h4M77 50.5h1M79 50.5h3M84 50.5h10M96 50.5h1M43 51.5h1M51 51.5h4M56 51.5h2M66 51.5h2M71 51.5h2M74 51.5h1M78 51.5h1M80 51.5h5M86 51.5h8M95 51.5h1M100 51.5h1M43 52.5h1M48 52.5h1M56 52.5h3M60 52.5h3M64 52.5h2M70 52.5h1M73 52.5h1M78 52.5h8M88 52.5h2M93 52.5h2M43 53.5h1M50 53.5h2M53 53.5h3M61 53.5h1M65 53.5h2M72 53.5h2M76 53.5h1M80 53.5h1M82 53.5h3M86 53.5h4M94 53.5h1M48 54.5h2M55 54.5h1M59 54.5h1M63 54.5h1M65 54.5h1M68 54.5h2M72 54.5h1M74 54.5h1M80 54.5h11M93 54.5h1M95 54.5h1M98 54.5h1M47 55.5h1M49 55.5h1M51 55.5h1M53 55.5h1M65 55.5h1M71 55.5h1M76 55.5h12M90 55.5h1M92 55.5h1M95 55.5h1M45 56.5h1M53 56.5h1M55 56.5h1M57 56.5h1M67 56.5h1M72 56.5h1M78 56.5h14M94 56.5h1M44 57.5h2M48 57.5h1M50 57.5h1M56 57.5h1M62 57.5h1M73 57.5h2M77 57.5h1M80 57.5h7M89 57.5h1M91 57.5h1M93 57.5h2M99 57.5h1M50 58.5h1M68 58.5h1M73 58.5h1M75 58.5h1M77 58.5h5M83 58.5h10M97 58.5h1M52 59.5h1M65 59.5h1M69 59.5h2M75 59.5h1M77 59.5h2M80 59.5h9M90 59.5h3M94 59.5h1M96 59.5h1M98 59.5h1M112 59.5h1M45 60.5h1M65 60.5h1M75 60.5h1M77 60.5h6M84 60.5h9M94 60.5h1M45 61.5h1M60 61.5h1M75 61.5h17M97 61.5h1M59 62.5h1M64 62.5h1M71 62.5h1M77 62.5h4M82 62.5h2M85 62.5h6M92 62.5h2M49 63.5h1M56 63.5h1M62 63.5h2M70 63.5h1M72 63.5h1M76 63.5h3M80 63.5h15M57 64.5h1M67 64.5h2M75 64.5h1M77 64.5h1M79 64.5h14M94 64.5h1M100 64.5h1M33 65.5h1M45 65.5h1M60 65.5h1M63 65.5h1M69 65.5h1M73 65.5h1M79 65.5h11M91 65.5h2M34 66.5h1M56 66.5h4M64 66.5h1M70 66.5h1M74 66.5h1M76 66.5h16M93 66.5h1M95 66.5h1M46 67.5h1M58 67.5h1M69 67.5h1M75 67.5h1M77 67.5h1M79 67.5h5M85 67.5h9M97 67.5h1M23 68.5h1M54 68.5h1M61 68.5h1M63 68.5h1M65 68.5h1M75 68.5h5M81 68.5h1M83 68.5h11M104 68.5h1M56 69.5h1M63 69.5h2M68 69.5h2M71 69.5h1M75 69.5h2M78 69.5h15M95 69.5h2M60 70.5h1M73 70.5h1M75 70.5h1M77 70.5h4M82 70.5h5M88 70.5h5M94 70.5h2M97 70.5h1M104 70.5h1M107 70.5h1M113 70.5h1M67 71.5h1M69 71.5h1M74 71.5h1M78 71.5h10M92 71.5h1M63 72.5h1M65 72.5h1M68 72.5h1M73 72.5h1M75 72.5h3M79 72.5h13M95 72.5h1M98 72.5h1M101 72.5h1M29 73.5h1M60 73.5h1M72 73.5h1M75 73.5h2M78 73.5h1M80 73.5h4M85 73.5h4M92 73.5h1M94 73.5h3M28 74.5h1M57 74.5h2M64 74.5h2M67 74.5h1M74 74.5h1M77 74.5h1M80 74.5h5M86 74.5h2M89 74.5h3M93 74.5h2M99 74.5h2M50 75.5h1M63 75.5h1M67 75.5h2M72 75.5h2M75 75.5h1M79 75.5h2M82 75.5h2M85 75.5h4M90 75.5h3M94 75.5h1M101 75.5h1M50 76.5h1M55 76.5h2M63 76.5h1M70 76.5h1M72 76.5h2M76 76.5h2M80 76.5h5M86 76.5h2M89 76.5h4M98 76.5h1M24 77.5h1M57 77.5h1M63 77.5h1M66 77.5h1M69 77.5h1M73 77.5h1M75 77.5h10M86 77.5h1M88 77.5h3M95 77.5h2M105 77.5h1M55 78.5h1M66 78.5h1M69 78.5h2M77 78.5h1M79 78.5h3M83 78.5h2M86 78.5h4M94 78.5h1M97 78.5h1M45 79.5h1M47 79.5h1M69 79.5h3M73 79.5h1M75 79.5h1M77 79.5h2M80 79.5h4M85 79.5h2M89 79.5h1M101 79.5h1M103 79.5h1M53 80.5h1M58 80.5h1M61 80.5h2M71 80.5h1M75 80.5h3M79 80.5h6M88 80.5h2M98 80.5h2M103 80.5h1M50 81.5h1M55 81.5h1M60 81.5h1M63 81.5h1M68 81.5h1M75 81.5h1M77 81.5h2M81 81.5h1M83 81.5h7M92 81.5h2M95 81.5h1M102 81.5h1M108 81.5h1M33 82.5h1M53 82.5h3M57 82.5h1M62 82.5h1M65 82.5h2M69 82.5h5M75 82.5h1M77 82.5h2M80 82.5h1M82 82.5h1M86 82.5h3M93 82.5h1M95 82.5h1M46 83.5h1M66 83.5h1M68 83.5h1M72 83.5h1M74 83.5h1M76 83.5h4M81 83.5h10M92 83.5h1M96 83.5h1M98 83.5h1M49 84.5h1M54 84.5h2M59 84.5h2M63 84.5h3M68 84.5h1M71 84.5h1M73 84.5h1M76 84.5h2M79 84.5h4M84 84.5h1M86 84.5h1M91 84.5h1M114 84.5h1M44 85.5h1M55 85.5h1M58 85.5h1M68 85.5h1M76 85.5h1M78 85.5h1M80 85.5h1M82 85.5h8M110 85.5h1M44 86.5h1M56 86.5h1M59 86.5h1M61 86.5h3M71 86.5h3M76 86.5h1M79 86.5h1M83 86.5h4M90 86.5h1M101 86.5h2M46 87.5h1M57 87.5h1M60 87.5h2M63 87.5h1M66 87.5h1M68 87.5h2M72 87.5h1M75 87.5h3M79 87.5h1M81 87.5h2M84 87.5h1M86 87.5h3M92 87.5h1M56 88.5h2M60 88.5h1M62 88.5h1M70 88.5h1M72 88.5h1M74 88.5h1M76 88.5h11M88 88.5h1M94 88.5h1M100 88.5h1M48 89.5h1M55 89.5h1M63 89.5h1M65 89.5h1M67 89.5h1M71 89.5h2M75 89.5h6M84 89.5h3M88 89.5h6M96 89.5h2M43 90.5h2M50 90.5h1M55 90.5h1M59 90.5h1M61 90.5h2M65 90.5h3M69 90.5h1M75 90.5h3M79 90.5h2M83 90.5h3M89 90.5h1M93 90.5h4M98 90.5h1M101 90.5h1M45 91.5h2M55 91.5h1M59 91.5h2M62 91.5h1M64 91.5h2M67 91.5h2M71 91.5h1M74 91.5h1M79 91.5h1M82 91.5h2M85 91.5h1M87 91.5h1M89 91.5h1M92 91.5h1M96 91.5h1M98 91.5h4M112 91.5h1M46 92.5h1M59 92.5h1M63 92.5h4M69 92.5h1M72 92.5h1M74 92.5h2M77 92.5h3M82 92.5h1M84 92.5h1M86 92.5h1M89 92.5h3M93 92.5h3M99 92.5h1M102 92.5h1M21 93.5h1M54 93.5h1M56 93.5h1M58 93.5h4M64 93.5h4M69 93.5h1M77 93.5h1M80 93.5h1M82 93.5h1M84 93.5h4M90 93.5h1M92 93.5h7M101 93.5h3M48 94.5h1M62 94.5h1M64 94.5h1M69 94.5h1M71 94.5h1M73 94.5h3M79 94.5h1M82 94.5h2M85 94.5h1M87 94.5h3M91 94.5h3M95 94.5h3M100 94.5h2M50 95.5h1M52 95.5h1M57 95.5h1M62 95.5h1M70 95.5h1M72 95.5h1M75 95.5h2M78 95.5h5M85 95.5h1M87 95.5h1M89 95.5h4M94 95.5h3M98 95.5h3M103 95.5h1M50 96.5h1M56 96.5h2M60 96.5h2M63 96.5h3M68 96.5h1M70 96.5h1M73 96.5h3M77 96.5h1M80 96.5h2M85 96.5h3M89 96.5h2M92 96.5h4M97 96.5h2M101 96.5h1M103 96.5h2M44 97.5h1M66 97.5h1M71 97.5h4M76 97.5h5M82 97.5h2M85 97.5h3M89 97.5h1M92 97.5h1M94 97.5h2M97 97.5h3M103 97.5h1M49 98.5h1M51 98.5h1M66 98.5h2M69 98.5h2M73 98.5h3M77 98.5h3M82 98.5h9M92 98.5h10M104 98.5h1M49 99.5h1M56 99.5h2M59 99.5h1M61 99.5h1M65 99.5h1M68 99.5h1M70 99.5h1M76 99.5h7M84 99.5h1M86 99.5h6M93 99.5h8M102 99.5h2M49 100.5h1M53 100.5h1M60 100.5h1M62 100.5h1M64 100.5h1M66 100.5h1M70 100.5h2M73 100.5h1M77 100.5h8M86 100.5h19M120 100.5h1M46 101.5h1M50 101.5h1M64 101.5h3M70 101.5h3M75 101.5h4M80 101.5h2M83 101.5h5M89 101.5h6M97 101.5h6M106 101.5h1M45 102.5h1M54 102.5h2M61 102.5h1M64 102.5h2M73 102.5h3M79 102.5h3M83 102.5h15M99 102.5h6M109 102.5h1M48 103.5h1M52 103.5h1M58 103.5h1M62 103.5h1M64 103.5h1M66 103.5h1M68 103.5h1M71 103.5h1M73 103.5h1M75 103.5h4M80 103.5h15M96 103.5h7M49 104.5h1M61 104.5h1M64 104.5h3M71 104.5h3M75 104.5h19M95 104.5h4M100 104.5h2M48 105.5h2M62 105.5h2M65 105.5h2M68 105.5h1M70 105.5h2M73 105.5h3M77 105.5h4M82 105.5h17M100 105.5h3M109 105.5h1M44 106.5h1M53 106.5h5M62 106.5h1M68 106.5h2M71 106.5h1M73 106.5h1M75 106.5h3M80 106.5h17M98 106.5h1M100 106.5h2M103 106.5h1M106 106.5h1M58 107.5h1M61 107.5h1M68 107.5h1M70 107.5h1M75 107.5h8M84 107.5h21M108 107.5h1M44 108.5h1M48 108.5h1M62 108.5h3M67 108.5h1M71 108.5h1M73 108.5h1M75 108.5h28M104 108.5h1M106 108.5h1M45 109.5h1M56 109.5h1M61 109.5h3M66 109.5h1M69 109.5h2M75 109.5h3M79 109.5h13M93 109.5h7M101 109.5h1M106 109.5h1M110 109.5h1M52 110.5h1M55 110.5h1M61 110.5h2M69 110.5h2M75 110.5h1M77 110.5h22M46 111.5h1M60 111.5h1M64 111.5h1M66 111.5h2M69 111.5h1M73 111.5h8M82 111.5h19M48 112.5h1M53 112.5h1M58 112.5h1M60 112.5h5M67 112.5h1M69 112.5h2M72 112.5h1M74 112.5h25M100 112.5h1M54 113.5h2M62 113.5h2M65 113.5h3M69 113.5h29M99 113.5h4M104 113.5h1M25 114.5h1M56 114.5h1M62 114.5h6M70 114.5h2M73 114.5h26M51 115.5h1M65 115.5h2M68 115.5h1M71 115.5h2M74 115.5h26M51 116.5h2M59 116.5h2M63 116.5h1M66 116.5h2M71 116.5h3M75 116.5h23M99 116.5h1M55 117.5h1M62 117.5h1M64 117.5h1M66 117.5h3M71 117.5h24M97 117.5h2M45 118.5h1M54 118.5h1M61 118.5h2M68 118.5h32M53 119.5h2M56 119.5h1M60 119.5h1M65 119.5h1M69 119.5h3M73 119.5h26M104 119.5h1M45 120.5h1M58 120.5h1M64 120.5h1M68 120.5h27M96 120.5h3M44 121.5h1M56 121.5h1M59 121.5h2M62 121.5h1M64 121.5h2M69 121.5h26M98 121.5h2M45 122.5h1M53 122.5h1M60 122.5h1M62 122.5h1M65 122.5h2M68 122.5h22M91 122.5h1M93 122.5h3M47 123.5h1M52 123.5h1M55 123.5h1M65 123.5h29M95 123.5h2M45 124.5h1M53 124.5h2M63 124.5h1M65 124.5h1M68 124.5h3M72 124.5h19M92 124.5h1M51 125.5h1M53 125.5h1M59 125.5h1M61 125.5h1M68 125.5h3M72 125.5h22M97 125.5h1M54 126.5h1M56 126.5h1M59 126.5h2M62 126.5h4M67 126.5h2M70 126.5h24M60 127.5h2M64 127.5h2M68 127.5h18M87 127.5h6M94 127.5h1M61 128.5h1M63 128.5h1M65 128.5h2M68 128.5h1M70 128.5h22M51 129.5h2M59 129.5h1M62 129.5h1M64 129.5h4M69 129.5h3M73 129.5h20M95 129.5h1M57 130.5h1M63 130.5h2M66 130.5h1M68 130.5h1M70 130.5h18M89 130.5h1M91 130.5h2M53 131.5h1M58 131.5h1M63 131.5h1M66 131.5h3M70 131.5h13M84 131.5h7M92 131.5h1M51 132.5h1M55 132.5h1M57 132.5h1M59 132.5h3M66 132.5h1M68 132.5h18M87 132.5h1M89 132.5h1M91 132.5h1M50 133.5h1M60 133.5h1M63 133.5h1M65 133.5h1M68 133.5h1M70 133.5h4M75 133.5h8M84 133.5h2M87 133.5h5M45 134.5h1M47 134.5h1M56 134.5h1M65 134.5h1M68 134.5h2M72 134.5h15M88 134.5h1M46 135.5h1M52 135.5h1M65 135.5h1M67 135.5h3M72 135.5h11M84 135.5h3M94 135.5h1M49 136.5h1M51 136.5h1M54 136.5h1M59 136.5h1M61 136.5h2M66 136.5h3M72 136.5h2M75 136.5h10M87 136.5h1M30 137.5h1M51 137.5h1M56 137.5h2M61 137.5h1M63 137.5h1M66 137.5h4M71 137.5h8M80 137.5h3M85 137.5h1M37 138.5h1M44 138.5h1M57 138.5h1M64 138.5h3M69 138.5h9M79 138.5h3M89 138.5h1M52 139.5h1M54 139.5h2M63 139.5h2M69 139.5h1M72 139.5h2M76 139.5h2M79 139.5h1M82 139.5h2M91 139.5h1M50 140.5h1M61 140.5h1M66 140.5h3M70 140.5h1M72 140.5h3M76 140.5h6M83 140.5h1M37 141.5h1M63 141.5h1M66 141.5h4M73 141.5h1M75 141.5h1M77 141.5h1M81 141.5h1M90 141.5h1M58 142.5h1M60 142.5h1M63 142.5h1M67 142.5h2M70 142.5h5M76 142.5h1M80 142.5h1M82 142.5h1M86 142.5h1M62 143.5h1M70 143.5h1M73 143.5h2M78 143.5h2M82 143.5h1M51 144.5h1M65 144.5h1M68 144.5h2M72 144.5h3M76 144.5h3M81 144.5h2M85 144.5h1M94 144.5h1M44 145.5h1M50 145.5h1M52 145.5h1M59 145.5h1M68 145.5h1M71 145.5h2M74 145.5h2M78 145.5h1M84 145.5h1M27 146.5h1M44 146.5h1M52 146.5h1M70 146.5h2M78 146.5h1M52 147.5h1M57 147.5h1M70 147.5h1M78 147.5h1M53 148.5h1M56 148.5h1M60 148.5h1M72 148.5h2M56 149.5h2M74 149.5h1M42 150.5h1M47 150.5h1M54 150.5h1M71 150.5h1M51 151.5h1M74 151.5h1M78 151.5h1M68 153.5h1M85 153.5h1M56 154.5h1M82 154.5h1M44 155.5h1M50 156.5h1M59 156.5h1M65 156.5h1M79 156.5h1M62 157.5h1M44 158.5h1M56 159.5h1M81 159.5h1" stroke="#ee3535" stroke-width="1.3" fill="none"/>
<line x1="680.1" y1="747.7" x2="680.1" y2="909.2" stroke="#2b2b2b" stroke-width="1.2"/>
<line x1="637.8" y1="838" x2="771.8" y2="838" stroke="#2b2b2b" stroke-width="1.2"/>
<rect x="637.8" y="747.7" width="134" height="161.5" fill="none" stroke="#231f20" stroke-width="1.5"/>
<path d="M634.8 907.6h3M634.8 902.5h3M634.8 898.6h3M634.8 895.4h3M634.8 892.7h3M634.8 890.4h3M634.8 888.4h3M632.6 886.5h5.2M634.8 874.4h3M634.8 867.3h3M634.8 862.3h3M634.8 858.4h3M634.8 855.2h3M634.8 852.5h3M634.8 850.1h3M634.8 848.1h3M632.6 846.2h5.2M634.8 834.1h3M634.8 827h3M634.8 822h3M634.8 818.1h3M634.8 814.9h3M634.8 812.2h3M634.8 809.9h3M634.8 807.8h3M632.6 806h5.2M634.8 793.8h3M634.8 786.8h3M634.8 781.7h3M634.8 777.8h3M634.8 774.6h3M634.8 771.9h3M634.8 769.6h3M634.8 767.5h3M632.6 765.7h5.2M634.8 753.6h3" stroke="#2b2b2b" stroke-width="1.1" fill="none"/>
<text x="627.7" y="891.3" font-size="14.8" text-anchor="end" fill="#231f20">10</text>
<text x="627.1" y="885.3" font-size="8.8" fill="#231f20">2</text>
<text x="627.7" y="851" font-size="14.8" text-anchor="end" fill="#231f20">10</text>
<text x="627.1" y="845" font-size="8.8" fill="#231f20">3</text>
<text x="627.7" y="810.8" font-size="14.8" text-anchor="end" fill="#231f20">10</text>
<text x="627.1" y="804.8" font-size="8.8" fill="#231f20">4</text>
<text x="627.7" y="770.5" font-size="14.8" text-anchor="end" fill="#231f20">10</text>
<text x="627.1" y="764.5" font-size="8.8" fill="#231f20">5</text>
<path d="M638.7 909.2v3.2M642.9 909.2v3.2M646.1 909.2v3.2M648.8 909.2v3.2M651.1 909.2v3.2M653 909.2v3.2M654.8 909.2v3.2M656.3 909.2v5.5M666.5 909.2v3.2M672.4 909.2v3.2M676.6 909.2v3.2M679.9 909.2v3.2M682.6 909.2v3.2M684.8 909.2v3.2M686.8 909.2v3.2M688.5 909.2v3.2M690 909.2v5.5M700.2 909.2v3.2M706.2 909.2v3.2M710.4 909.2v3.2M713.6 909.2v3.2M716.3 909.2v3.2M718.6 909.2v3.2M720.5 909.2v3.2M722.3 909.2v3.2M723.8 909.2v5.5M734 909.2v3.2M739.9 909.2v3.2M744.1 909.2v3.2M747.4 909.2v3.2M750.1 909.2v3.2M752.3 909.2v3.2M754.3 909.2v3.2M756 909.2v3.2M757.5 909.2v5.5M767.7 909.2v3.2" stroke="#2b2b2b" stroke-width="1.1" fill="none"/>
<text x="656.3" y="930" font-size="14.8" text-anchor="middle" fill="#231f20">10</text>
<text x="663.9" y="924" font-size="8.8" fill="#231f20">2</text>
<text x="690" y="930" font-size="14.8" text-anchor="middle" fill="#231f20">10</text>
<text x="697.7" y="924" font-size="8.8" fill="#231f20">3</text>
<text x="723.8" y="930" font-size="14.8" text-anchor="middle" fill="#231f20">10</text>
<text x="731.4" y="924" font-size="8.8" fill="#231f20">4</text>
<text x="757.5" y="930" font-size="14.8" text-anchor="middle" fill="#231f20">10</text>
<text x="765.2" y="924" font-size="8.8" fill="#231f20">5</text>
<text x="606.6" y="828.5" font-size="14.5" text-anchor="middle" font-weight="normal" fill="#231f20" transform="rotate(-90 606.6 828.5)">PE-A</text>
<text x="704.8" y="948.7" font-size="14.5" text-anchor="middle" font-weight="normal" fill="#231f20">FITC-A</text>
<text x="650.1" y="819.1" font-size="9.6" font-weight="bold" text-anchor="middle" fill="#f4f4f4" stroke="#231f20" stroke-width="2.0" stroke-linejoin="round" paint-order="stroke" letter-spacing="-0.9">Q1</text>
<text x="706.4" y="819.1" font-size="9.6" font-weight="bold" text-anchor="middle" fill="#f4f4f4" stroke="#231f20" stroke-width="2.0" stroke-linejoin="round" paint-order="stroke" letter-spacing="-0.9">Q2</text>
<text x="650.1" y="868.8" font-size="9.6" font-weight="bold" text-anchor="middle" fill="#f4f4f4" stroke="#231f20" stroke-width="2.0" stroke-linejoin="round" paint-order="stroke" letter-spacing="-0.9">Q3</text>
<text x="706.4" y="868.8" font-size="9.6" font-weight="bold" text-anchor="middle" fill="#f4f4f4" stroke="#231f20" stroke-width="2.0" stroke-linejoin="round" paint-order="stroke" letter-spacing="-0.9">Q4</text>
<text x="219" y="252.5" font-size="18" text-anchor="middle" font-weight="normal" fill="#231f20">Control</text>
<text x="609.2" y="252.5" font-size="18" text-anchor="middle" font-weight="normal" fill="#231f20">Control</text>
<text x="219" y="490.8" font-size="18" text-anchor="middle" font-weight="normal" fill="#231f20">25 nM</text>
<text x="609.2" y="490.8" font-size="18" text-anchor="middle" font-weight="normal" fill="#231f20">25 nM</text>
<text x="219" y="731.1" font-size="18" text-anchor="middle" font-weight="normal" fill="#231f20">50 nM</text>
<text x="609.2" y="731.1" font-size="18" text-anchor="middle" font-weight="normal" fill="#231f20">50 nM</text>
<text x="219" y="969" font-size="18" text-anchor="middle" font-weight="normal" fill="#231f20">100 nM</text>
<text x="609.2" y="969" font-size="18" text-anchor="middle" font-weight="normal" fill="#231f20">100 nM</text>
<path d="M0.9 16.7L6 -1L8.6 -1L13.8 16.7L11.2 16.7L10.08 12.9L4.49 12.9L3.4 16.7ZM5.01 11.1L9.55 11.1L7.26 3.3Z" fill-rule="evenodd" fill="#231f20"/>
<line x1="6.8" y1="864" x2="6.8" y2="956.4" stroke="#231f20" stroke-width="1.3"/>
<line x1="6.8" y1="956.4" x2="105.8" y2="956.4" stroke="#231f20" stroke-width="1.3"/>
<path d="M6.8 854L0.8 865L12.8 865Z" fill="#231f20"/>
<path d="M116.8 956.4L105.6 950.4L105.6 962.4Z" fill="#231f20"/>
<text x="28" y="975.5" font-size="18" text-anchor="start" font-weight="normal" fill="#231f20">24 h</text>
<line x1="399.7" y1="864" x2="399.7" y2="956.4" stroke="#231f20" stroke-width="1.3"/>
<line x1="399.7" y1="956.4" x2="498.7" y2="956.4" stroke="#231f20" stroke-width="1.3"/>
<path d="M399.7 854L393.7 865L405.7 865Z" fill="#231f20"/>
<path d="M509.7 956.4L498.5 950.4L498.5 962.4Z" fill="#231f20"/>
<text x="421.5" y="975.5" font-size="18" text-anchor="start" font-weight="normal" fill="#231f20">48 h</text>
<defs><pattern id="hatch" patternUnits="userSpaceOnUse" width="20" height="9.5" patternTransform="translate(0 1186) rotate(27)"><rect width="20" height="9.5" fill="#fff"/><line x1="0" y1="4.75" x2="20" y2="4.75" stroke="#231f20" stroke-width="1.3"/></pattern></defs>
<line x1="76.3" y1="1030.6" x2="76.3" y2="1232.8" stroke="#231f20" stroke-width="1.3"/>
<line x1="69.5" y1="1232.8" x2="76.3" y2="1232.8" stroke="#231f20" stroke-width="1.3"/>
<text x="64.8" y="1238.8" font-size="18" text-anchor="end" font-weight="normal" fill="#231f20">0</text>
<line x1="69.5" y1="1182.2" x2="76.3" y2="1182.2" stroke="#231f20" stroke-width="1.3"/>
<text x="64.8" y="1188.2" font-size="18" text-anchor="end" font-weight="normal" fill="#231f20">20</text>
<line x1="69.5" y1="1131.7" x2="76.3" y2="1131.7" stroke="#231f20" stroke-width="1.3"/>
<text x="64.8" y="1137.7" font-size="18" text-anchor="end" font-weight="normal" fill="#231f20">40</text>
<line x1="69.5" y1="1081.2" x2="76.3" y2="1081.2" stroke="#231f20" stroke-width="1.3"/>
<text x="64.8" y="1087.2" font-size="18" text-anchor="end" font-weight="normal" fill="#231f20">60</text>
<line x1="69.5" y1="1030.6" x2="76.3" y2="1030.6" stroke="#231f20" stroke-width="1.3"/>
<text x="64.8" y="1036.6" font-size="18" text-anchor="end" font-weight="normal" fill="#231f20">80</text>
<line x1="76.3" y1="1232.8" x2="319.8" y2="1232.8" stroke="#231f20" stroke-width="1.3"/>
<line x1="76.8" y1="1232.8" x2="76.8" y2="1240" stroke="#231f20" stroke-width="1.3"/>
<line x1="137.5" y1="1232.8" x2="137.5" y2="1240" stroke="#231f20" stroke-width="1.3"/>
<line x1="198.2" y1="1232.8" x2="198.2" y2="1240" stroke="#231f20" stroke-width="1.3"/>
<line x1="258.8" y1="1232.8" x2="258.8" y2="1240" stroke="#231f20" stroke-width="1.3"/>
<line x1="319.5" y1="1232.8" x2="319.5" y2="1240" stroke="#231f20" stroke-width="1.3"/>
<line x1="96.3" y1="1230.7" x2="96.3" y2="1231.5" stroke="#231f20" stroke-width="1.3"/>
<line x1="91.3" y1="1230.7" x2="101.3" y2="1230.7" stroke="#231f20" stroke-width="1.5"/>
<rect x="86" y="1231.5" width="20.6" height="1.3" fill="#808285" stroke="#231f20" stroke-width="1.4"/>
<line x1="116.9" y1="1225.5" x2="116.9" y2="1228.8" stroke="#231f20" stroke-width="1.3"/>
<line x1="111.9" y1="1225.5" x2="121.9" y2="1225.5" stroke="#231f20" stroke-width="1.5"/>
<rect x="106.6" y="1228.8" width="20.6" height="4" fill="url(#hatch)" stroke="#231f20" stroke-width="1.4"/>
<line x1="157.1" y1="1205.3" x2="157.1" y2="1206" stroke="#231f20" stroke-width="1.3"/>
<line x1="152.1" y1="1205.3" x2="162.1" y2="1205.3" stroke="#231f20" stroke-width="1.5"/>
<rect x="146.8" y="1206" width="20.6" height="26.8" fill="#808285" stroke="#231f20" stroke-width="1.4"/>
<line x1="177.7" y1="1184.5" x2="177.7" y2="1186.3" stroke="#231f20" stroke-width="1.3"/>
<line x1="172.7" y1="1184.5" x2="182.7" y2="1184.5" stroke="#231f20" stroke-width="1.5"/>
<rect x="167.3" y="1186.3" width="20.6" height="46.5" fill="url(#hatch)" stroke="#231f20" stroke-width="1.4"/>
<line x1="217.8" y1="1162.2" x2="217.8" y2="1163" stroke="#231f20" stroke-width="1.3"/>
<line x1="212.8" y1="1162.2" x2="222.8" y2="1162.2" stroke="#231f20" stroke-width="1.5"/>
<rect x="207.5" y="1163" width="20.6" height="69.8" fill="#808285" stroke="#231f20" stroke-width="1.4"/>
<line x1="238.4" y1="1132.5" x2="238.4" y2="1138.8" stroke="#231f20" stroke-width="1.3"/>
<line x1="233.4" y1="1132.5" x2="243.4" y2="1132.5" stroke="#231f20" stroke-width="1.5"/>
<rect x="228.1" y="1138.8" width="20.6" height="94" fill="url(#hatch)" stroke="#231f20" stroke-width="1.4"/>
<line x1="278.6" y1="1121.5" x2="278.6" y2="1122.6" stroke="#231f20" stroke-width="1.3"/>
<line x1="273.6" y1="1121.5" x2="283.6" y2="1121.5" stroke="#231f20" stroke-width="1.5"/>
<rect x="268.2" y="1122.6" width="20.6" height="110.2" fill="#808285" stroke="#231f20" stroke-width="1.4"/>
<line x1="299.2" y1="1072.1" x2="299.2" y2="1074.1" stroke="#231f20" stroke-width="1.3"/>
<line x1="294.2" y1="1072.1" x2="304.2" y2="1072.1" stroke="#231f20" stroke-width="1.5"/>
<rect x="288.9" y="1074.1" width="20.6" height="158.7" fill="url(#hatch)" stroke="#231f20" stroke-width="1.4"/>
<text x="97.3" y="1229.5" font-size="18" text-anchor="middle" font-weight="normal" fill="#231f20" font-family=""Liberation Serif", serif">*</text>
<text x="117.2" y="1224.2" font-size="18" text-anchor="middle" font-weight="normal" fill="#231f20" font-family=""Liberation Serif", serif">*</text>
<text x="157.6" y="1199" font-size="14.5" text-anchor="middle" font-weight="normal" fill="#231f20" font-family=""Liberation Serif", serif" font-style="italic">#</text>
<text x="177.7" y="1176.5" font-size="14" text-anchor="middle" font-weight="normal" fill="#231f20" font-family=""Liberation Serif", serif">&#916;</text>
<text x="218.6" y="1154.4" font-size="14" text-anchor="middle" font-weight="normal" fill="#231f20" font-family=""Liberation Serif", serif">&#916;</text>
<rect x="235" y="1117.5" width="7.2" height="7" fill="none" stroke="#231f20" stroke-width="1.3"/>
<rect x="275.5" y="1107" width="7.2" height="7" fill="none" stroke="#231f20" stroke-width="1.3"/>
<rect x="295.5" y="1056.3" width="7.8" height="7.3" fill="#231f20"/>
<rect x="99.4" y="1035.8" width="25.2" height="13.6" fill="#808285" stroke="#231f20" stroke-width="1.4"/>
<rect x="99.4" y="1055.6" width="25.2" height="13.6" fill="url(#hatch)" stroke="#231f20" stroke-width="1.4"/>
<text x="139" y="1049.2" font-size="18" text-anchor="start" font-weight="normal" fill="#231f20">24 h</text>
<text x="139" y="1069" font-size="18" text-anchor="start" font-weight="normal" fill="#231f20">48 h</text>
<text x="25.6" y="1130.9" font-size="18" text-anchor="middle" font-weight="normal" fill="#231f20" transform="rotate(-90 25.6 1130.9)">MMP disruption cell rate (%)</text>
<text x="107.6" y="1257.8" font-size="18" text-anchor="middle" font-weight="normal" fill="#231f20">Control</text>
<text x="167.4" y="1257.8" font-size="18" text-anchor="middle" font-weight="normal" fill="#231f20">25</text>
<text x="228.3" y="1257.8" font-size="18" text-anchor="middle" font-weight="normal" fill="#231f20">50</text>
<text x="289.2" y="1257.8" font-size="18" text-anchor="middle" font-weight="normal" fill="#231f20">100</text>
<text x="198.1" y="1286" font-size="18" text-anchor="middle" font-weight="normal" fill="#231f20">Concentration of chaetominine (nM)</text>
<text x="408.8" y="1013.8" font-size="20.5" text-anchor="start" font-weight="bold" fill="#231f20">B</text>
<line x1="456.5" y1="1031.3" x2="456.5" y2="1232.6" stroke="#231f20" stroke-width="1.3"/>
<line x1="450" y1="1232.6" x2="456.5" y2="1232.6" stroke="#231f20" stroke-width="1.3"/>
<text x="444.6" y="1238.6" font-size="18" text-anchor="end" font-weight="normal" fill="#231f20">0</text>
<line x1="450" y1="1165.5" x2="456.5" y2="1165.5" stroke="#231f20" stroke-width="1.3"/>
<text x="444.6" y="1171.5" font-size="18" text-anchor="end" font-weight="normal" fill="#231f20">2</text>
<line x1="450" y1="1098.4" x2="456.5" y2="1098.4" stroke="#231f20" stroke-width="1.3"/>
<text x="444.6" y="1104.4" font-size="18" text-anchor="end" font-weight="normal" fill="#231f20">4</text>
<line x1="450" y1="1031.3" x2="456.5" y2="1031.3" stroke="#231f20" stroke-width="1.3"/>
<text x="444.6" y="1037.3" font-size="18" text-anchor="end" font-weight="normal" fill="#231f20">6</text>
<line x1="456.5" y1="1232.6" x2="715.5" y2="1232.6" stroke="#231f20" stroke-width="1.3"/>
<line x1="456.5" y1="1232.6" x2="456.5" y2="1239.8" stroke="#231f20" stroke-width="1.3"/>
<line x1="586" y1="1232.6" x2="586" y2="1239.8" stroke="#231f20" stroke-width="1.3"/>
<line x1="715" y1="1232.6" x2="715" y2="1239.8" stroke="#231f20" stroke-width="1.3"/>
<line x1="490.4" y1="1207.8" x2="490.4" y2="1211.8" stroke="#231f20" stroke-width="1.3"/>
<line x1="485.2" y1="1207.8" x2="495.6" y2="1207.8" stroke="#231f20" stroke-width="1.5"/>
<rect x="480.2" y="1211.8" width="20.4" height="20.8" fill="#808285" stroke="#231f20" stroke-width="1.4"/>
<line x1="510.9" y1="1174.6" x2="510.9" y2="1183.3" stroke="#231f20" stroke-width="1.3"/>
<line x1="505.7" y1="1174.6" x2="516.1" y2="1174.6" stroke="#231f20" stroke-width="1.5"/>
<rect x="500.6" y="1183.3" width="20.4" height="49.3" fill="#808285" stroke="#231f20" stroke-width="1.4"/>
<line x1="531.3" y1="1100.7" x2="531.3" y2="1121.5" stroke="#231f20" stroke-width="1.3"/>
<line x1="526.1" y1="1100.7" x2="536.5" y2="1100.7" stroke="#231f20" stroke-width="1.5"/>
<rect x="521.1" y="1121.5" width="20.4" height="111.1" fill="#808285" stroke="#231f20" stroke-width="1.4"/>
<line x1="551.8" y1="1046.7" x2="551.8" y2="1055.5" stroke="#231f20" stroke-width="1.3"/>
<line x1="546.6" y1="1046.7" x2="557" y2="1046.7" stroke="#231f20" stroke-width="1.5"/>
<rect x="541.5" y="1055.5" width="20.4" height="177.1" fill="#808285" stroke="#231f20" stroke-width="1.4"/>
<line x1="620.6" y1="1217.2" x2="620.6" y2="1220.5" stroke="#231f20" stroke-width="1.3"/>
<line x1="615.4" y1="1217.2" x2="625.8" y2="1217.2" stroke="#231f20" stroke-width="1.5"/>
<rect x="610.4" y="1220.5" width="20.4" height="12.1" fill="#fff" stroke="#231f20" stroke-width="1.4"/>
<line x1="641.1" y1="1195" x2="641.1" y2="1199" stroke="#231f20" stroke-width="1.3"/>
<line x1="635.9" y1="1195" x2="646.3" y2="1195" stroke="#231f20" stroke-width="1.5"/>
<rect x="630.9" y="1199" width="20.4" height="33.5" fill="#fff" stroke="#231f20" stroke-width="1.4"/>
<line x1="661.5" y1="1163.8" x2="661.5" y2="1171.5" stroke="#231f20" stroke-width="1.3"/>
<line x1="656.3" y1="1163.8" x2="666.7" y2="1163.8" stroke="#231f20" stroke-width="1.5"/>
<rect x="651.3" y="1171.5" width="20.4" height="61.1" fill="#fff" stroke="#231f20" stroke-width="1.4"/>
<line x1="682" y1="1122.9" x2="682" y2="1136.3" stroke="#231f20" stroke-width="1.3"/>
<line x1="676.8" y1="1122.9" x2="687.2" y2="1122.9" stroke="#231f20" stroke-width="1.5"/>
<rect x="671.8" y="1136.3" width="20.4" height="96.3" fill="#fff" stroke="#231f20" stroke-width="1.4"/>
<text x="511.6" y="1175.2" font-size="20" text-anchor="middle" font-weight="normal" fill="#231f20">*</text>
<text x="531" y="1101.2" font-size="20" text-anchor="middle" font-weight="normal" fill="#231f20">***</text>
<text x="552.1" y="1046.8" font-size="20" text-anchor="middle" font-weight="normal" fill="#231f20">***</text>
<text x="640.8" y="1188.8" font-size="15" text-anchor="middle" font-weight="normal" fill="#231f20" font-family=""Liberation Serif", serif" font-style="italic" letter-spacing="-0.8" stroke="#231f20" stroke-width="0.35">##</text>
<text x="659.7" y="1158" font-size="15" text-anchor="middle" font-weight="normal" fill="#231f20" font-family=""Liberation Serif", serif" font-style="italic" letter-spacing="-0.8" stroke="#231f20" stroke-width="0.35">###</text>
<text x="680.8" y="1116.2" font-size="15" text-anchor="middle" font-weight="normal" fill="#231f20" font-family=""Liberation Serif", serif" font-style="italic" letter-spacing="-0.8" stroke="#231f20" stroke-width="0.35">###</text>
<rect x="589.6" y="1035.8" width="25.4" height="13.6" fill="#808285" stroke="#231f20" stroke-width="1.4"/>
<rect x="589.6" y="1055.8" width="25.4" height="13.6" fill="#fff" stroke="#231f20" stroke-width="1.4"/>
<text x="630" y="1048.8" font-size="18" text-anchor="start" font-weight="normal" fill="#231f20">Caspase-3</text>
<text x="630" y="1068.4" font-size="18" text-anchor="start" font-weight="normal" fill="#231f20">Caspase-9</text>
<text x="419" y="1129.9" font-size="18.7" text-anchor="middle" font-weight="normal" fill="#231f20" transform="rotate(-90 419 1129.9)">Activity unit</text>
<text x="497.8" y="1253.5" font-size="18" text-anchor="end" font-weight="normal" fill="#231f20" transform="rotate(-45 497.8 1253.5)">Control</text>
<text x="520.5" y="1253.5" font-size="18" text-anchor="end" font-weight="normal" fill="#231f20" transform="rotate(-45 520.5 1253.5)">25</text>
<text x="541.8" y="1253.5" font-size="18" text-anchor="end" font-weight="normal" fill="#231f20" transform="rotate(-45 541.8 1253.5)">50</text>
<text x="563.7" y="1253.5" font-size="18" text-anchor="end" font-weight="normal" fill="#231f20" transform="rotate(-45 563.7 1253.5)">100</text>
<text x="626.7" y="1253.5" font-size="18" text-anchor="end" font-weight="normal" fill="#231f20" transform="rotate(-45 626.7 1253.5)">Control</text>
<text x="649.5" y="1253.5" font-size="18" text-anchor="end" font-weight="normal" fill="#231f20" transform="rotate(-45 649.5 1253.5)">25</text>
<text x="669.5" y="1253.5" font-size="18" text-anchor="end" font-weight="normal" fill="#231f20" transform="rotate(-45 669.5 1253.5)">50</text>
<text x="691.6" y="1253.5" font-size="18" text-anchor="end" font-weight="normal" fill="#231f20" transform="rotate(-45 691.6 1253.5)">100</text>
<text x="587.6" y="1311.5" font-size="18" text-anchor="middle" font-weight="normal" fill="#231f20">Concentration of chaetominine (nM)</text>
</svg></body></html>
